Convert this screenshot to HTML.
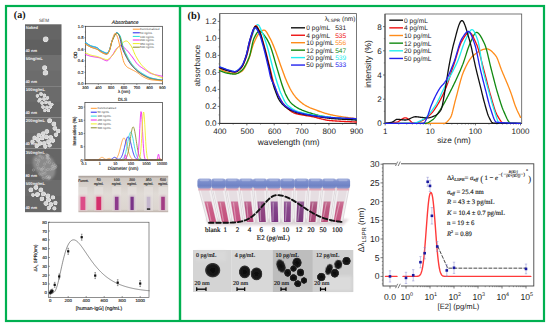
<!DOCTYPE html><html><head><meta charset="utf-8"><style>html,body{margin:0;padding:0;width:550px;height:327px;overflow:hidden;background:#fff}</style></head><body><svg width="550" height="327" viewBox="0 0 550 327" style="position:absolute;left:0;top:0;text-rendering:geometricPrecision">
<defs>
<radialGradient id="np" cx="0.5" cy="0.5" r="0.5"><stop offset="0" stop-color="#a8a8a8"/><stop offset="0.55" stop-color="#c8c8c8"/><stop offset="0.8" stop-color="#ececec"/><stop offset="1" stop-color="#808080" stop-opacity="0"/></radialGradient>
<radialGradient id="np2" cx="0.45" cy="0.45" r="0.55"><stop offset="0" stop-color="#d2d2d2"/><stop offset="0.6" stop-color="#dadada"/><stop offset="0.85" stop-color="#e8e8e8"/><stop offset="1" stop-color="#b0b0b0" stop-opacity="0.25"/></radialGradient>
<radialGradient id="tp" cx="0.5" cy="0.5" r="0.5"><stop offset="0" stop-color="#0a0a0a"/><stop offset="0.7" stop-color="#1a1a1a"/><stop offset="0.88" stop-color="#3a3a3a"/><stop offset="1" stop-color="#606060" stop-opacity="0"/></radialGradient>
<filter id="blur1" x="-50%" y="-50%" width="200%" height="200%"><feGaussianBlur stdDeviation="0.35"/></filter>
<filter id="blur2" x="-50%" y="-50%" width="200%" height="200%"><feGaussianBlur stdDeviation="0.8"/></filter><filter id="blurT" x="-50%" y="-50%" width="200%" height="200%"><feGaussianBlur stdDeviation="0.55"/></filter>
<filter id="blur3" x="-50%" y="-50%" width="200%" height="200%"><feGaussianBlur stdDeviation="1.5"/></filter>
<linearGradient id="cap" x1="0" y1="0" x2="0" y2="1"><stop offset="0" stop-color="#a4b0dc"/><stop offset="0.3" stop-color="#7c8ecc"/><stop offset="0.75" stop-color="#6e82c4"/><stop offset="1" stop-color="#8a9ad0"/></linearGradient>
<linearGradient id="cuv" x1="0" y1="0" x2="0" y2="1"><stop offset="0" stop-color="#a49a94"/><stop offset="0.07" stop-color="#cfc8c2"/><stop offset="0.5" stop-color="#e0dbd6"/><stop offset="0.92" stop-color="#dcd5cf"/><stop offset="1" stop-color="#bcb2aa"/></linearGradient>
</defs>
<rect x="0" y="0" width="550" height="327" fill="#ffffff" stroke="none" stroke-width="1" />
<text x="13.8" y="18.1" font-family="Liberation Serif" font-size="10" fill="#111" text-anchor="start" font-weight="bold" font-style="normal" >(a)</text>
<text x="44" y="22.2" font-family="Liberation Sans" font-size="4.6" fill="#444" text-anchor="middle" font-weight="normal" font-style="normal" >SEM</text>
<rect x="25" y="24.3" width="36.5" height="30.7" fill="#606060" stroke="none" stroke-width="1" />
<rect x="25" y="24.3" width="36.5" height="15.35" fill="#ffffff" stroke="none" stroke-width="1" opacity="0.03"/>
<text x="25.8" y="29.3" font-family="Liberation Sans" font-size="4.1" fill="#f4f4f4" text-anchor="start" font-weight="bold" font-style="normal" >Naked</text>
<text x="25.4" y="51.6" font-family="Liberation Sans" font-size="4.0" fill="#f4f4f4" text-anchor="start" font-weight="bold" font-style="normal" >40 nm</text>
<rect x="25" y="55" width="36.5" height="31.2" fill="#6c6c6c" stroke="none" stroke-width="1" />
<rect x="25" y="55" width="36.5" height="15.6" fill="#ffffff" stroke="none" stroke-width="1" opacity="0.03"/>
<text x="25.8" y="60" font-family="Liberation Sans" font-size="4.1" fill="#f4f4f4" text-anchor="start" font-weight="bold" font-style="normal" >50ng/mL</text>
<text x="25.4" y="82.8" font-family="Liberation Sans" font-size="4.0" fill="#f4f4f4" text-anchor="start" font-weight="bold" font-style="normal" >40 nm</text>
<rect x="25" y="86.2" width="36.5" height="31.2" fill="#676767" stroke="none" stroke-width="1" />
<rect x="25" y="86.2" width="36.5" height="15.6" fill="#ffffff" stroke="none" stroke-width="1" opacity="0.03"/>
<text x="25.8" y="91.2" font-family="Liberation Sans" font-size="4.1" fill="#f4f4f4" text-anchor="start" font-weight="bold" font-style="normal" >100ng/mL</text>
<text x="25.4" y="114" font-family="Liberation Sans" font-size="4.0" fill="#f4f4f4" text-anchor="start" font-weight="bold" font-style="normal" >40 nm</text>
<rect x="25" y="117.4" width="36.5" height="31.2" fill="#6a6a6a" stroke="none" stroke-width="1" />
<rect x="25" y="117.4" width="36.5" height="15.6" fill="#ffffff" stroke="none" stroke-width="1" opacity="0.03"/>
<text x="25.8" y="122.4" font-family="Liberation Sans" font-size="4.1" fill="#f4f4f4" text-anchor="start" font-weight="bold" font-style="normal" >200ng/mL</text>
<text x="25.4" y="145.2" font-family="Liberation Sans" font-size="4.0" fill="#f4f4f4" text-anchor="start" font-weight="bold" font-style="normal" >40 nm</text>
<rect x="25" y="148.6" width="36.5" height="31.4" fill="#626262" stroke="none" stroke-width="1" />
<rect x="25" y="148.6" width="36.5" height="15.7" fill="#ffffff" stroke="none" stroke-width="1" opacity="0.03"/>
<text x="25.8" y="153.6" font-family="Liberation Sans" font-size="4.1" fill="#f4f4f4" text-anchor="start" font-weight="bold" font-style="normal" >350ng/mL</text>
<text x="25.4" y="176.6" font-family="Liberation Sans" font-size="4.0" fill="#f4f4f4" text-anchor="start" font-weight="bold" font-style="normal" >80 nm</text>
<rect x="25" y="180" width="36.5" height="32.2" fill="#686868" stroke="none" stroke-width="1" />
<rect x="25" y="180" width="36.5" height="16.1" fill="#ffffff" stroke="none" stroke-width="1" opacity="0.03"/>
<text x="25.8" y="185" font-family="Liberation Sans" font-size="4.1" fill="#f4f4f4" text-anchor="start" font-weight="bold" font-style="normal" >500ng/mL</text>
<text x="25.4" y="208.8" font-family="Liberation Sans" font-size="4.0" fill="#f4f4f4" text-anchor="start" font-weight="bold" font-style="normal" >40 nm</text>
<path d="M33,158 Q38,152 46,155 Q54,157 55,166 Q57,176 50,180 Q43,181 39,174 Q31,167 33,158 Z" fill="#8a8a8a" filter="url(#blur2)"/>
<circle cx="38.47" cy="168.15" r="1.1" fill="none" stroke="#c0c0c0" stroke-width="0.45" opacity="0.8"/>
<circle cx="41.51" cy="169.7" r="1.1" fill="none" stroke="#c0c0c0" stroke-width="0.45" opacity="0.8"/>
<circle cx="47.39" cy="155.7" r="1.1" fill="none" stroke="#c0c0c0" stroke-width="0.45" opacity="0.8"/>
<circle cx="38.97" cy="160.09" r="1.1" fill="none" stroke="#c0c0c0" stroke-width="0.45" opacity="0.8"/>
<circle cx="55.9" cy="166.23" r="1.1" fill="none" stroke="#c0c0c0" stroke-width="0.45" opacity="0.8"/>
<circle cx="52.24" cy="166.39" r="1.1" fill="none" stroke="#c0c0c0" stroke-width="0.45" opacity="0.8"/>
<circle cx="47.7" cy="157.92" r="1.1" fill="none" stroke="#c0c0c0" stroke-width="0.45" opacity="0.8"/>
<circle cx="47.6" cy="176.57" r="1.1" fill="none" stroke="#c0c0c0" stroke-width="0.45" opacity="0.8"/>
<circle cx="45.03" cy="173.27" r="1.1" fill="none" stroke="#c0c0c0" stroke-width="0.45" opacity="0.8"/>
<circle cx="48.44" cy="155.66" r="1.1" fill="none" stroke="#c0c0c0" stroke-width="0.45" opacity="0.8"/>
<circle cx="50.44" cy="169.37" r="1.1" fill="none" stroke="#c0c0c0" stroke-width="0.45" opacity="0.8"/>
<circle cx="52.91" cy="166.29" r="1.1" fill="none" stroke="#c0c0c0" stroke-width="0.45" opacity="0.8"/>
<circle cx="49.53" cy="176.85" r="1.1" fill="none" stroke="#c0c0c0" stroke-width="0.45" opacity="0.8"/>
<circle cx="49.42" cy="177.95" r="1.1" fill="none" stroke="#c0c0c0" stroke-width="0.45" opacity="0.8"/>
<circle cx="42.08" cy="174.82" r="1.1" fill="none" stroke="#c0c0c0" stroke-width="0.45" opacity="0.8"/>
<circle cx="43.23" cy="178.33" r="1.1" fill="none" stroke="#c0c0c0" stroke-width="0.45" opacity="0.8"/>
<circle cx="36.13" cy="159.64" r="1.1" fill="none" stroke="#c0c0c0" stroke-width="0.45" opacity="0.8"/>
<circle cx="55.21" cy="165.34" r="1.1" fill="none" stroke="#c0c0c0" stroke-width="0.45" opacity="0.8"/>
<circle cx="47.41" cy="161.83" r="1.1" fill="none" stroke="#c0c0c0" stroke-width="0.45" opacity="0.8"/>
<circle cx="44.67" cy="164.03" r="1.1" fill="none" stroke="#c0c0c0" stroke-width="0.45" opacity="0.8"/>
<circle cx="41.07" cy="169.21" r="1.1" fill="none" stroke="#c0c0c0" stroke-width="0.45" opacity="0.8"/>
<circle cx="46.44" cy="177.51" r="1.1" fill="none" stroke="#c0c0c0" stroke-width="0.45" opacity="0.8"/>
<circle cx="48.69" cy="178.15" r="1.1" fill="none" stroke="#c0c0c0" stroke-width="0.45" opacity="0.8"/>
<circle cx="48.44" cy="158.24" r="1.1" fill="none" stroke="#c0c0c0" stroke-width="0.45" opacity="0.8"/>
<circle cx="53.81" cy="168.8" r="1.1" fill="none" stroke="#c0c0c0" stroke-width="0.45" opacity="0.8"/>
<circle cx="49.42" cy="159.49" r="1.1" fill="none" stroke="#c0c0c0" stroke-width="0.45" opacity="0.8"/>
<circle cx="52.13" cy="168.91" r="1.1" fill="none" stroke="#c0c0c0" stroke-width="0.45" opacity="0.8"/>
<circle cx="42.44" cy="157.92" r="1.1" fill="none" stroke="#c0c0c0" stroke-width="0.45" opacity="0.8"/>
<circle cx="39.76" cy="173.99" r="1.1" fill="none" stroke="#c0c0c0" stroke-width="0.45" opacity="0.8"/>
<circle cx="47.13" cy="155.17" r="1.1" fill="none" stroke="#c0c0c0" stroke-width="0.45" opacity="0.8"/>
<circle cx="49.52" cy="162.6" r="1.1" fill="none" stroke="#c0c0c0" stroke-width="0.45" opacity="0.8"/>
<circle cx="40.12" cy="156" r="1.1" fill="none" stroke="#c0c0c0" stroke-width="0.45" opacity="0.8"/>
<circle cx="46.79" cy="154.82" r="1.1" fill="none" stroke="#c0c0c0" stroke-width="0.45" opacity="0.8"/>
<circle cx="37.54" cy="164.61" r="1.1" fill="none" stroke="#c0c0c0" stroke-width="0.45" opacity="0.8"/>
<circle cx="47.04" cy="158.06" r="1.1" fill="none" stroke="#c0c0c0" stroke-width="0.45" opacity="0.8"/>
<circle cx="53.62" cy="163.82" r="1.1" fill="none" stroke="#c0c0c0" stroke-width="0.45" opacity="0.8"/>
<circle cx="43.59" cy="167.52" r="1.1" fill="none" stroke="#c0c0c0" stroke-width="0.45" opacity="0.8"/>
<circle cx="47.81" cy="169.49" r="1.1" fill="none" stroke="#c0c0c0" stroke-width="0.45" opacity="0.8"/>
<circle cx="45.86" cy="170.12" r="1.1" fill="none" stroke="#c0c0c0" stroke-width="0.45" opacity="0.8"/>
<circle cx="54.63" cy="167.18" r="1.1" fill="none" stroke="#c0c0c0" stroke-width="0.45" opacity="0.8"/>
<circle cx="42.92" cy="172.73" r="1.1" fill="none" stroke="#c0c0c0" stroke-width="0.45" opacity="0.8"/>
<circle cx="38.47" cy="161.83" r="1.1" fill="none" stroke="#c0c0c0" stroke-width="0.45" opacity="0.8"/>
<circle cx="55.49" cy="167.55" r="1.1" fill="none" stroke="#c0c0c0" stroke-width="0.45" opacity="0.8"/>
<circle cx="42.55" cy="169.08" r="1.1" fill="none" stroke="#c0c0c0" stroke-width="0.45" opacity="0.8"/>
<circle cx="33.46" cy="170.01" r="1.1" fill="none" stroke="#c0c0c0" stroke-width="0.45" opacity="0.8"/>
<circle cx="47.54" cy="155.56" r="1.1" fill="none" stroke="#c0c0c0" stroke-width="0.45" opacity="0.8"/>
<circle cx="45.8" cy="39.4" r="3" fill="url(#np2)" filter="url(#blur1)"/>
<circle cx="44.7" cy="67.9" r="2.6" fill="url(#np2)" filter="url(#blur1)"/>
<circle cx="45.6" cy="72.9" r="2.9" fill="url(#np2)" filter="url(#blur1)"/>
<circle cx="37.5" cy="96" r="1.9" fill="url(#np2)" filter="url(#blur1)"/>
<circle cx="41" cy="94" r="2" fill="url(#np2)" filter="url(#blur1)"/>
<circle cx="44.5" cy="95.5" r="2" fill="url(#np2)" filter="url(#blur1)"/>
<circle cx="40" cy="99.5" r="2" fill="url(#np2)" filter="url(#blur1)"/>
<circle cx="44" cy="99" r="2" fill="url(#np2)" filter="url(#blur1)"/>
<circle cx="47.5" cy="98" r="2" fill="url(#np2)" filter="url(#blur1)"/>
<circle cx="42" cy="103" r="2" fill="url(#np2)" filter="url(#blur1)"/>
<circle cx="46" cy="102.5" r="2" fill="url(#np2)" filter="url(#blur1)"/>
<circle cx="49.5" cy="103" r="2" fill="url(#np2)" filter="url(#blur1)"/>
<circle cx="43" cy="107" r="2" fill="url(#np2)" filter="url(#blur1)"/>
<circle cx="47" cy="107.5" r="2" fill="url(#np2)" filter="url(#blur1)"/>
<circle cx="50.5" cy="107" r="1.9" fill="url(#np2)" filter="url(#blur1)"/>
<circle cx="45" cy="110.5" r="1.9" fill="url(#np2)" filter="url(#blur1)"/>
<circle cx="48.5" cy="110.5" r="1.9" fill="url(#np2)" filter="url(#blur1)"/>
<circle cx="39" cy="101" r="1.8" fill="url(#np2)" filter="url(#blur1)"/>
<circle cx="52" cy="104.5" r="1.8" fill="url(#np2)" filter="url(#blur1)"/>
<circle cx="49.7" cy="120.9" r="2.6" fill="url(#np2)" filter="url(#blur1)"/>
<circle cx="54" cy="124.1" r="2.5" fill="url(#np2)" filter="url(#blur1)"/>
<circle cx="55" cy="128.4" r="2.5" fill="url(#np2)" filter="url(#blur1)"/>
<circle cx="58.3" cy="131.1" r="2.4" fill="url(#np2)" filter="url(#blur1)"/>
<circle cx="56.1" cy="134.8" r="2.4" fill="url(#np2)" filter="url(#blur1)"/>
<circle cx="47" cy="131.6" r="2.5" fill="url(#np2)" filter="url(#blur1)"/>
<circle cx="43.3" cy="133.7" r="2.5" fill="url(#np2)" filter="url(#blur1)"/>
<circle cx="39" cy="135.3" r="2.4" fill="url(#np2)" filter="url(#blur1)"/>
<circle cx="34.7" cy="138" r="2.4" fill="url(#np2)" filter="url(#blur1)"/>
<circle cx="37.9" cy="139.6" r="2.5" fill="url(#np2)" filter="url(#blur1)"/>
<circle cx="42.2" cy="138" r="2.5" fill="url(#np2)" filter="url(#blur1)"/>
<circle cx="46.5" cy="137" r="2.5" fill="url(#np2)" filter="url(#blur1)"/>
<circle cx="50.8" cy="137.5" r="2.5" fill="url(#np2)" filter="url(#blur1)"/>
<circle cx="48.6" cy="141.8" r="2.5" fill="url(#np2)" filter="url(#blur1)"/>
<circle cx="44.3" cy="143.4" r="2.5" fill="url(#np2)" filter="url(#blur1)"/>
<circle cx="40" cy="143.4" r="2.5" fill="url(#np2)" filter="url(#blur1)"/>
<circle cx="32.6" cy="141.8" r="2.3" fill="url(#np2)" filter="url(#blur1)"/>
<circle cx="36.8" cy="146" r="2.3" fill="url(#np2)" filter="url(#blur1)"/>
<circle cx="45.4" cy="146.6" r="2.3" fill="url(#np2)" filter="url(#blur1)"/>
<circle cx="49.7" cy="145.5" r="2.3" fill="url(#np2)" filter="url(#blur1)"/>
<circle cx="52.9" cy="140.7" r="2.4" fill="url(#np2)" filter="url(#blur1)"/>
<circle cx="31" cy="190" r="2.5" fill="url(#np2)" filter="url(#blur1)"/>
<circle cx="36" cy="187.5" r="2.5" fill="url(#np2)" filter="url(#blur1)"/>
<circle cx="41" cy="190" r="2.5" fill="url(#np2)" filter="url(#blur1)"/>
<circle cx="37.5" cy="194.5" r="2.6" fill="url(#np2)" filter="url(#blur1)"/>
<circle cx="43.5" cy="194" r="2.6" fill="url(#np2)" filter="url(#blur1)"/>
<circle cx="48" cy="196" r="2.5" fill="url(#np2)" filter="url(#blur1)"/>
<circle cx="42" cy="199" r="2.4" fill="url(#np2)" filter="url(#blur1)"/>
<circle cx="48.5" cy="200" r="2.6" fill="url(#np2)" filter="url(#blur1)"/>
<circle cx="53" cy="197.5" r="2.3" fill="url(#np2)" filter="url(#blur1)"/>
<circle cx="46" cy="203.5" r="2.5" fill="url(#np2)" filter="url(#blur1)"/>
<circle cx="51" cy="204.5" r="2.5" fill="url(#np2)" filter="url(#blur1)"/>
<circle cx="55.5" cy="203" r="2.3" fill="url(#np2)" filter="url(#blur1)"/>
<circle cx="49" cy="208" r="2.3" fill="url(#np2)" filter="url(#blur1)"/>
<circle cx="54.5" cy="208.5" r="2.2" fill="url(#np2)" filter="url(#blur1)"/>
<circle cx="33" cy="195" r="2" fill="url(#np2)" filter="url(#blur1)"/>
<text x="125.2" y="24.2" font-family="Liberation Sans" font-size="5.0" fill="#222" text-anchor="middle" font-weight="normal" font-style="italic"  stroke="#222" stroke-width="0.14">Absorbance</text>
<rect x="85.5" y="26.3" width="77" height="57.5" fill="none" stroke="#333" stroke-width="0.7" />
<line x1="84.3" y1="83.8" x2="85.5" y2="83.8" stroke="#333" stroke-width="0.5" />
<text x="83.5" y="85.3" font-family="Liberation Sans" font-size="4.1" fill="#222" text-anchor="end" font-weight="normal" font-style="normal"  stroke="#222" stroke-width="0.14">0.0</text>
<line x1="84.3" y1="72.3" x2="85.5" y2="72.3" stroke="#333" stroke-width="0.5" />
<text x="83.5" y="73.8" font-family="Liberation Sans" font-size="4.1" fill="#222" text-anchor="end" font-weight="normal" font-style="normal"  stroke="#222" stroke-width="0.14">0.2</text>
<line x1="84.3" y1="60.8" x2="85.5" y2="60.8" stroke="#333" stroke-width="0.5" />
<text x="83.5" y="62.3" font-family="Liberation Sans" font-size="4.1" fill="#222" text-anchor="end" font-weight="normal" font-style="normal"  stroke="#222" stroke-width="0.14">0.4</text>
<line x1="84.3" y1="49.3" x2="85.5" y2="49.3" stroke="#333" stroke-width="0.5" />
<text x="83.5" y="50.8" font-family="Liberation Sans" font-size="4.1" fill="#222" text-anchor="end" font-weight="normal" font-style="normal"  stroke="#222" stroke-width="0.14">0.6</text>
<line x1="84.3" y1="37.8" x2="85.5" y2="37.8" stroke="#333" stroke-width="0.5" />
<text x="83.5" y="39.3" font-family="Liberation Sans" font-size="4.1" fill="#222" text-anchor="end" font-weight="normal" font-style="normal"  stroke="#222" stroke-width="0.14">0.8</text>
<line x1="84.3" y1="26.3" x2="85.5" y2="26.3" stroke="#333" stroke-width="0.5" />
<text x="83.5" y="27.8" font-family="Liberation Sans" font-size="4.1" fill="#222" text-anchor="end" font-weight="normal" font-style="normal"  stroke="#222" stroke-width="0.14">1.0</text>
<line x1="84.8" y1="78.05" x2="85.5" y2="78.05" stroke="#333" stroke-width="0.4" />
<line x1="84.8" y1="66.55" x2="85.5" y2="66.55" stroke="#333" stroke-width="0.4" />
<line x1="84.8" y1="55.05" x2="85.5" y2="55.05" stroke="#333" stroke-width="0.4" />
<line x1="84.8" y1="43.55" x2="85.5" y2="43.55" stroke="#333" stroke-width="0.4" />
<line x1="84.8" y1="32.05" x2="85.5" y2="32.05" stroke="#333" stroke-width="0.4" />
<line x1="85.5" y1="83.8" x2="85.5" y2="85" stroke="#333" stroke-width="0.5" />
<text x="85.5" y="89" font-family="Liberation Sans" font-size="3.8" fill="#222" text-anchor="middle" font-weight="normal" font-style="normal"  stroke="#222" stroke-width="0.14">300</text>
<line x1="98.33" y1="83.8" x2="98.33" y2="85" stroke="#333" stroke-width="0.5" />
<text x="98.33" y="89" font-family="Liberation Sans" font-size="3.8" fill="#222" text-anchor="middle" font-weight="normal" font-style="normal"  stroke="#222" stroke-width="0.14">400</text>
<line x1="111.17" y1="83.8" x2="111.17" y2="85" stroke="#333" stroke-width="0.5" />
<text x="111.17" y="89" font-family="Liberation Sans" font-size="3.8" fill="#222" text-anchor="middle" font-weight="normal" font-style="normal"  stroke="#222" stroke-width="0.14">500</text>
<line x1="124" y1="83.8" x2="124" y2="85" stroke="#333" stroke-width="0.5" />
<text x="124" y="89" font-family="Liberation Sans" font-size="3.8" fill="#222" text-anchor="middle" font-weight="normal" font-style="normal"  stroke="#222" stroke-width="0.14">600</text>
<line x1="136.83" y1="83.8" x2="136.83" y2="85" stroke="#333" stroke-width="0.5" />
<text x="136.83" y="89" font-family="Liberation Sans" font-size="3.8" fill="#222" text-anchor="middle" font-weight="normal" font-style="normal"  stroke="#222" stroke-width="0.14">700</text>
<line x1="149.67" y1="83.8" x2="149.67" y2="85" stroke="#333" stroke-width="0.5" />
<text x="149.67" y="89" font-family="Liberation Sans" font-size="3.8" fill="#222" text-anchor="middle" font-weight="normal" font-style="normal"  stroke="#222" stroke-width="0.14">800</text>
<line x1="162.5" y1="83.8" x2="162.5" y2="85" stroke="#333" stroke-width="0.5" />
<text x="162.5" y="89" font-family="Liberation Sans" font-size="3.8" fill="#222" text-anchor="middle" font-weight="normal" font-style="normal"  stroke="#222" stroke-width="0.14">900</text>
<text x="124" y="92.7" font-family="Liberation Sans" font-size="4.3" fill="#222" text-anchor="middle" font-weight="normal" font-style="normal"  stroke="#222" stroke-width="0.14">λ (nm)</text>
<text x="76.5" y="55" font-family="Liberation Sans" font-size="4.6" fill="#222" text-anchor="middle" font-weight="normal" font-style="normal" transform="rotate(-90 76.5 55)" stroke="#222" stroke-width="0.14">OD</text>
<path d="M85.5,54.47 L86.14,54.7 L86.78,54.93 L87.42,55.17 L88.07,55.4 L88.71,55.63 L89.35,55.84 L89.99,56.03 L90.63,56.2 L91.28,56.34 L91.92,56.48 L92.56,56.6 L93.2,56.71 L93.84,56.81 L94.48,56.92 L95.12,57.02 L95.77,57.12 L96.41,57.23 L97.05,57.35 L97.69,57.46 L98.33,57.57 L98.97,57.69 L99.62,57.83 L100.26,58 L100.9,58.26 L101.54,58.59 L102.18,58.94 L102.83,59.29 L103.47,59.6 L104.11,59.88 L104.75,60.18 L105.39,60.47 L106.03,60.69 L106.67,60.8 L107.32,60.72 L107.96,60.41 L108.6,59.91 L109.24,59.25 L109.88,58.48 L110.53,57.63 L111.17,56.75 L111.81,55.88 L112.45,55.05 L113.09,54.16 L113.73,53.11 L114.38,51.99 L115.02,50.86 L115.66,49.79 L116.3,48.86 L116.94,48.15 L117.58,47.56 L118.22,46.97 L118.87,46.45 L119.51,46.02 L120.15,45.73 L120.79,45.62 L121.43,45.72 L122.08,45.98 L122.72,46.38 L123.36,46.89 L124,47.47 L124.64,48.08 L125.28,48.7 L125.92,49.3 L126.57,49.91 L127.21,50.58 L127.85,51.31 L128.49,52.08 L129.13,52.89 L129.78,53.71 L130.42,54.55 L131.06,55.38 L131.7,56.2 L132.34,57.04 L132.98,57.94 L133.62,58.88 L134.27,59.83 L134.91,60.78 L135.55,61.7 L136.19,62.59 L136.83,63.42 L137.47,64.17 L138.12,64.82 L138.76,65.4 L139.4,65.93 L140.04,66.43 L140.68,66.9 L141.32,67.34 L141.97,67.76 L142.61,68.18 L143.25,68.59 L143.89,69 L144.53,69.42 L145.18,69.86 L145.82,70.32 L146.46,70.78 L147.1,71.23 L147.74,71.68 L148.38,72.1 L149.03,72.5 L149.67,72.86 L150.31,73.18 L150.95,73.45 L151.59,73.68 L152.23,73.89 L152.88,74.09 L153.52,74.28 L154.16,74.45 L154.8,74.62 L155.44,74.77 L156.08,74.92 L156.72,75.06 L157.37,75.2 L158.01,75.34 L158.65,75.47 L159.29,75.61 L159.93,75.74 L160.57,75.88 L161.22,76.02 L161.86,76.17 L162.5,76.33" fill="none" stroke="#ee22ee" stroke-width="1.0" stroke-linejoin="round" stroke-linecap="round" />
<path d="M85.5,52.75 L86.14,53.05 L86.78,53.36 L87.42,53.68 L88.07,53.99 L88.71,54.3 L89.35,54.58 L89.99,54.83 L90.63,55.05 L91.28,55.23 L91.92,55.39 L92.56,55.54 L93.2,55.67 L93.84,55.79 L94.48,55.92 L95.12,56.04 L95.77,56.18 L96.41,56.32 L97.05,56.49 L97.69,56.68 L98.33,56.88 L98.97,57.11 L99.62,57.35 L100.26,57.59 L100.9,57.84 L101.54,58.08 L102.18,58.32 L102.83,58.54 L103.47,58.75 L104.11,58.96 L104.75,59.18 L105.39,59.4 L106.03,59.57 L106.67,59.65 L107.32,59.59 L107.96,59.34 L108.6,58.96 L109.24,58.47 L109.88,57.92 L110.53,57.34 L111.17,56.77 L111.81,56.17 L112.45,55.45 L113.09,54.64 L113.73,53.76 L114.38,52.83 L115.02,51.87 L115.66,50.89 L116.3,49.92 L116.94,48.97 L117.58,48.08 L118.22,47.24 L118.87,46.49 L119.51,45.85 L120.15,45.25 L120.79,44.63 L121.43,44.01 L122.08,43.4 L122.72,42.82 L123.36,42.3 L124,41.84 L124.64,41.47 L125.28,41.2 L125.92,41.05 L126.57,41.04 L127.21,41.28 L127.85,41.75 L128.49,42.39 L129.13,43.17 L129.78,44.03 L130.42,44.94 L131.06,45.85 L131.7,46.9 L132.34,48.22 L132.98,49.72 L133.62,51.3 L134.27,52.87 L134.91,54.34 L135.55,55.62 L136.19,56.78 L136.83,57.9 L137.47,59 L138.12,60.07 L138.76,61.09 L139.4,62.06 L140.04,62.99 L140.68,63.86 L141.32,64.66 L141.97,65.4 L142.61,66.09 L143.25,66.75 L143.89,67.39 L144.53,68.01 L145.18,68.6 L145.82,69.16 L146.46,69.7 L147.1,70.22 L147.74,70.72 L148.38,71.19 L149.03,71.65 L149.67,72.08 L150.31,72.49 L150.95,72.88 L151.59,73.24 L152.23,73.59 L152.88,73.93 L153.52,74.25 L154.16,74.55 L154.8,74.84 L155.44,75.13 L156.08,75.4 L156.72,75.67 L157.37,75.93 L158.01,76.19 L158.65,76.45 L159.29,76.7 L159.93,76.96 L160.57,77.23 L161.22,77.49 L161.86,77.77 L162.5,78.05" fill="none" stroke="#eeee22" stroke-width="1.0" stroke-linejoin="round" stroke-linecap="round" />
<path d="M85.5,42.52 L86.14,42.95 L86.78,43.4 L87.42,43.87 L88.07,44.33 L88.71,44.77 L89.35,45.18 L89.99,45.55 L90.63,45.85 L91.28,46.1 L91.92,46.3 L92.56,46.48 L93.2,46.64 L93.84,46.79 L94.48,46.94 L95.12,47.11 L95.77,47.3 L96.41,47.53 L97.05,47.8 L97.69,48.21 L98.33,48.76 L98.97,49.37 L99.62,49.94 L100.26,50.39 L100.9,50.79 L101.54,51.16 L102.18,51.5 L102.83,51.82 L103.47,52.12 L104.11,52.41 L104.75,52.72 L105.39,53 L106.03,53.22 L106.67,53.32 L107.32,53.14 L107.96,52.5 L108.6,51.54 L109.24,50.45 L109.88,48.8 L110.53,46.39 L111.17,43.75 L111.81,41.4 L112.45,39.73 L113.09,38.23 L113.73,36.76 L114.38,35.4 L115.02,34.23 L115.66,33.33 L116.3,32.77 L116.94,32.64 L117.58,33 L118.22,33.78 L118.87,34.81 L119.51,36.09 L120.15,38.49 L120.79,41.64 L121.43,44.87 L122.08,47.52 L122.72,49.33 L123.36,50.91 L124,52.32 L124.64,53.62 L125.28,54.84 L125.92,56.05 L126.57,57.27 L127.21,58.49 L127.85,59.68 L128.49,60.82 L129.13,61.89 L129.78,62.86 L130.42,63.73 L131.06,64.56 L131.7,65.37 L132.34,66.13 L132.98,66.87 L133.62,67.58 L134.27,68.25 L134.91,68.89 L135.55,69.5 L136.19,70.08 L136.83,70.63 L137.47,71.15 L138.12,71.64 L138.76,72.11 L139.4,72.55 L140.04,72.97 L140.68,73.37 L141.32,73.76 L141.97,74.13 L142.61,74.49 L143.25,74.84 L143.89,75.17 L144.53,75.51 L145.18,75.85 L145.82,76.18 L146.46,76.5 L147.1,76.81 L147.74,77.1 L148.38,77.38 L149.03,77.63 L149.67,77.86 L150.31,78.05 L150.95,78.22 L151.59,78.38 L152.23,78.53 L152.88,78.68 L153.52,78.81 L154.16,78.94 L154.8,79.06 L155.44,79.17 L156.08,79.28 L156.72,79.39 L157.37,79.49 L158.01,79.6 L158.65,79.7 L159.29,79.8 L159.93,79.9 L160.57,80.01 L161.22,80.12 L161.86,80.23 L162.5,80.35" fill="none" stroke="#2222ee" stroke-width="1.0" stroke-linejoin="round" stroke-linecap="round" />
<path d="M85.5,42.4 L86.14,42.81 L86.78,43.24 L87.42,43.67 L88.07,44.11 L88.71,44.52 L89.35,44.91 L89.99,45.26 L90.63,45.56 L91.28,45.81 L91.92,46.02 L92.56,46.2 L93.2,46.37 L93.84,46.53 L94.48,46.69 L95.12,46.87 L95.77,47.06 L96.41,47.3 L97.05,47.57 L97.69,47.97 L98.33,48.49 L98.97,49.06 L99.62,49.6 L100.26,50.04 L100.9,50.45 L101.54,50.83 L102.18,51.19 L102.83,51.53 L103.47,51.83 L104.11,52.12 L104.75,52.43 L105.39,52.72 L106.03,52.93 L106.67,53.03 L107.32,52.86 L107.96,52.21 L108.6,51.25 L109.24,50.16 L109.88,48.54 L110.53,46.2 L111.17,43.64 L111.81,41.36 L112.45,39.76 L113.09,38.32 L113.73,36.92 L114.38,35.61 L115.02,34.47 L115.66,33.55 L116.3,32.91 L116.94,32.63 L117.58,32.76 L118.22,33.24 L118.87,34 L119.51,34.91 L120.15,35.98 L120.79,37.76 L121.43,40.14 L122.08,42.78 L122.72,45.36 L123.36,47.56 L124,49.27 L124.64,50.85 L125.28,52.33 L125.92,53.71 L126.57,55.02 L127.21,56.28 L127.85,57.5 L128.49,58.69 L129.13,59.83 L129.78,60.91 L130.42,61.93 L131.06,62.86 L131.7,63.72 L132.34,64.55 L132.98,65.34 L133.62,66.09 L134.27,66.82 L134.91,67.51 L135.55,68.17 L136.19,68.8 L136.83,69.4 L137.47,69.96 L138.12,70.5 L138.76,71.01 L139.4,71.49 L140.04,71.95 L140.68,72.39 L141.32,72.81 L141.97,73.22 L142.61,73.62 L143.25,74 L143.89,74.38 L144.53,74.75 L145.18,75.12 L145.82,75.49 L146.46,75.86 L147.1,76.21 L147.74,76.55 L148.38,76.88 L149.03,77.18 L149.67,77.45 L150.31,77.69 L150.95,77.9 L151.59,78.09 L152.23,78.26 L152.88,78.43 L153.52,78.59 L154.16,78.73 L154.8,78.87 L155.44,79 L156.08,79.13 L156.72,79.25 L157.37,79.37 L158.01,79.49 L158.65,79.61 L159.29,79.72 L159.93,79.84 L160.57,79.96 L161.22,80.09 L161.86,80.22 L162.5,80.35" fill="none" stroke="#22dddd" stroke-width="1.0" stroke-linejoin="round" stroke-linecap="round" />
<path d="M85.5,44.12 L86.14,44.49 L86.78,44.87 L87.42,45.26 L88.07,45.64 L88.71,46.01 L89.35,46.37 L89.99,46.7 L90.63,47 L91.28,47.27 L91.92,47.51 L92.56,47.73 L93.2,47.93 L93.84,48.14 L94.48,48.34 L95.12,48.55 L95.77,48.78 L96.41,49.02 L97.05,49.3 L97.69,49.62 L98.33,49.99 L98.97,50.38 L99.62,50.79 L100.26,51.19 L100.9,51.63 L101.54,52.1 L102.18,52.55 L102.83,52.95 L103.47,53.27 L104.11,53.52 L104.75,53.76 L105.39,53.96 L106.03,54.12 L106.67,54.19 L107.32,54.01 L107.96,53.36 L108.6,52.41 L109.24,51.31 L109.88,49.67 L110.53,47.29 L111.17,44.67 L111.81,42.32 L112.45,40.65 L113.09,39.12 L113.73,37.62 L114.38,36.23 L115.02,35.02 L115.66,34.06 L116.3,33.43 L116.94,33.2 L117.58,33.42 L118.22,34.01 L118.87,34.86 L119.51,35.87 L120.15,37.3 L120.79,39.65 L121.43,42.48 L122.08,45.34 L122.72,47.76 L123.36,49.58 L124,51.25 L124.64,52.79 L125.28,54.23 L125.92,55.57 L126.57,56.85 L127.21,58.08 L127.85,59.25 L128.49,60.37 L129.13,61.42 L129.78,62.41 L130.42,63.33 L131.06,64.18 L131.7,65 L132.34,65.78 L132.98,66.54 L133.62,67.26 L134.27,67.96 L134.91,68.62 L135.55,69.27 L136.19,69.88 L136.83,70.47 L137.47,71.04 L138.12,71.59 L138.76,72.12 L139.4,72.63 L140.04,73.13 L140.68,73.6 L141.32,74.06 L141.97,74.5 L142.61,74.91 L143.25,75.31 L143.89,75.68 L144.53,76.03 L145.18,76.38 L145.82,76.72 L146.46,77.05 L147.1,77.36 L147.74,77.66 L148.38,77.93 L149.03,78.18 L149.67,78.4 L150.31,78.59 L150.95,78.75 L151.59,78.9 L152.23,79.04 L152.88,79.17 L153.52,79.29 L154.16,79.4 L154.8,79.51 L155.44,79.61 L156.08,79.71 L156.72,79.8 L157.37,79.89 L158.01,79.98 L158.65,80.07 L159.29,80.16 L159.93,80.25 L160.57,80.34 L161.22,80.43 L161.86,80.53 L162.5,80.64" fill="none" stroke="#8a8a2a" stroke-width="1.0" stroke-linejoin="round" stroke-linecap="round" />
<path d="M85.5,44.12 L86.14,44.49 L86.78,44.87 L87.42,45.26 L88.07,45.64 L88.71,46.01 L89.35,46.37 L89.99,46.7 L90.63,47 L91.28,47.26 L91.92,47.5 L92.56,47.7 L93.2,47.9 L93.84,48.09 L94.48,48.29 L95.12,48.5 L95.77,48.73 L96.41,48.99 L97.05,49.3 L97.69,49.72 L98.33,50.25 L98.97,50.82 L99.62,51.34 L100.26,51.75 L100.9,52.1 L101.54,52.43 L102.18,52.72 L102.83,53 L103.47,53.27 L104.11,53.55 L104.75,53.86 L105.39,54.15 L106.03,54.37 L106.67,54.47 L107.32,54.25 L107.96,53.47 L108.6,52.32 L109.24,51.02 L109.88,49.21 L110.53,46.68 L111.17,43.9 L111.81,41.33 L112.45,39.36 L113.09,37.42 L113.73,35.57 L114.38,34.1 L115.02,33.28 L115.66,33.38 L116.3,34.34 L116.94,35.75 L117.58,37.3 L118.22,39.42 L118.87,42.04 L119.51,44.92 L120.15,47.8 L120.79,50.45 L121.43,53.02 L122.08,55.72 L122.72,58.34 L123.36,60.68 L124,62.54 L124.64,63.82 L125.28,64.9 L125.92,65.8 L126.57,66.55 L127.21,67.12 L127.85,67.57 L128.49,67.93 L129.13,68.23 L129.78,68.53 L130.42,68.85 L131.06,69.19 L131.7,69.52 L132.34,69.85 L132.98,70.18 L133.62,70.51 L134.27,70.85 L134.91,71.19 L135.55,71.55 L136.19,71.92 L136.83,72.3 L137.47,72.72 L138.12,73.18 L138.76,73.66 L139.4,74.17 L140.04,74.68 L140.68,75.18 L141.32,75.67 L141.97,76.12 L142.61,76.54 L143.25,76.9 L143.89,77.23 L144.53,77.55 L145.18,77.87 L145.82,78.17 L146.46,78.46 L147.1,78.72 L147.74,78.96 L148.38,79.17 L149.03,79.35 L149.67,79.49 L150.31,79.6 L150.95,79.71 L151.59,79.81 L152.23,79.9 L152.88,79.98 L153.52,80.06 L154.16,80.13 L154.8,80.2 L155.44,80.27 L156.08,80.33 L156.72,80.39 L157.37,80.44 L158.01,80.5 L158.65,80.55 L159.29,80.61 L159.93,80.67 L160.57,80.73 L161.22,80.79 L161.86,80.86 L162.5,80.92" fill="none" stroke="#ff9933" stroke-width="1.0" stroke-linejoin="round" stroke-linecap="round" />
<line x1="132.8" y1="29.2" x2="139.8" y2="29.2" stroke="#ff9933" stroke-width="1.0" />
<text x="140" y="30.3" font-family="Liberation Sans" font-size="3.0" fill="#444" text-anchor="start" font-weight="normal" font-style="normal" >Functionalized</text>
<line x1="132.8" y1="32.8" x2="139.8" y2="32.8" stroke="#2222ee" stroke-width="1.0" />
<text x="140" y="33.9" font-family="Liberation Sans" font-size="3.0" fill="#444" text-anchor="start" font-weight="normal" font-style="normal" >50 ng/mL</text>
<line x1="132.8" y1="36.4" x2="139.8" y2="36.4" stroke="#22dddd" stroke-width="1.0" />
<text x="140" y="37.5" font-family="Liberation Sans" font-size="3.0" fill="#444" text-anchor="start" font-weight="normal" font-style="normal" >100 ng/mL</text>
<line x1="132.8" y1="40" x2="139.8" y2="40" stroke="#ee22ee" stroke-width="1.0" />
<text x="140" y="41.1" font-family="Liberation Sans" font-size="3.0" fill="#444" text-anchor="start" font-weight="normal" font-style="normal" >200 ng/mL</text>
<line x1="132.8" y1="43.6" x2="139.8" y2="43.6" stroke="#eeee22" stroke-width="1.0" />
<text x="140" y="44.7" font-family="Liberation Sans" font-size="3.0" fill="#444" text-anchor="start" font-weight="normal" font-style="normal" >350 ng/mL</text>
<line x1="132.8" y1="47.2" x2="139.8" y2="47.2" stroke="#8a8a2a" stroke-width="1.0" />
<text x="140" y="48.3" font-family="Liberation Sans" font-size="3.0" fill="#444" text-anchor="start" font-weight="normal" font-style="normal" >500 ng/mL</text>
<text x="122.5" y="100.8" font-family="Liberation Sans" font-size="4.7" fill="#222" text-anchor="middle" font-weight="normal" font-style="normal"  stroke="#222" stroke-width="0.14">DLS</text>
<rect x="84.9" y="102.4" width="77.5" height="57.6" fill="none" stroke="#333" stroke-width="0.7" />
<line x1="83.7" y1="160" x2="84.9" y2="160" stroke="#333" stroke-width="0.5" />
<text x="82.9" y="161.5" font-family="Liberation Sans" font-size="4.1" fill="#222" text-anchor="end" font-weight="normal" font-style="normal"  stroke="#222" stroke-width="0.14">0</text>
<line x1="83.7" y1="146.75" x2="84.9" y2="146.75" stroke="#333" stroke-width="0.5" />
<text x="82.9" y="148.25" font-family="Liberation Sans" font-size="4.1" fill="#222" text-anchor="end" font-weight="normal" font-style="normal"  stroke="#222" stroke-width="0.14">5</text>
<line x1="83.7" y1="133.5" x2="84.9" y2="133.5" stroke="#333" stroke-width="0.5" />
<text x="82.9" y="135" font-family="Liberation Sans" font-size="4.1" fill="#222" text-anchor="end" font-weight="normal" font-style="normal"  stroke="#222" stroke-width="0.14">10</text>
<line x1="83.7" y1="120.25" x2="84.9" y2="120.25" stroke="#333" stroke-width="0.5" />
<text x="82.9" y="121.75" font-family="Liberation Sans" font-size="4.1" fill="#222" text-anchor="end" font-weight="normal" font-style="normal"  stroke="#222" stroke-width="0.14">15</text>
<line x1="83.7" y1="107" x2="84.9" y2="107" stroke="#333" stroke-width="0.5" />
<text x="82.9" y="108.5" font-family="Liberation Sans" font-size="4.1" fill="#222" text-anchor="end" font-weight="normal" font-style="normal"  stroke="#222" stroke-width="0.14">20</text>
<line x1="84.2" y1="160" x2="84.2" y2="161.2" stroke="#333" stroke-width="0.5" />
<text x="84.2" y="165" font-family="Liberation Sans" font-size="3.8" fill="#222" text-anchor="middle" font-weight="normal" font-style="normal"  stroke="#222" stroke-width="0.14">0.1</text>
<line x1="99.75" y1="160" x2="99.75" y2="161.2" stroke="#333" stroke-width="0.5" />
<text x="99.75" y="165" font-family="Liberation Sans" font-size="3.8" fill="#222" text-anchor="middle" font-weight="normal" font-style="normal"  stroke="#222" stroke-width="0.14">1</text>
<line x1="115.3" y1="160" x2="115.3" y2="161.2" stroke="#333" stroke-width="0.5" />
<text x="115.3" y="165" font-family="Liberation Sans" font-size="3.8" fill="#222" text-anchor="middle" font-weight="normal" font-style="normal"  stroke="#222" stroke-width="0.14">10</text>
<line x1="130.85" y1="160" x2="130.85" y2="161.2" stroke="#333" stroke-width="0.5" />
<text x="130.85" y="165" font-family="Liberation Sans" font-size="3.8" fill="#222" text-anchor="middle" font-weight="normal" font-style="normal"  stroke="#222" stroke-width="0.14">100</text>
<line x1="146.4" y1="160" x2="146.4" y2="161.2" stroke="#333" stroke-width="0.5" />
<text x="146.4" y="165" font-family="Liberation Sans" font-size="3.8" fill="#222" text-anchor="middle" font-weight="normal" font-style="normal"  stroke="#222" stroke-width="0.14">1000</text>
<line x1="161.95" y1="160" x2="161.95" y2="161.2" stroke="#333" stroke-width="0.5" />
<text x="161.95" y="165" font-family="Liberation Sans" font-size="3.8" fill="#222" text-anchor="middle" font-weight="normal" font-style="normal"  stroke="#222" stroke-width="0.14">10000</text>
<text x="123" y="169.5" font-family="Liberation Sans" font-size="4.8" fill="#222" text-anchor="middle" font-weight="normal" font-style="normal"  stroke="#222" stroke-width="0.14">Diameter (nm)</text>
<text x="75.5" y="131" font-family="Liberation Sans" font-size="4.6" fill="#222" text-anchor="middle" font-weight="normal" font-style="normal" transform="rotate(-90 75.5 131)" stroke="#222" stroke-width="0.14">Intensities (%)</text>
<path d="M84.2,160 L84.51,160 L84.82,160 L85.14,160 L85.45,160 L85.76,160 L86.07,160 L86.39,160 L86.7,160 L87.01,160 L87.32,160 L87.63,160 L87.95,160 L88.26,160 L88.57,160 L88.88,160 L89.2,160 L89.51,160 L89.82,160 L90.13,160 L90.44,160 L90.76,160 L91.07,160 L91.38,160 L91.69,160 L92.01,160 L92.32,160 L92.63,160 L92.94,160 L93.26,160 L93.57,160 L93.88,160 L94.19,160 L94.5,160 L94.82,160 L95.13,159.99 L95.44,159.99 L95.75,159.98 L96.07,159.97 L96.38,159.95 L96.69,159.93 L97,159.89 L97.31,159.84 L97.63,159.77 L97.94,159.68 L98.25,159.57 L98.56,159.42 L98.88,159.25 L99.19,159.05 L99.5,158.82 L99.81,158.58 L100.12,158.33 L100.44,158.08 L100.75,157.85 L101.06,157.64 L101.37,157.49 L101.69,157.39 L102,157.35 L102.31,157.38 L102.62,157.47 L102.93,157.62 L103.25,157.81 L103.56,158.03 L103.87,158.28 L104.18,158.52 L104.5,158.75 L104.81,158.96 L105.12,159.14 L105.43,159.27 L105.75,159.35 L106.06,159.38 L106.37,159.36 L106.68,159.3 L106.99,159.19 L107.31,159.05 L107.62,158.9 L107.93,158.74 L108.24,158.6 L108.56,158.49 L108.87,158.42 L109.18,158.41 L109.49,158.45 L109.8,158.54 L110.12,158.68 L110.43,158.84 L110.74,159.02 L111.05,159.19 L111.37,159.36 L111.68,159.5 L111.99,159.62 L112.3,159.71 L112.61,159.77 L112.93,159.81 L113.24,159.82 L113.55,159.8 L113.86,159.77 L114.18,159.71 L114.49,159.63 L114.8,159.53 L115.11,159.39 L115.42,159.22 L115.74,159.01 L116.05,158.75 L116.36,158.44 L116.67,158.07 L116.99,157.63 L117.3,157.12 L117.61,156.53 L117.92,155.86 L118.24,155.1 L118.55,154.25 L118.86,153.31 L119.17,152.3 L119.48,151.21 L119.8,150.05 L120.11,148.84 L120.42,147.59 L120.73,146.33 L121.05,145.08 L121.36,143.85 L121.67,142.68 L121.98,141.59 L122.29,140.61 L122.61,139.76 L122.92,139.05 L123.23,138.52 L123.54,138.17 L123.86,138.01 L124.17,138.05 L124.48,138.29 L124.79,138.71 L125.1,139.31 L125.42,140.07 L125.73,140.98 L126.04,142.01 L126.35,143.13 L126.67,144.33 L126.98,145.57 L127.29,146.83 L127.6,148.08 L127.91,149.32 L128.23,150.51 L128.54,151.64 L128.85,152.71 L129.16,153.69 L129.48,154.59 L129.79,155.41 L130.1,156.13 L130.41,156.77 L130.73,157.33 L131.04,157.81 L131.35,158.22 L131.66,158.57 L131.97,158.86 L132.29,159.1 L132.6,159.29 L132.91,159.45 L133.22,159.58 L133.54,159.68 L133.85,159.76 L134.16,159.82 L134.47,159.86 L134.78,159.9 L135.1,159.93 L135.41,159.95 L135.72,159.96 L136.03,159.97 L136.35,159.98 L136.66,159.99 L136.97,159.99 L137.28,159.99 L137.59,160 L137.91,160 L138.22,160 L138.53,160 L138.84,160 L139.16,160 L139.47,160 L139.78,160 L140.09,160 L140.4,160 L140.72,160 L141.03,160 L141.34,160 L141.65,160 L141.97,160 L142.28,160 L142.59,160 L142.9,160 L143.22,160 L143.53,160 L143.84,160 L144.15,160 L144.46,160 L144.78,160 L145.09,160 L145.4,160 L145.71,160 L146.03,160 L146.34,160 L146.65,160 L146.96,160 L147.27,160 L147.59,160 L147.9,160 L148.21,160 L148.52,160 L148.84,160 L149.15,160 L149.46,160 L149.77,160 L150.08,160 L150.4,160 L150.71,160 L151.02,160 L151.33,160 L151.65,160 L151.96,160 L152.27,160 L152.58,160 L152.89,160 L153.21,160 L153.52,160 L153.83,160 L154.14,160 L154.46,160 L154.77,160 L155.08,159.99 L155.39,159.99 L155.71,159.98 L156.02,159.96 L156.33,159.92 L156.64,159.86 L156.95,159.77 L157.27,159.64 L157.58,159.47 L157.89,159.27 L158.2,159.05 L158.52,158.82 L158.83,158.63 L159.14,158.48 L159.45,158.41 L159.76,158.43 L160.08,158.54 L160.39,158.71 L160.7,158.92 L161.01,159.15 L161.33,159.36 L161.64,159.55 L161.95,159.7" fill="none" stroke="#ff9933" stroke-width="0.85" stroke-linejoin="round" stroke-linecap="round" />
<path d="M84.2,160 L84.51,160 L84.82,160 L85.14,160 L85.45,160 L85.76,160 L86.07,160 L86.39,160 L86.7,160 L87.01,160 L87.32,160 L87.63,160 L87.95,160 L88.26,160 L88.57,160 L88.88,160 L89.2,160 L89.51,160 L89.82,160 L90.13,160 L90.44,160 L90.76,160 L91.07,160 L91.38,160 L91.69,160 L92.01,160 L92.32,160 L92.63,160 L92.94,160 L93.26,160 L93.57,160 L93.88,160 L94.19,160 L94.5,160 L94.82,160 L95.13,160 L95.44,160 L95.75,160 L96.07,160 L96.38,160 L96.69,160 L97,160 L97.31,160 L97.63,160 L97.94,160 L98.25,160 L98.56,160 L98.88,160 L99.19,160 L99.5,160 L99.81,160 L100.12,160 L100.44,160 L100.75,160 L101.06,160 L101.37,160 L101.69,160 L102,160 L102.31,160 L102.62,160 L102.93,160 L103.25,160 L103.56,160 L103.87,160 L104.18,160 L104.5,160 L104.81,160 L105.12,160 L105.43,160 L105.75,160 L106.06,160 L106.37,160 L106.68,160 L106.99,160 L107.31,160 L107.62,159.99 L107.93,159.99 L108.24,159.98 L108.56,159.97 L108.87,159.96 L109.18,159.94 L109.49,159.9 L109.8,159.86 L110.12,159.79 L110.43,159.71 L110.74,159.6 L111.05,159.46 L111.37,159.3 L111.68,159.1 L111.99,158.88 L112.3,158.64 L112.61,158.39 L112.93,158.14 L113.24,157.9 L113.55,157.69 L113.86,157.52 L114.18,157.4 L114.49,157.35 L114.8,157.36 L115.11,157.43 L115.42,157.56 L115.74,157.74 L116.05,157.95 L116.36,158.19 L116.67,158.42 L116.99,158.65 L117.3,158.86 L117.61,159.03 L117.92,159.17 L118.24,159.26 L118.55,159.3 L118.86,159.3 L119.17,159.24 L119.48,159.13 L119.8,158.97 L120.11,158.75 L120.42,158.46 L120.73,158.11 L121.05,157.69 L121.36,157.19 L121.67,156.6 L121.98,155.93 L122.29,155.16 L122.61,154.3 L122.92,153.35 L123.23,152.31 L123.54,151.19 L123.86,149.99 L124.17,148.73 L124.48,147.42 L124.79,146.09 L125.1,144.75 L125.42,143.44 L125.73,142.17 L126.04,140.97 L126.35,139.88 L126.67,138.91 L126.98,138.1 L127.29,137.45 L127.6,136.99 L127.91,136.74 L128.23,136.69 L128.54,136.85 L128.85,137.21 L129.16,137.77 L129.48,138.5 L129.79,139.4 L130.1,140.44 L130.41,141.59 L130.73,142.82 L131.04,144.12 L131.35,145.45 L131.66,146.79 L131.97,148.11 L132.29,149.39 L132.6,150.62 L132.91,151.79 L133.22,152.87 L133.54,153.86 L133.85,154.77 L134.16,155.58 L134.47,156.29 L134.78,156.92 L135.1,157.47 L135.41,157.94 L135.72,158.33 L136.03,158.66 L136.35,158.94 L136.66,159.17 L136.97,159.35 L137.28,159.5 L137.59,159.61 L137.91,159.71 L138.22,159.78 L138.53,159.84 L138.84,159.88 L139.16,159.91 L139.47,159.94 L139.78,159.95 L140.09,159.97 L140.4,159.98 L140.72,159.98 L141.03,159.99 L141.34,159.99 L141.65,159.99 L141.97,160 L142.28,160 L142.59,160 L142.9,160 L143.22,160 L143.53,160 L143.84,160 L144.15,160 L144.46,160 L144.78,160 L145.09,160 L145.4,160 L145.71,160 L146.03,160 L146.34,160 L146.65,160 L146.96,160 L147.27,160 L147.59,160 L147.9,160 L148.21,160 L148.52,160 L148.84,160 L149.15,160 L149.46,160 L149.77,160 L150.08,160 L150.4,160 L150.71,160 L151.02,160 L151.33,160 L151.65,160 L151.96,160 L152.27,160 L152.58,160 L152.89,160 L153.21,160 L153.52,160 L153.83,160 L154.14,160 L154.46,160 L154.77,160 L155.08,160 L155.39,160 L155.71,160 L156.02,160 L156.33,160 L156.64,160 L156.95,160 L157.27,160 L157.58,160 L157.89,160 L158.2,160 L158.52,160 L158.83,160 L159.14,160 L159.45,160 L159.76,160 L160.08,160 L160.39,160 L160.7,160 L161.01,160 L161.33,160 L161.64,160 L161.95,160" fill="none" stroke="#2222ee" stroke-width="0.85" stroke-linejoin="round" stroke-linecap="round" />
<path d="M84.2,160 L84.51,160 L84.82,160 L85.14,160 L85.45,160 L85.76,160 L86.07,160 L86.39,160 L86.7,160 L87.01,160 L87.32,160 L87.63,160 L87.95,160 L88.26,160 L88.57,160 L88.88,160 L89.2,160 L89.51,160 L89.82,160 L90.13,160 L90.44,160 L90.76,160 L91.07,160 L91.38,160 L91.69,160 L92.01,160 L92.32,160 L92.63,160 L92.94,160 L93.26,160 L93.57,160 L93.88,160 L94.19,160 L94.5,160 L94.82,160 L95.13,160 L95.44,160 L95.75,160 L96.07,160 L96.38,160 L96.69,160 L97,160 L97.31,160 L97.63,160 L97.94,160 L98.25,160 L98.56,160 L98.88,160 L99.19,160 L99.5,160 L99.81,160 L100.12,160 L100.44,160 L100.75,160 L101.06,160 L101.37,160 L101.69,160 L102,160 L102.31,160 L102.62,160 L102.93,160 L103.25,160 L103.56,160 L103.87,160 L104.18,160 L104.5,160 L104.81,160 L105.12,160 L105.43,160 L105.75,160 L106.06,160 L106.37,160 L106.68,160 L106.99,160 L107.31,160 L107.62,160 L107.93,160 L108.24,160 L108.56,160 L108.87,160 L109.18,160 L109.49,160 L109.8,160 L110.12,160 L110.43,160 L110.74,160 L111.05,160 L111.37,160 L111.68,160 L111.99,160 L112.3,160 L112.61,160 L112.93,160 L113.24,160 L113.55,160 L113.86,160 L114.18,160 L114.49,160 L114.8,160 L115.11,160 L115.42,160 L115.74,160 L116.05,160 L116.36,160 L116.67,160 L116.99,160 L117.3,160 L117.61,160 L117.92,160 L118.24,159.99 L118.55,159.99 L118.86,159.98 L119.17,159.98 L119.48,159.96 L119.8,159.95 L120.11,159.93 L120.42,159.9 L120.73,159.85 L121.05,159.8 L121.36,159.73 L121.67,159.63 L121.98,159.5 L122.29,159.34 L122.61,159.13 L122.92,158.87 L123.23,158.55 L123.54,158.15 L123.86,157.67 L124.17,157.1 L124.48,156.42 L124.79,155.62 L125.1,154.71 L125.42,153.67 L125.73,152.5 L126.04,151.2 L126.35,149.79 L126.67,148.28 L126.98,146.67 L127.29,145 L127.6,143.3 L127.91,141.59 L128.23,139.92 L128.54,138.32 L128.85,136.83 L129.16,135.49 L129.48,134.33 L129.79,133.4 L130.1,132.72 L130.41,132.31 L130.73,132.18 L131.04,132.33 L131.35,132.76 L131.66,133.46 L131.97,134.41 L132.29,135.58 L132.6,136.93 L132.91,138.43 L133.22,140.04 L133.54,141.72 L133.85,143.43 L134.16,145.13 L134.47,146.79 L134.78,148.39 L135.1,149.9 L135.41,151.3 L135.72,152.59 L136.03,153.75 L136.35,154.78 L136.66,155.69 L136.97,156.47 L137.28,157.14 L137.59,157.71 L137.91,158.18 L138.22,158.57 L138.53,158.89 L138.84,159.15 L139.16,159.35 L139.47,159.51 L139.78,159.64 L140.09,159.73 L140.4,159.8 L140.72,159.86 L141.03,159.9 L141.34,159.93 L141.65,159.95 L141.97,159.97 L142.28,159.98 L142.59,159.98 L142.9,159.99 L143.22,159.99 L143.53,160 L143.84,160 L144.15,160 L144.46,160 L144.78,160 L145.09,160 L145.4,160 L145.71,160 L146.03,160 L146.34,160 L146.65,160 L146.96,160 L147.27,160 L147.59,160 L147.9,160 L148.21,160 L148.52,160 L148.84,160 L149.15,160 L149.46,160 L149.77,160 L150.08,160 L150.4,160 L150.71,160 L151.02,160 L151.33,160 L151.65,160 L151.96,160 L152.27,160 L152.58,160 L152.89,160 L153.21,160 L153.52,160 L153.83,160 L154.14,160 L154.46,160 L154.77,160 L155.08,160 L155.39,160 L155.71,160 L156.02,160 L156.33,160 L156.64,160 L156.95,160 L157.27,160 L157.58,160 L157.89,160 L158.2,160 L158.52,160 L158.83,160 L159.14,160 L159.45,160 L159.76,160 L160.08,160 L160.39,160 L160.7,160 L161.01,160 L161.33,160 L161.64,160 L161.95,160" fill="none" stroke="#22dddd" stroke-width="0.85" stroke-linejoin="round" stroke-linecap="round" />
<path d="M84.2,160 L84.51,160 L84.82,160 L85.14,160 L85.45,160 L85.76,160 L86.07,160 L86.39,160 L86.7,160 L87.01,160 L87.32,160 L87.63,160 L87.95,160 L88.26,160 L88.57,160 L88.88,160 L89.2,160 L89.51,160 L89.82,160 L90.13,160 L90.44,160 L90.76,160 L91.07,160 L91.38,160 L91.69,160 L92.01,160 L92.32,160 L92.63,160 L92.94,160 L93.26,160 L93.57,160 L93.88,160 L94.19,160 L94.5,160 L94.82,160 L95.13,160 L95.44,160 L95.75,160 L96.07,160 L96.38,160 L96.69,160 L97,160 L97.31,160 L97.63,160 L97.94,160 L98.25,160 L98.56,160 L98.88,160 L99.19,160 L99.5,160 L99.81,160 L100.12,160 L100.44,160 L100.75,160 L101.06,160 L101.37,160 L101.69,160 L102,160 L102.31,160 L102.62,160 L102.93,160 L103.25,160 L103.56,160 L103.87,160 L104.18,160 L104.5,160 L104.81,160 L105.12,160 L105.43,160 L105.75,160 L106.06,160 L106.37,160 L106.68,160 L106.99,160 L107.31,160 L107.62,160 L107.93,160 L108.24,160 L108.56,160 L108.87,160 L109.18,160 L109.49,160 L109.8,160 L110.12,160 L110.43,160 L110.74,160 L111.05,160 L111.37,160 L111.68,160 L111.99,160 L112.3,160 L112.61,160 L112.93,160 L113.24,160 L113.55,160 L113.86,160 L114.18,160 L114.49,160 L114.8,160 L115.11,160 L115.42,160 L115.74,160 L116.05,160 L116.36,160 L116.67,160 L116.99,160 L117.3,160 L117.61,160 L117.92,160 L118.24,160 L118.55,160 L118.86,160 L119.17,160 L119.48,160 L119.8,160 L120.11,160 L120.42,160 L120.73,159.99 L121.05,159.99 L121.36,159.99 L121.67,159.98 L121.98,159.97 L122.29,159.96 L122.61,159.94 L122.92,159.91 L123.23,159.88 L123.54,159.83 L123.86,159.76 L124.17,159.67 L124.48,159.54 L124.79,159.38 L125.1,159.17 L125.42,158.91 L125.73,158.57 L126.04,158.15 L126.35,157.63 L126.67,157 L126.98,156.24 L127.29,155.34 L127.6,154.29 L127.91,153.09 L128.23,151.72 L128.54,150.19 L128.85,148.5 L129.16,146.67 L129.48,144.73 L129.79,142.69 L130.1,140.59 L130.41,138.48 L130.73,136.4 L131.04,134.41 L131.35,132.55 L131.66,130.89 L131.97,129.46 L132.29,128.31 L132.6,127.48 L132.91,127 L133.22,126.88 L133.54,127.12 L133.85,127.73 L134.16,128.66 L134.47,129.91 L134.78,131.43 L135.1,133.16 L135.41,135.07 L135.72,137.1 L136.03,139.19 L136.35,141.3 L136.66,143.38 L136.97,145.4 L137.28,147.31 L137.59,149.09 L137.91,150.72 L138.22,152.2 L138.53,153.51 L138.84,154.66 L139.16,155.66 L139.47,156.51 L139.78,157.22 L140.09,157.81 L140.4,158.3 L140.72,158.69 L141.03,159 L141.34,159.25 L141.65,159.44 L141.97,159.59 L142.28,159.7 L142.59,159.78 L142.9,159.85 L143.22,159.89 L143.53,159.92 L143.84,159.95 L144.15,159.96 L144.46,159.98 L144.78,159.98 L145.09,159.99 L145.4,159.99 L145.71,160 L146.03,160 L146.34,160 L146.65,160 L146.96,160 L147.27,160 L147.59,160 L147.9,160 L148.21,160 L148.52,160 L148.84,160 L149.15,160 L149.46,160 L149.77,160 L150.08,160 L150.4,160 L150.71,160 L151.02,160 L151.33,160 L151.65,160 L151.96,160 L152.27,160 L152.58,160 L152.89,160 L153.21,160 L153.52,160 L153.83,160 L154.14,160 L154.46,160 L154.77,160 L155.08,160 L155.39,160 L155.71,160 L156.02,160 L156.33,160 L156.64,160 L156.95,160 L157.27,160 L157.58,160 L157.89,160 L158.2,160 L158.52,160 L158.83,160 L159.14,160 L159.45,160 L159.76,160 L160.08,160 L160.39,160 L160.7,160 L161.01,160 L161.33,160 L161.64,160 L161.95,160" fill="none" stroke="#8a8a2a" stroke-width="0.85" stroke-linejoin="round" stroke-linecap="round" />
<path d="M84.2,160 L84.51,160 L84.82,160 L85.14,160 L85.45,160 L85.76,160 L86.07,160 L86.39,160 L86.7,160 L87.01,160 L87.32,160 L87.63,160 L87.95,160 L88.26,160 L88.57,160 L88.88,160 L89.2,160 L89.51,160 L89.82,160 L90.13,160 L90.44,160 L90.76,160 L91.07,160 L91.38,160 L91.69,160 L92.01,160 L92.32,160 L92.63,160 L92.94,160 L93.26,160 L93.57,160 L93.88,160 L94.19,160 L94.5,160 L94.82,160 L95.13,160 L95.44,160 L95.75,160 L96.07,160 L96.38,160 L96.69,160 L97,160 L97.31,160 L97.63,160 L97.94,160 L98.25,160 L98.56,160 L98.88,160 L99.19,160 L99.5,160 L99.81,160 L100.12,160 L100.44,160 L100.75,160 L101.06,160 L101.37,160 L101.69,160 L102,160 L102.31,160 L102.62,160 L102.93,160 L103.25,160 L103.56,160 L103.87,160 L104.18,160 L104.5,160 L104.81,160 L105.12,160 L105.43,160 L105.75,160 L106.06,160 L106.37,160 L106.68,160 L106.99,160 L107.31,160 L107.62,160 L107.93,160 L108.24,160 L108.56,160 L108.87,160 L109.18,160 L109.49,160 L109.8,160 L110.12,160 L110.43,160 L110.74,160 L111.05,160 L111.37,160 L111.68,160 L111.99,160 L112.3,160 L112.61,160 L112.93,160 L113.24,160 L113.55,160 L113.86,160 L114.18,160 L114.49,160 L114.8,160 L115.11,160 L115.42,160 L115.74,160 L116.05,160 L116.36,160 L116.67,160 L116.99,160 L117.3,160 L117.61,160 L117.92,160 L118.24,160 L118.55,160 L118.86,160 L119.17,160 L119.48,160 L119.8,160 L120.11,160 L120.42,160 L120.73,160 L121.05,160 L121.36,160 L121.67,160 L121.98,160 L122.29,160 L122.61,160 L122.92,160 L123.23,159.98 L123.54,159.92 L123.86,159.72 L124.17,159.22 L124.48,158.23 L124.79,156.81 L125.1,155.41 L125.42,154.71 L125.73,155.13 L126.04,156.42 L126.35,157.89 L126.67,159.01 L126.98,159.63 L127.29,159.89 L127.6,159.97 L127.91,159.99 L128.23,160 L128.54,160 L128.85,160 L129.16,160 L129.48,160 L129.79,160 L130.1,160 L130.41,160 L130.73,160 L131.04,160 L131.35,160 L131.66,160 L131.97,160 L132.29,160 L132.6,160 L132.91,160 L133.22,160 L133.54,160 L133.85,160 L134.16,160 L134.47,160 L134.78,160 L135.1,159.99 L135.41,159.98 L135.72,159.96 L136.03,159.91 L136.35,159.81 L136.66,159.62 L136.97,159.27 L137.28,158.66 L137.59,157.65 L137.91,156.07 L138.22,153.74 L138.53,150.49 L138.84,146.23 L139.16,140.98 L139.47,134.96 L139.78,128.57 L140.09,122.39 L140.4,117.09 L140.72,113.32 L141.03,111.59 L141.34,112.13 L141.65,114.87 L141.97,119.44 L142.28,125.24 L142.59,131.6 L142.9,137.88 L143.22,143.57 L143.53,148.37 L143.84,152.15 L144.15,154.95 L144.46,156.9 L144.78,158.19 L145.09,158.99 L145.4,159.46 L145.71,159.73 L146.03,159.87 L146.34,159.94 L146.65,159.97 L146.96,159.99 L147.27,160 L147.59,160 L147.9,160 L148.21,160 L148.52,160 L148.84,160 L149.15,160 L149.46,160 L149.77,160 L150.08,160 L150.4,160 L150.71,160 L151.02,160 L151.33,160 L151.65,160 L151.96,160 L152.27,160 L152.58,160 L152.89,160 L153.21,160 L153.52,160 L153.83,160 L154.14,160 L154.46,160 L154.77,160 L155.08,160 L155.39,160 L155.71,160 L156.02,160 L156.33,159.97 L156.64,159.89 L156.95,159.63 L157.27,158.99 L157.58,157.8 L157.89,156.2 L158.2,154.73 L158.52,154.17 L158.83,154.84 L159.14,156.36 L159.45,157.94 L159.76,159.07 L160.08,159.66 L160.39,159.9 L160.7,159.98 L161.01,160 L161.33,160 L161.64,160 L161.95,160" fill="none" stroke="#ee22ee" stroke-width="0.85" stroke-linejoin="round" stroke-linecap="round" />
<path d="M84.2,160 L84.51,160 L84.82,160 L85.14,160 L85.45,160 L85.76,160 L86.07,160 L86.39,160 L86.7,160 L87.01,160 L87.32,160 L87.63,160 L87.95,160 L88.26,160 L88.57,160 L88.88,160 L89.2,160 L89.51,160 L89.82,160 L90.13,160 L90.44,160 L90.76,160 L91.07,160 L91.38,160 L91.69,160 L92.01,160 L92.32,160 L92.63,160 L92.94,160 L93.26,160 L93.57,160 L93.88,160 L94.19,160 L94.5,160 L94.82,160 L95.13,160 L95.44,160 L95.75,160 L96.07,160 L96.38,160 L96.69,160 L97,160 L97.31,160 L97.63,160 L97.94,160 L98.25,160 L98.56,160 L98.88,160 L99.19,160 L99.5,160 L99.81,160 L100.12,160 L100.44,160 L100.75,160 L101.06,160 L101.37,160 L101.69,160 L102,160 L102.31,160 L102.62,160 L102.93,160 L103.25,160 L103.56,160 L103.87,160 L104.18,160 L104.5,160 L104.81,160 L105.12,160 L105.43,160 L105.75,160 L106.06,160 L106.37,160 L106.68,160 L106.99,160 L107.31,160 L107.62,160 L107.93,160 L108.24,160 L108.56,160 L108.87,160 L109.18,160 L109.49,160 L109.8,160 L110.12,160 L110.43,160 L110.74,160 L111.05,160 L111.37,160 L111.68,160 L111.99,160 L112.3,160 L112.61,160 L112.93,160 L113.24,160 L113.55,160 L113.86,160 L114.18,160 L114.49,160 L114.8,160 L115.11,160 L115.42,160 L115.74,160 L116.05,160 L116.36,160 L116.67,160 L116.99,160 L117.3,160 L117.61,160 L117.92,160 L118.24,160 L118.55,160 L118.86,160 L119.17,160 L119.48,160 L119.8,160 L120.11,160 L120.42,160 L120.73,160 L121.05,160 L121.36,160 L121.67,160 L121.98,160 L122.29,160 L122.61,160 L122.92,160 L123.23,160 L123.54,160 L123.86,160 L124.17,160 L124.48,160 L124.79,160 L125.1,160 L125.42,160 L125.73,160 L126.04,160 L126.35,160 L126.67,160 L126.98,160 L127.29,160 L127.6,160 L127.91,160 L128.23,160 L128.54,160 L128.85,160 L129.16,160 L129.48,160 L129.79,160 L130.1,160 L130.41,160 L130.73,160 L131.04,160 L131.35,160 L131.66,160 L131.97,160 L132.29,160 L132.6,160 L132.91,160 L133.22,160 L133.54,160 L133.85,160 L134.16,160 L134.47,160 L134.78,160 L135.1,160 L135.41,160 L135.72,160 L136.03,160 L136.35,160 L136.66,160 L136.97,160 L137.28,159.99 L137.59,159.98 L137.91,159.95 L138.22,159.89 L138.53,159.79 L138.84,159.59 L139.16,159.25 L139.47,158.68 L139.78,157.77 L140.09,156.39 L140.4,154.39 L140.72,151.63 L141.03,148.03 L141.34,143.55 L141.65,138.32 L141.97,132.58 L142.28,126.71 L142.59,121.21 L142.9,116.63 L143.22,113.47 L143.53,112.08 L143.84,112.64 L144.15,115.08 L144.46,119.12 L144.78,124.29 L145.09,130.06 L145.4,135.92 L145.71,141.4 L146.03,146.22 L146.34,150.2 L146.65,153.31 L146.96,155.62 L147.27,157.25 L147.59,158.34 L147.9,159.04 L148.21,159.47 L148.52,159.72 L148.84,159.85 L149.15,159.93 L149.46,159.97 L149.77,159.98 L150.08,159.99 L150.4,160 L150.71,160 L151.02,160 L151.33,160 L151.65,160 L151.96,160 L152.27,160 L152.58,160 L152.89,160 L153.21,160 L153.52,160 L153.83,160 L154.14,160 L154.46,160 L154.77,160 L155.08,160 L155.39,160 L155.71,160 L156.02,160 L156.33,160 L156.64,160 L156.95,160 L157.27,160 L157.58,160 L157.89,160 L158.2,160 L158.52,160 L158.83,160 L159.14,160 L159.45,160 L159.76,160 L160.08,160 L160.39,160 L160.7,160 L161.01,160 L161.33,160 L161.64,160 L161.95,160" fill="none" stroke="#eeee22" stroke-width="0.85" stroke-linejoin="round" stroke-linecap="round" />
<line x1="84.9" y1="160" x2="162.4" y2="160" stroke="#222" stroke-width="0.8" />
<line x1="90.8" y1="108.3" x2="96.8" y2="108.3" stroke="#ff9933" stroke-width="1.0" />
<text x="97.4" y="109.4" font-family="Liberation Sans" font-size="2.9" fill="#444" text-anchor="start" font-weight="normal" font-style="normal" >Functionalized</text>
<line x1="90.8" y1="112.2" x2="96.8" y2="112.2" stroke="#2222ee" stroke-width="1.0" />
<text x="97.4" y="113.3" font-family="Liberation Sans" font-size="2.9" fill="#444" text-anchor="start" font-weight="normal" font-style="normal" >50 ng/mL</text>
<line x1="90.8" y1="116.1" x2="96.8" y2="116.1" stroke="#22dddd" stroke-width="1.0" />
<text x="97.4" y="117.2" font-family="Liberation Sans" font-size="2.9" fill="#444" text-anchor="start" font-weight="normal" font-style="normal" >100 ng/mL</text>
<line x1="90.8" y1="120" x2="96.8" y2="120" stroke="#ee22ee" stroke-width="1.0" />
<text x="97.4" y="121.1" font-family="Liberation Sans" font-size="2.9" fill="#444" text-anchor="start" font-weight="normal" font-style="normal" >200 ng/mL</text>
<line x1="90.8" y1="123.9" x2="96.8" y2="123.9" stroke="#eeee22" stroke-width="1.0" />
<text x="97.4" y="125" font-family="Liberation Sans" font-size="2.9" fill="#444" text-anchor="start" font-weight="normal" font-style="normal" >350 ng/mL</text>
<line x1="90.8" y1="127.8" x2="96.8" y2="127.8" stroke="#8a8a2a" stroke-width="1.0" />
<text x="97.4" y="128.9" font-family="Liberation Sans" font-size="2.9" fill="#444" text-anchor="start" font-weight="normal" font-style="normal" >500 ng/mL</text>
<rect x="78.4" y="175.8" width="89.8" height="36.4" fill="url(#cuv)" stroke="none" stroke-width="1" />
<rect x="78.4" y="187" width="9" height="24" fill="#ebe7e4" stroke="none" stroke-width="1" opacity="0.45"/>
<rect x="79.3" y="195.5" width="7.2" height="15" fill="#dc4c88" stroke="none" stroke-width="1" opacity="0.25" filter="url(#blur2)"/>
<rect x="80.5" y="196.8" width="4.8" height="13.2" fill="#dc4c88" stroke="none" stroke-width="1" />
<text x="83.4" y="181.6" font-family="Liberation Sans" font-size="3.5" fill="#222" text-anchor="middle" font-weight="normal" font-style="normal"  stroke="#222" stroke-width="0.14">Functi.</text>
<rect x="94.25" y="187" width="9" height="24" fill="#ebe7e4" stroke="none" stroke-width="1" opacity="0.45"/>
<rect x="95.15" y="195.5" width="7.2" height="15" fill="#d4306c" stroke="none" stroke-width="1" opacity="0.25" filter="url(#blur2)"/>
<rect x="96.35" y="196.8" width="4.8" height="13.2" fill="#d4306c" stroke="none" stroke-width="1" />
<text x="98.75" y="181.3" font-family="Liberation Sans" font-size="3.5" fill="#222" text-anchor="middle" font-weight="normal" font-style="normal"  stroke="#222" stroke-width="0.14">50</text>
<text x="98.75" y="185" font-family="Liberation Sans" font-size="3.5" fill="#222" text-anchor="middle" font-weight="normal" font-style="normal"  stroke="#222" stroke-width="0.14">ng/mL</text>
<rect x="112.2" y="187" width="9" height="24" fill="#ebe7e4" stroke="none" stroke-width="1" opacity="0.45"/>
<rect x="113.7" y="195.5" width="6" height="15" fill="#8c3a8c" stroke="none" stroke-width="1" opacity="0.25" filter="url(#blur2)"/>
<rect x="114.9" y="196.8" width="3.6" height="13.2" fill="#8c3a8c" stroke="none" stroke-width="1" />
<text x="116.7" y="181.3" font-family="Liberation Sans" font-size="3.5" fill="#222" text-anchor="middle" font-weight="normal" font-style="normal"  stroke="#222" stroke-width="0.14">100</text>
<text x="116.7" y="185" font-family="Liberation Sans" font-size="3.5" fill="#222" text-anchor="middle" font-weight="normal" font-style="normal"  stroke="#222" stroke-width="0.14">ng/mL</text>
<rect x="127.6" y="187" width="9" height="24" fill="#ebe7e4" stroke="none" stroke-width="1" opacity="0.45"/>
<rect x="129.3" y="195.5" width="5.6" height="15" fill="#7a3488" stroke="none" stroke-width="1" opacity="0.25" filter="url(#blur2)"/>
<rect x="130.5" y="196.8" width="3.2" height="13.2" fill="#7a3488" stroke="none" stroke-width="1" />
<text x="132.1" y="181.3" font-family="Liberation Sans" font-size="3.5" fill="#222" text-anchor="middle" font-weight="normal" font-style="normal"  stroke="#222" stroke-width="0.14">200</text>
<text x="132.1" y="185" font-family="Liberation Sans" font-size="3.5" fill="#222" text-anchor="middle" font-weight="normal" font-style="normal"  stroke="#222" stroke-width="0.14">ng/mL</text>
<rect x="144.05" y="187" width="9" height="24" fill="#ebe7e4" stroke="none" stroke-width="1" opacity="0.45"/>
<rect x="145.55" y="195.5" width="6" height="15" fill="#c4b6cc" stroke="none" stroke-width="1" opacity="0.25" filter="url(#blur2)"/>
<rect x="146.75" y="196.8" width="3.6" height="13.2" fill="#c4b6cc" stroke="none" stroke-width="1" />
<text x="148.55" y="181.3" font-family="Liberation Sans" font-size="3.5" fill="#222" text-anchor="middle" font-weight="normal" font-style="normal"  stroke="#222" stroke-width="0.14">350</text>
<text x="148.55" y="185" font-family="Liberation Sans" font-size="3.5" fill="#222" text-anchor="middle" font-weight="normal" font-style="normal"  stroke="#222" stroke-width="0.14">ng/mL</text>
<rect x="158.5" y="187" width="9" height="24" fill="#ebe7e4" stroke="none" stroke-width="1" opacity="0.45"/>
<rect x="160" y="195.5" width="6" height="15" fill="#a23c84" stroke="none" stroke-width="1" opacity="0.25" filter="url(#blur2)"/>
<rect x="161.2" y="196.8" width="3.6" height="13.2" fill="#a23c84" stroke="none" stroke-width="1" />
<text x="163" y="181.3" font-family="Liberation Sans" font-size="3.5" fill="#222" text-anchor="middle" font-weight="normal" font-style="normal"  stroke="#222" stroke-width="0.14">500</text>
<text x="163" y="185" font-family="Liberation Sans" font-size="3.5" fill="#222" text-anchor="middle" font-weight="normal" font-style="normal"  stroke="#222" stroke-width="0.14">ng/mL</text>
<rect x="146.9" y="208.2" width="3.3" height="1.8" fill="#3a3a3a" stroke="none" stroke-width="1" />
<rect x="48.5" y="222.2" width="100.5" height="75.3" fill="none" stroke="#444" stroke-width="0.6" />
<line x1="48.5" y1="292.8" x2="50" y2="292.8" stroke="#333" stroke-width="0.5" />
<text x="47" y="294.3" font-family="Liberation Sans" font-size="4.3" fill="#222" text-anchor="end" font-weight="normal" font-style="normal"  stroke="#222" stroke-width="0.14">0</text>
<line x1="48.5" y1="283.98" x2="50" y2="283.98" stroke="#333" stroke-width="0.5" />
<text x="47" y="285.48" font-family="Liberation Sans" font-size="4.3" fill="#222" text-anchor="end" font-weight="normal" font-style="normal"  stroke="#222" stroke-width="0.14">10</text>
<line x1="48.5" y1="275.15" x2="50" y2="275.15" stroke="#333" stroke-width="0.5" />
<text x="47" y="276.65" font-family="Liberation Sans" font-size="4.3" fill="#222" text-anchor="end" font-weight="normal" font-style="normal"  stroke="#222" stroke-width="0.14">20</text>
<line x1="48.5" y1="266.32" x2="50" y2="266.32" stroke="#333" stroke-width="0.5" />
<text x="47" y="267.82" font-family="Liberation Sans" font-size="4.3" fill="#222" text-anchor="end" font-weight="normal" font-style="normal"  stroke="#222" stroke-width="0.14">30</text>
<line x1="48.5" y1="257.5" x2="50" y2="257.5" stroke="#333" stroke-width="0.5" />
<text x="47" y="259" font-family="Liberation Sans" font-size="4.3" fill="#222" text-anchor="end" font-weight="normal" font-style="normal"  stroke="#222" stroke-width="0.14">40</text>
<line x1="48.5" y1="248.68" x2="50" y2="248.68" stroke="#333" stroke-width="0.5" />
<text x="47" y="250.18" font-family="Liberation Sans" font-size="4.3" fill="#222" text-anchor="end" font-weight="normal" font-style="normal"  stroke="#222" stroke-width="0.14">50</text>
<line x1="48.5" y1="239.85" x2="50" y2="239.85" stroke="#333" stroke-width="0.5" />
<text x="47" y="241.35" font-family="Liberation Sans" font-size="4.3" fill="#222" text-anchor="end" font-weight="normal" font-style="normal"  stroke="#222" stroke-width="0.14">60</text>
<line x1="48.5" y1="231.03" x2="50" y2="231.03" stroke="#333" stroke-width="0.5" />
<text x="47" y="232.53" font-family="Liberation Sans" font-size="4.3" fill="#222" text-anchor="end" font-weight="normal" font-style="normal"  stroke="#222" stroke-width="0.14">70</text>
<line x1="48.5" y1="222.2" x2="50" y2="222.2" stroke="#333" stroke-width="0.5" />
<text x="47" y="223.7" font-family="Liberation Sans" font-size="4.3" fill="#222" text-anchor="end" font-weight="normal" font-style="normal"  stroke="#222" stroke-width="0.14">80</text>
<line x1="50.2" y1="297.5" x2="50.2" y2="296" stroke="#333" stroke-width="0.5" />
<text x="50.2" y="302.3" font-family="Liberation Sans" font-size="4.3" fill="#222" text-anchor="middle" font-weight="normal" font-style="normal"  stroke="#222" stroke-width="0.14">0</text>
<line x1="68.2" y1="297.5" x2="68.2" y2="296" stroke="#333" stroke-width="0.5" />
<text x="68.2" y="302.3" font-family="Liberation Sans" font-size="4.3" fill="#222" text-anchor="middle" font-weight="normal" font-style="normal"  stroke="#222" stroke-width="0.14">200</text>
<line x1="86.2" y1="297.5" x2="86.2" y2="296" stroke="#333" stroke-width="0.5" />
<text x="86.2" y="302.3" font-family="Liberation Sans" font-size="4.3" fill="#222" text-anchor="middle" font-weight="normal" font-style="normal"  stroke="#222" stroke-width="0.14">400</text>
<line x1="104.2" y1="297.5" x2="104.2" y2="296" stroke="#333" stroke-width="0.5" />
<text x="104.2" y="302.3" font-family="Liberation Sans" font-size="4.3" fill="#222" text-anchor="middle" font-weight="normal" font-style="normal"  stroke="#222" stroke-width="0.14">600</text>
<line x1="122.2" y1="297.5" x2="122.2" y2="296" stroke="#333" stroke-width="0.5" />
<text x="122.2" y="302.3" font-family="Liberation Sans" font-size="4.3" fill="#222" text-anchor="middle" font-weight="normal" font-style="normal"  stroke="#222" stroke-width="0.14">800</text>
<line x1="140.2" y1="297.5" x2="140.2" y2="296" stroke="#333" stroke-width="0.5" />
<text x="140.2" y="302.3" font-family="Liberation Sans" font-size="4.3" fill="#222" text-anchor="middle" font-weight="normal" font-style="normal"  stroke="#222" stroke-width="0.14">1000</text>
<text x="99" y="310.2" font-family="Liberation Sans" font-size="5.0" fill="#111" text-anchor="middle" font-weight="normal" font-style="normal"  stroke="#111" stroke-width="0.14">[human-IgG] (ng/mL)</text>
<text x="37" y="258" font-family="Liberation Sans" font-size="4.6" fill="#222" text-anchor="middle" font-weight="normal" font-style="normal" transform="rotate(-90 37.0 258)" stroke="#222" stroke-width="0.14">Δλ<tspan font-size="3" dy="1">L</tspan><tspan dy="-1"> SPR(nm)</tspan></text>
<path d="M50.2,292.8 L50.7,292.8 L51.19,292.8 L51.69,292.8 L52.19,292.79 L52.69,292.75 L53.18,292.65 L53.68,292.45 L54.18,292.11 L54.68,291.6 L55.17,290.88 L55.67,289.95 L56.17,288.8 L56.67,287.43 L57.16,285.86 L57.66,284.12 L58.16,282.21 L58.66,280.17 L59.15,278.03 L59.65,275.82 L60.15,273.56 L60.65,271.27 L61.14,268.99 L61.64,266.73 L62.14,264.5 L62.64,262.34 L63.13,260.25 L63.63,258.23 L64.13,256.31 L64.63,254.49 L65.12,252.78 L65.62,251.17 L66.12,249.68 L66.62,248.3 L67.11,247.03 L67.61,245.88 L68.11,244.84 L68.61,243.91 L69.1,243.08 L69.6,242.36 L70.1,241.74 L70.6,241.21 L71.09,240.78 L71.59,240.44 L72.09,240.18 L72.59,239.99 L73.08,239.89 L73.58,239.85 L74.08,239.88 L74.58,239.99 L75.07,240.16 L75.57,240.39 L76.07,240.68 L76.57,241.02 L77.06,241.4 L77.56,241.84 L78.06,242.31 L78.56,242.82 L79.05,243.36 L79.55,243.93 L80.05,244.53 L80.55,245.16 L81.04,245.8 L81.54,246.46 L82.04,247.14 L82.54,247.84 L83.03,248.54 L83.53,249.26 L84.03,249.98 L84.53,250.71 L85.02,251.44 L85.52,252.17 L86.02,252.91 L86.52,253.65 L87.01,254.38 L87.51,255.12 L88.01,255.85 L88.51,256.57 L89,257.3 L89.5,258.01 L90,258.72 L90.5,259.43 L90.99,260.12 L91.49,260.81 L91.99,261.49 L92.49,262.16 L92.98,262.82 L93.48,263.48 L93.98,264.12 L94.48,264.75 L94.97,265.38 L95.47,265.99 L95.97,266.59 L96.47,267.18 L96.96,267.76 L97.46,268.34 L97.96,268.9 L98.46,269.45 L98.95,269.98 L99.45,270.51 L99.95,271.03 L100.45,271.54 L100.94,272.04 L101.44,272.52 L101.94,273 L102.44,273.47 L102.93,273.93 L103.43,274.37 L103.93,274.81 L104.43,275.24 L104.92,275.66 L105.42,276.07 L105.92,276.47 L106.42,276.86 L106.91,277.24 L107.41,277.61 L107.91,277.98 L108.41,278.33 L108.9,278.68 L109.4,279.02 L109.9,279.35 L110.4,279.68 L110.89,279.99 L111.39,280.3 L111.89,280.6 L112.39,280.9 L112.88,281.19 L113.38,281.47 L113.88,281.74 L114.38,282.01 L114.87,282.27 L115.37,282.52 L115.87,282.77 L116.37,283.01 L116.86,283.25 L117.36,283.48 L117.86,283.7 L118.36,283.92 L118.85,284.14 L119.35,284.34 L119.85,284.55 L120.35,284.75 L120.84,284.94 L121.34,285.13 L121.84,285.31 L122.34,285.49 L122.83,285.67 L123.33,285.84 L123.83,286 L124.33,286.17 L124.82,286.33 L125.32,286.48 L125.82,286.63 L126.32,286.78 L126.81,286.92 L127.31,287.06 L127.81,287.2 L128.31,287.33 L128.8,287.46 L129.3,287.59 L129.8,287.71 L130.3,287.83 L130.79,287.95 L131.29,288.06 L131.79,288.17 L132.29,288.28 L132.78,288.39 L133.28,288.49 L133.78,288.59 L134.28,288.69 L134.77,288.79 L135.27,288.88 L135.77,288.97 L136.27,289.06 L136.76,289.15 L137.26,289.23 L137.76,289.31 L138.26,289.4 L138.75,289.47 L139.25,289.55 L139.75,289.63 L140.25,289.7 L140.74,289.77 L141.24,289.84 L141.74,289.91 L142.24,289.97 L142.73,290.04 L143.23,290.1 L143.73,290.16 L144.23,290.22 L144.72,290.28 L145.22,290.34 L145.72,290.39 L146.22,290.45 L146.71,290.5 L147.21,290.55 L147.71,290.6 L148.21,290.65 L148.7,290.7 L149.2,290.75" fill="none" stroke="#444" stroke-width="0.6" stroke-linejoin="round" stroke-linecap="round" />
<line x1="50.2" y1="290.8" x2="50.2" y2="294.8" stroke="#222" stroke-width="0.4" />
<line x1="49.4" y1="290.8" x2="51" y2="290.8" stroke="#222" stroke-width="0.4" />
<line x1="49.4" y1="294.8" x2="51" y2="294.8" stroke="#222" stroke-width="0.4" />
<rect x="49.1" y="291.7" width="2.2" height="2.2" fill="#111" stroke="none" stroke-width="1" />
<line x1="50.92" y1="289.92" x2="50.92" y2="293.92" stroke="#222" stroke-width="0.4" />
<line x1="50.12" y1="289.92" x2="51.72" y2="289.92" stroke="#222" stroke-width="0.4" />
<line x1="50.12" y1="293.92" x2="51.72" y2="293.92" stroke="#222" stroke-width="0.4" />
<rect x="49.82" y="290.82" width="2.2" height="2.2" fill="#111" stroke="none" stroke-width="1" />
<line x1="51.55" y1="289.48" x2="51.55" y2="293.48" stroke="#222" stroke-width="0.4" />
<line x1="50.75" y1="289.48" x2="52.35" y2="289.48" stroke="#222" stroke-width="0.4" />
<line x1="50.75" y1="293.48" x2="52.35" y2="293.48" stroke="#222" stroke-width="0.4" />
<rect x="50.45" y="290.38" width="2.2" height="2.2" fill="#111" stroke="none" stroke-width="1" />
<line x1="52.45" y1="289.04" x2="52.45" y2="293.04" stroke="#222" stroke-width="0.4" />
<line x1="51.65" y1="289.04" x2="53.25" y2="289.04" stroke="#222" stroke-width="0.4" />
<line x1="51.65" y1="293.04" x2="53.25" y2="293.04" stroke="#222" stroke-width="0.4" />
<rect x="51.35" y="289.94" width="2.2" height="2.2" fill="#111" stroke="none" stroke-width="1" />
<line x1="54.7" y1="282.36" x2="54.7" y2="287.36" stroke="#222" stroke-width="0.4" />
<line x1="53.9" y1="282.36" x2="55.5" y2="282.36" stroke="#222" stroke-width="0.4" />
<line x1="53.9" y1="287.36" x2="55.5" y2="287.36" stroke="#222" stroke-width="0.4" />
<rect x="53.6" y="283.76" width="2.2" height="2.2" fill="#111" stroke="none" stroke-width="1" />
<line x1="59.2" y1="273.97" x2="59.2" y2="278.97" stroke="#222" stroke-width="0.4" />
<line x1="58.4" y1="273.97" x2="60" y2="273.97" stroke="#222" stroke-width="0.4" />
<line x1="58.4" y1="278.97" x2="60" y2="278.97" stroke="#222" stroke-width="0.4" />
<rect x="58.1" y="275.37" width="2.2" height="2.2" fill="#111" stroke="none" stroke-width="1" />
<line x1="68.2" y1="248.32" x2="68.2" y2="254.32" stroke="#222" stroke-width="0.4" />
<line x1="67.4" y1="248.32" x2="69" y2="248.32" stroke="#222" stroke-width="0.4" />
<line x1="67.4" y1="254.32" x2="69" y2="254.32" stroke="#222" stroke-width="0.4" />
<rect x="67.1" y="250.22" width="2.2" height="2.2" fill="#111" stroke="none" stroke-width="1" />
<line x1="81.7" y1="234.2" x2="81.7" y2="240.2" stroke="#222" stroke-width="0.4" />
<line x1="80.9" y1="234.2" x2="82.5" y2="234.2" stroke="#222" stroke-width="0.4" />
<line x1="80.9" y1="240.2" x2="82.5" y2="240.2" stroke="#222" stroke-width="0.4" />
<rect x="80.6" y="236.1" width="2.2" height="2.2" fill="#111" stroke="none" stroke-width="1" />
<line x1="95.2" y1="272.59" x2="95.2" y2="278.59" stroke="#222" stroke-width="0.4" />
<line x1="94.4" y1="272.59" x2="96" y2="272.59" stroke="#222" stroke-width="0.4" />
<line x1="94.4" y1="278.59" x2="96" y2="278.59" stroke="#222" stroke-width="0.4" />
<rect x="94.1" y="274.49" width="2.2" height="2.2" fill="#111" stroke="none" stroke-width="1" />
<line x1="117.7" y1="279.65" x2="117.7" y2="285.65" stroke="#222" stroke-width="0.4" />
<line x1="116.9" y1="279.65" x2="118.5" y2="279.65" stroke="#222" stroke-width="0.4" />
<line x1="116.9" y1="285.65" x2="118.5" y2="285.65" stroke="#222" stroke-width="0.4" />
<rect x="116.6" y="281.55" width="2.2" height="2.2" fill="#111" stroke="none" stroke-width="1" />
<line x1="140.2" y1="280.53" x2="140.2" y2="286.53" stroke="#222" stroke-width="0.4" />
<line x1="139.4" y1="280.53" x2="141" y2="280.53" stroke="#222" stroke-width="0.4" />
<line x1="139.4" y1="286.53" x2="141" y2="286.53" stroke="#222" stroke-width="0.4" />
<rect x="139.1" y="282.43" width="2.2" height="2.2" fill="#111" stroke="none" stroke-width="1" />
<text x="187.4" y="18.7" font-family="Liberation Serif" font-size="10.5" fill="#111" text-anchor="start" font-weight="bold" font-style="normal" >(b)</text>
<rect x="219.7" y="13.6" width="136.9" height="109.8" fill="none" stroke="#555" stroke-width="0.8" />
<line x1="219.7" y1="13.6" x2="219.7" y2="123.4" stroke="#666" stroke-width="1.2" />
<line x1="219.7" y1="123.4" x2="356.6" y2="123.4" stroke="#222" stroke-width="0.9" />
<line x1="217.7" y1="123.4" x2="219.7" y2="123.4" stroke="#444" stroke-width="0.7" />
<text x="216.4" y="126.3" font-family="Liberation Sans" font-size="8.1" fill="#222" text-anchor="end" font-weight="normal" font-style="normal" >0.0</text>
<line x1="217.7" y1="106.4" x2="219.7" y2="106.4" stroke="#444" stroke-width="0.7" />
<text x="216.4" y="109.3" font-family="Liberation Sans" font-size="8.1" fill="#222" text-anchor="end" font-weight="normal" font-style="normal" >0.2</text>
<line x1="217.7" y1="89.4" x2="219.7" y2="89.4" stroke="#444" stroke-width="0.7" />
<text x="216.4" y="92.3" font-family="Liberation Sans" font-size="8.1" fill="#222" text-anchor="end" font-weight="normal" font-style="normal" >0.4</text>
<line x1="217.7" y1="72.4" x2="219.7" y2="72.4" stroke="#444" stroke-width="0.7" />
<text x="216.4" y="75.3" font-family="Liberation Sans" font-size="8.1" fill="#222" text-anchor="end" font-weight="normal" font-style="normal" >0.6</text>
<line x1="217.7" y1="55.4" x2="219.7" y2="55.4" stroke="#444" stroke-width="0.7" />
<text x="216.4" y="58.3" font-family="Liberation Sans" font-size="8.1" fill="#222" text-anchor="end" font-weight="normal" font-style="normal" >0.8</text>
<line x1="217.7" y1="38.4" x2="219.7" y2="38.4" stroke="#444" stroke-width="0.7" />
<text x="216.4" y="41.3" font-family="Liberation Sans" font-size="8.1" fill="#222" text-anchor="end" font-weight="normal" font-style="normal" >1.0</text>
<line x1="217.7" y1="21.4" x2="219.7" y2="21.4" stroke="#444" stroke-width="0.7" />
<text x="216.4" y="24.3" font-family="Liberation Sans" font-size="8.1" fill="#222" text-anchor="end" font-weight="normal" font-style="normal" >1.2</text>
<line x1="218.5" y1="114.9" x2="219.7" y2="114.9" stroke="#444" stroke-width="0.5" />
<line x1="218.5" y1="97.9" x2="219.7" y2="97.9" stroke="#444" stroke-width="0.5" />
<line x1="218.5" y1="80.9" x2="219.7" y2="80.9" stroke="#444" stroke-width="0.5" />
<line x1="218.5" y1="63.9" x2="219.7" y2="63.9" stroke="#444" stroke-width="0.5" />
<line x1="218.5" y1="46.9" x2="219.7" y2="46.9" stroke="#444" stroke-width="0.5" />
<line x1="218.5" y1="29.9" x2="219.7" y2="29.9" stroke="#444" stroke-width="0.5" />
<line x1="219.5" y1="123.4" x2="219.5" y2="125.4" stroke="#333" stroke-width="0.7" />
<text x="219.9" y="133.6" font-family="Liberation Sans" font-size="8.0" fill="#222" text-anchor="middle" font-weight="normal" font-style="normal" >400</text>
<line x1="246.85" y1="123.4" x2="246.85" y2="125.4" stroke="#333" stroke-width="0.7" />
<text x="247.25" y="133.6" font-family="Liberation Sans" font-size="8.0" fill="#222" text-anchor="middle" font-weight="normal" font-style="normal" >500</text>
<line x1="274.2" y1="123.4" x2="274.2" y2="125.4" stroke="#333" stroke-width="0.7" />
<text x="274.6" y="133.6" font-family="Liberation Sans" font-size="8.0" fill="#222" text-anchor="middle" font-weight="normal" font-style="normal" >600</text>
<line x1="301.55" y1="123.4" x2="301.55" y2="125.4" stroke="#333" stroke-width="0.7" />
<text x="301.95" y="133.6" font-family="Liberation Sans" font-size="8.0" fill="#222" text-anchor="middle" font-weight="normal" font-style="normal" >700</text>
<line x1="328.9" y1="123.4" x2="328.9" y2="125.4" stroke="#333" stroke-width="0.7" />
<text x="329.3" y="133.6" font-family="Liberation Sans" font-size="8.0" fill="#222" text-anchor="middle" font-weight="normal" font-style="normal" >800</text>
<line x1="356.25" y1="123.4" x2="356.25" y2="125.4" stroke="#333" stroke-width="0.7" />
<text x="356.65" y="133.6" font-family="Liberation Sans" font-size="8.0" fill="#222" text-anchor="middle" font-weight="normal" font-style="normal" >900</text>
<line x1="233.18" y1="123.4" x2="233.18" y2="124.6" stroke="#333" stroke-width="0.5" />
<line x1="260.52" y1="123.4" x2="260.52" y2="124.6" stroke="#333" stroke-width="0.5" />
<line x1="287.88" y1="123.4" x2="287.88" y2="124.6" stroke="#333" stroke-width="0.5" />
<line x1="315.23" y1="123.4" x2="315.23" y2="124.6" stroke="#333" stroke-width="0.5" />
<line x1="342.57" y1="123.4" x2="342.57" y2="124.6" stroke="#333" stroke-width="0.5" />
<text x="288.7" y="144.6" font-family="Liberation Sans" font-size="8.4" fill="#222" text-anchor="middle" font-weight="normal" font-style="normal" >wavelength (nm)</text>
<text x="199.8" y="65.6" font-family="Liberation Sans" font-size="8.0" fill="#222" text-anchor="middle" font-weight="normal" font-style="normal" transform="rotate(-90 199.8 65.6)">absorbance</text>
<path d="M219.5,69 L220.19,69.29 L220.87,69.6 L221.56,69.92 L222.25,70.24 L222.94,70.56 L223.62,70.88 L224.31,71.19 L225,71.48 L225.68,71.75 L226.37,72 L227.06,72.22 L227.75,72.41 L228.43,72.58 L229.12,72.76 L229.81,72.93 L230.49,73.09 L231.18,73.24 L231.87,73.38 L232.56,73.49 L233.24,73.58 L233.93,73.64 L234.62,73.67 L235.31,73.66 L235.99,73.59 L236.68,73.46 L237.37,73.29 L238.05,73.07 L238.74,72.81 L239.43,72.52 L240.12,72.2 L240.8,71.85 L241.49,71.49 L242.18,70.98 L242.86,70.27 L243.55,69.38 L244.24,68.35 L244.93,67.18 L245.61,65.91 L246.3,64.55 L246.99,63.13 L247.67,61.67 L248.36,60.18 L249.05,58.4 L249.74,56.3 L250.42,53.98 L251.11,51.56 L251.8,49.15 L252.48,46.87 L253.17,44.82 L253.86,43.1 L254.55,41.51 L255.23,39.96 L255.92,38.48 L256.61,37.1 L257.3,35.85 L257.98,34.75 L258.67,33.83 L259.36,33.11 L260.04,32.45 L260.73,31.82 L261.42,31.25 L262.11,30.76 L262.79,30.38 L263.48,30.14 L264.17,30.07 L264.85,30.3 L265.54,30.84 L266.23,31.64 L266.92,32.64 L267.6,33.8 L268.29,35.05 L268.98,36.35 L269.66,37.63 L270.35,38.85 L271.04,40.19 L271.73,41.65 L272.41,43.23 L273.1,44.88 L273.79,46.6 L274.47,48.35 L275.16,50.11 L275.85,51.87 L276.54,53.7 L277.22,55.61 L277.91,57.56 L278.6,59.53 L279.29,61.52 L279.97,63.48 L280.66,65.41 L281.35,67.29 L282.03,69.18 L282.72,71.08 L283.41,72.98 L284.1,74.84 L284.78,76.66 L285.47,78.41 L286.16,80.08 L286.84,81.67 L287.53,83.22 L288.22,84.74 L288.91,86.22 L289.59,87.64 L290.28,88.99 L290.97,90.26 L291.65,91.43 L292.34,92.51 L293.03,93.54 L293.72,94.53 L294.4,95.46 L295.09,96.35 L295.78,97.2 L296.46,97.99 L297.15,98.74 L297.84,99.45 L298.53,100.11 L299.21,100.75 L299.9,101.37 L300.59,101.96 L301.28,102.53 L301.96,103.07 L302.65,103.59 L303.34,104.08 L304.02,104.55 L304.71,104.99 L305.4,105.4 L306.09,105.79 L306.77,106.17 L307.46,106.52 L308.15,106.86 L308.83,107.19 L309.52,107.5 L310.21,107.81 L310.9,108.1 L311.58,108.38 L312.27,108.66 L312.96,108.93 L313.64,109.2 L314.33,109.46 L315.02,109.72 L315.71,109.98 L316.39,110.24 L317.08,110.49 L317.77,110.75 L318.45,111 L319.14,111.25 L319.83,111.49 L320.52,111.73 L321.2,111.97 L321.89,112.21 L322.58,112.43 L323.27,112.66 L323.95,112.88 L324.64,113.09 L325.33,113.3 L326.01,113.5 L326.7,113.7 L327.39,113.89 L328.08,114.07 L328.76,114.24 L329.45,114.41 L330.14,114.57 L330.82,114.73 L331.51,114.88 L332.2,115.02 L332.89,115.17 L333.57,115.31 L334.26,115.44 L334.95,115.57 L335.63,115.7 L336.32,115.83 L337.01,115.95 L337.7,116.07 L338.38,116.19 L339.07,116.3 L339.76,116.42 L340.44,116.53 L341.13,116.64 L341.82,116.74 L342.51,116.85 L343.19,116.95 L343.88,117.06 L344.57,117.16 L345.26,117.26 L345.94,117.35 L346.63,117.44 L347.32,117.53 L348,117.62 L348.69,117.71 L349.38,117.8 L350.07,117.88 L350.75,117.96 L351.44,118.05 L352.13,118.13 L352.81,118.21 L353.5,118.3 L354.19,118.38 L354.88,118.47 L355.56,118.55 L356.25,118.64" fill="none" stroke="#ff8c1a" stroke-width="1.35" stroke-linejoin="round" stroke-linecap="round" />
<path d="M219.5,70.7 L220.19,70.92 L220.87,71.15 L221.56,71.39 L222.25,71.64 L222.94,71.88 L223.62,72.13 L224.31,72.36 L225,72.58 L225.68,72.78 L226.37,72.97 L227.06,73.13 L227.75,73.26 L228.43,73.38 L229.12,73.49 L229.81,73.61 L230.49,73.72 L231.18,73.82 L231.87,73.91 L232.56,73.98 L233.24,74.04 L233.93,74.08 L234.62,74.1 L235.31,74.07 L235.99,73.95 L236.68,73.73 L237.37,73.44 L238.05,73.07 L238.74,72.65 L239.43,72.18 L240.12,71.68 L240.8,71.15 L241.49,70.61 L242.18,69.98 L242.86,69.21 L243.55,68.32 L244.24,67.31 L244.93,66.19 L245.61,64.95 L246.3,63.62 L246.99,62.19 L247.67,60.68 L248.36,59.08 L249.05,57.42 L249.74,55.52 L250.42,52.91 L251.11,49.81 L251.8,46.53 L252.48,43.38 L253.17,40.64 L253.86,38.62 L254.55,37.21 L255.23,35.86 L255.92,34.58 L256.61,33.44 L257.3,32.47 L257.98,31.71 L258.67,31.21 L259.36,31.01 L260.04,31.11 L260.73,31.47 L261.42,32.02 L262.11,32.72 L262.79,33.53 L263.48,34.4 L264.17,35.28 L264.85,36.13 L265.54,37.05 L266.23,38.08 L266.92,39.2 L267.6,40.42 L268.29,41.72 L268.98,43.12 L269.66,44.6 L270.35,46.26 L271.04,48.13 L271.73,50.17 L272.41,52.35 L273.1,54.64 L273.79,57 L274.47,59.41 L275.16,61.84 L275.85,64.25 L276.54,66.6 L277.22,68.88 L277.91,71.15 L278.6,73.47 L279.29,75.81 L279.97,78.14 L280.66,80.42 L281.35,82.62 L282.03,84.7 L282.72,86.69 L283.41,88.66 L284.1,90.55 L284.78,92.33 L285.47,93.93 L286.16,95.33 L286.84,96.64 L287.53,97.89 L288.22,99.07 L288.91,100.17 L289.59,101.18 L290.28,102.08 L290.97,102.87 L291.65,103.55 L292.34,104.17 L293.03,104.76 L293.72,105.31 L294.4,105.84 L295.09,106.34 L295.78,106.81 L296.46,107.26 L297.15,107.68 L297.84,108.07 L298.53,108.45 L299.21,108.8 L299.9,109.13 L300.59,109.45 L301.28,109.74 L301.96,110.03 L302.65,110.3 L303.34,110.57 L304.02,110.83 L304.71,111.09 L305.4,111.35 L306.09,111.6 L306.77,111.84 L307.46,112.09 L308.15,112.33 L308.83,112.56 L309.52,112.79 L310.21,113.01 L310.9,113.23 L311.58,113.45 L312.27,113.66 L312.96,113.87 L313.64,114.07 L314.33,114.27 L315.02,114.46 L315.71,114.65 L316.39,114.83 L317.08,115.01 L317.77,115.18 L318.45,115.35 L319.14,115.52 L319.83,115.67 L320.52,115.83 L321.2,115.98 L321.89,116.12 L322.58,116.27 L323.27,116.4 L323.95,116.53 L324.64,116.66 L325.33,116.78 L326.01,116.89 L326.7,117 L327.39,117.11 L328.08,117.21 L328.76,117.31 L329.45,117.4 L330.14,117.48 L330.82,117.56 L331.51,117.64 L332.2,117.72 L332.89,117.79 L333.57,117.86 L334.26,117.93 L334.95,118 L335.63,118.06 L336.32,118.13 L337.01,118.19 L337.7,118.24 L338.38,118.3 L339.07,118.36 L339.76,118.41 L340.44,118.46 L341.13,118.51 L341.82,118.56 L342.51,118.61 L343.19,118.66 L343.88,118.71 L344.57,118.76 L345.26,118.8 L345.94,118.85 L346.63,118.89 L347.32,118.94 L348,118.99 L348.69,119.03 L349.38,119.08 L350.07,119.12 L350.75,119.17 L351.44,119.22 L352.13,119.27 L352.81,119.31 L353.5,119.36 L354.19,119.42 L354.88,119.47 L355.56,119.52 L356.25,119.58" fill="none" stroke="#128a12" stroke-width="1.35" stroke-linejoin="round" stroke-linecap="round" />
<path d="M219.5,66.88 L220.19,67.13 L220.87,67.39 L221.56,67.65 L222.25,67.92 L222.94,68.18 L223.62,68.45 L224.31,68.71 L225,68.96 L225.68,69.2 L226.37,69.44 L227.06,69.66 L227.75,69.86 L228.43,70.07 L229.12,70.29 L229.81,70.51 L230.49,70.73 L231.18,70.93 L231.87,71.12 L232.56,71.28 L233.24,71.42 L233.93,71.51 L234.62,71.55 L235.31,71.51 L235.99,71.34 L236.68,71.04 L237.37,70.64 L238.05,70.14 L238.74,69.56 L239.43,68.91 L240.12,68.22 L240.8,67.5 L241.49,66.75 L242.18,65.85 L242.86,64.72 L243.55,63.39 L244.24,61.9 L244.93,60.28 L245.61,58.56 L246.3,56.77 L246.99,54.67 L247.67,52.14 L248.36,49.34 L249.05,46.43 L249.74,43.58 L250.42,40.96 L251.11,38.72 L251.8,36.79 L252.48,34.8 L253.17,32.81 L253.86,30.88 L254.55,29.1 L255.23,27.52 L255.92,26.21 L256.61,25.26 L257.3,24.72 L257.98,24.68 L258.67,25.22 L259.36,26.23 L260.04,27.58 L260.73,29.13 L261.42,30.76 L262.11,32.32 L262.79,33.85 L263.48,35.54 L264.17,37.35 L264.85,39.28 L265.54,41.29 L266.23,43.38 L266.92,45.54 L267.6,47.88 L268.29,50.36 L268.98,52.95 L269.66,55.62 L270.35,58.33 L271.04,61.04 L271.73,63.71 L272.41,66.31 L273.1,68.81 L273.79,71.24 L274.47,73.67 L275.16,76.08 L275.85,78.44 L276.54,80.73 L277.22,82.94 L277.91,85.04 L278.6,87.05 L279.29,89.02 L279.97,90.9 L280.66,92.68 L281.35,94.31 L282.03,95.82 L282.72,97.32 L283.41,98.78 L284.1,100.18 L284.78,101.48 L285.47,102.65 L286.16,103.66 L286.84,104.49 L287.53,105.14 L288.22,105.76 L288.91,106.34 L289.59,106.89 L290.28,107.41 L290.97,107.91 L291.65,108.37 L292.34,108.81 L293.03,109.22 L293.72,109.61 L294.4,109.97 L295.09,110.31 L295.78,110.63 L296.46,110.92 L297.15,111.19 L297.84,111.44 L298.53,111.67 L299.21,111.88 L299.9,112.08 L300.59,112.27 L301.28,112.46 L301.96,112.64 L302.65,112.81 L303.34,112.98 L304.02,113.14 L304.71,113.31 L305.4,113.46 L306.09,113.61 L306.77,113.76 L307.46,113.9 L308.15,114.04 L308.83,114.17 L309.52,114.3 L310.21,114.43 L310.9,114.56 L311.58,114.68 L312.27,114.79 L312.96,114.91 L313.64,115.02 L314.33,115.13 L315.02,115.23 L315.71,115.33 L316.39,115.44 L317.08,115.53 L317.77,115.63 L318.45,115.73 L319.14,115.82 L319.83,115.91 L320.52,116 L321.2,116.09 L321.89,116.17 L322.58,116.26 L323.27,116.34 L323.95,116.43 L324.64,116.51 L325.33,116.6 L326.01,116.68 L326.7,116.76 L327.39,116.84 L328.08,116.93 L328.76,117.01 L329.45,117.09 L330.14,117.17 L330.82,117.25 L331.51,117.33 L332.2,117.4 L332.89,117.48 L333.57,117.55 L334.26,117.62 L334.95,117.69 L335.63,117.76 L336.32,117.82 L337.01,117.89 L337.7,117.96 L338.38,118.02 L339.07,118.08 L339.76,118.15 L340.44,118.21 L341.13,118.27 L341.82,118.33 L342.51,118.39 L343.19,118.45 L343.88,118.51 L344.57,118.56 L345.26,118.62 L345.94,118.68 L346.63,118.74 L347.32,118.8 L348,118.85 L348.69,118.91 L349.38,118.97 L350.07,119.03 L350.75,119.09 L351.44,119.15 L352.13,119.21 L352.81,119.26 L353.5,119.33 L354.19,119.39 L354.88,119.45 L355.56,119.51 L356.25,119.58" fill="none" stroke="#22eeee" stroke-width="1.35" stroke-linejoin="round" stroke-linecap="round" />
<path d="M219.5,67.3 L220.19,67.55 L220.87,67.81 L221.56,68.08 L222.25,68.34 L222.94,68.61 L223.62,68.87 L224.31,69.13 L225,69.39 L225.68,69.63 L226.37,69.86 L227.06,70.08 L227.75,70.29 L228.43,70.49 L229.12,70.71 L229.81,70.93 L230.49,71.15 L231.18,71.36 L231.87,71.55 L232.56,71.71 L233.24,71.84 L233.93,71.93 L234.62,71.97 L235.31,71.94 L235.99,71.79 L236.68,71.53 L237.37,71.17 L238.05,70.73 L238.74,70.21 L239.43,69.62 L240.12,68.99 L240.8,68.31 L241.49,67.61 L242.18,66.69 L242.86,65.48 L243.55,64.04 L244.24,62.4 L244.93,60.61 L245.61,58.72 L246.3,56.77 L246.99,54.53 L247.67,51.86 L248.36,48.92 L249.05,45.88 L249.74,42.92 L250.42,40.21 L251.11,37.9 L251.8,35.58 L252.48,33.18 L253.17,30.86 L253.86,28.79 L254.55,27.11 L255.23,26.02 L255.92,25.65 L256.61,25.99 L257.3,26.83 L257.98,28.05 L258.67,29.5 L259.36,31.06 L260.04,32.59 L260.73,34.3 L261.42,36.29 L262.11,38.5 L262.79,40.84 L263.48,43.22 L264.17,45.6 L264.85,48.08 L265.54,50.67 L266.23,53.33 L266.92,56.06 L267.6,58.82 L268.29,61.6 L268.98,64.38 L269.66,67.12 L270.35,69.84 L271.04,72.66 L271.73,75.55 L272.41,78.41 L273.1,81.14 L273.79,83.63 L274.47,85.82 L275.16,87.85 L275.85,89.74 L276.54,91.5 L277.22,93.13 L277.91,94.6 L278.6,95.96 L279.29,97.27 L279.97,98.51 L280.66,99.7 L281.35,100.83 L282.03,101.89 L282.72,102.88 L283.41,103.8 L284.1,104.65 L284.78,105.42 L285.47,106.15 L286.16,106.88 L286.84,107.58 L287.53,108.27 L288.22,108.92 L288.91,109.55 L289.59,110.15 L290.28,110.71 L290.97,111.23 L291.65,111.7 L292.34,112.13 L293.03,112.51 L293.72,112.84 L294.4,113.1 L295.09,113.33 L295.78,113.54 L296.46,113.74 L297.15,113.93 L297.84,114.11 L298.53,114.27 L299.21,114.43 L299.9,114.57 L300.59,114.71 L301.28,114.84 L301.96,114.96 L302.65,115.08 L303.34,115.2 L304.02,115.31 L304.71,115.42 L305.4,115.52 L306.09,115.63 L306.77,115.73 L307.46,115.84 L308.15,115.95 L308.83,116.05 L309.52,116.17 L310.21,116.28 L310.9,116.41 L311.58,116.53 L312.27,116.67 L312.96,116.81 L313.64,116.96 L314.33,117.12 L315.02,117.28 L315.71,117.45 L316.39,117.62 L317.08,117.8 L317.77,117.98 L318.45,118.16 L319.14,118.34 L319.83,118.52 L320.52,118.7 L321.2,118.87 L321.89,119.05 L322.58,119.21 L323.27,119.38 L323.95,119.54 L324.64,119.69 L325.33,119.83 L326.01,119.97 L326.7,120.09 L327.39,120.21 L328.08,120.31 L328.76,120.4 L329.45,120.48 L330.14,120.55 L330.82,120.61 L331.51,120.67 L332.2,120.73 L332.89,120.79 L333.57,120.84 L334.26,120.89 L334.95,120.94 L335.63,120.99 L336.32,121.03 L337.01,121.08 L337.7,121.12 L338.38,121.16 L339.07,121.2 L339.76,121.24 L340.44,121.27 L341.13,121.31 L341.82,121.34 L342.51,121.38 L343.19,121.41 L343.88,121.44 L344.57,121.48 L345.26,121.51 L345.94,121.54 L346.63,121.57 L347.32,121.6 L348,121.63 L348.69,121.66 L349.38,121.69 L350.07,121.73 L350.75,121.76 L351.44,121.79 L352.13,121.82 L352.81,121.86 L353.5,121.89 L354.19,121.93 L354.88,121.96 L355.56,122 L356.25,122.04" fill="none" stroke="#ee1111" stroke-width="1.35" stroke-linejoin="round" stroke-linecap="round" />
<path d="M219.5,67.72 L220.19,67.98 L220.87,68.25 L221.56,68.52 L222.25,68.8 L222.94,69.07 L223.62,69.35 L224.31,69.61 L225,69.87 L225.68,70.11 L226.37,70.33 L227.06,70.53 L227.75,70.71 L228.43,70.88 L229.12,71.05 L229.81,71.22 L230.49,71.38 L231.18,71.53 L231.87,71.67 L232.56,71.79 L233.24,71.88 L233.93,71.94 L234.62,71.97 L235.31,71.94 L235.99,71.77 L236.68,71.49 L237.37,71.09 L238.05,70.6 L238.74,70.03 L239.43,69.38 L240.12,68.69 L240.8,67.95 L241.49,67.17 L242.18,66.15 L242.86,64.82 L243.55,63.23 L244.24,61.45 L244.93,59.52 L245.61,57.52 L246.3,55.31 L246.99,52.6 L247.67,49.59 L248.36,46.46 L249.05,43.42 L249.74,40.65 L250.42,38.35 L251.11,36.26 L251.8,34.11 L252.48,32.01 L253.17,30.1 L253.86,28.48 L254.55,27.27 L255.23,26.6 L255.92,26.55 L256.61,27.01 L257.3,27.83 L257.98,28.91 L258.67,30.16 L259.36,31.46 L260.04,32.96 L260.73,34.91 L261.42,37.17 L262.11,39.64 L262.79,42.17 L263.48,44.64 L264.17,47.12 L264.85,49.68 L265.54,52.32 L266.23,55.03 L266.92,57.79 L267.6,60.61 L268.29,63.48 L268.98,66.38 L269.66,69.33 L270.35,72.51 L271.04,75.8 L271.73,78.9 L272.41,81.57 L273.1,84.02 L273.79,86.3 L274.47,88.42 L275.16,90.39 L275.85,92.29 L276.54,94.12 L277.22,95.85 L277.91,97.43 L278.6,98.84 L279.29,100.03 L279.97,101.09 L280.66,102.04 L281.35,102.92 L282.03,103.72 L282.72,104.45 L283.41,105.12 L284.1,105.76 L284.78,106.36 L285.47,106.94 L286.16,107.48 L286.84,108 L287.53,108.48 L288.22,108.92 L288.91,109.33 L289.59,109.7 L290.28,110.04 L290.97,110.36 L291.65,110.68 L292.34,110.98 L293.03,111.26 L293.72,111.54 L294.4,111.8 L295.09,112.05 L295.78,112.29 L296.46,112.52 L297.15,112.74 L297.84,112.94 L298.53,113.14 L299.21,113.32 L299.9,113.49 L300.59,113.66 L301.28,113.81 L301.96,113.96 L302.65,114.1 L303.34,114.23 L304.02,114.36 L304.71,114.49 L305.4,114.61 L306.09,114.72 L306.77,114.83 L307.46,114.94 L308.15,115.05 L308.83,115.15 L309.52,115.25 L310.21,115.35 L310.9,115.45 L311.58,115.55 L312.27,115.65 L312.96,115.75 L313.64,115.85 L314.33,115.95 L315.02,116.06 L315.71,116.16 L316.39,116.27 L317.08,116.39 L317.77,116.5 L318.45,116.62 L319.14,116.74 L319.83,116.86 L320.52,116.97 L321.2,117.09 L321.89,117.21 L322.58,117.32 L323.27,117.44 L323.95,117.55 L324.64,117.65 L325.33,117.76 L326.01,117.86 L326.7,117.95 L327.39,118.04 L328.08,118.12 L328.76,118.2 L329.45,118.27 L330.14,118.34 L330.82,118.4 L331.51,118.46 L332.2,118.52 L332.89,118.58 L333.57,118.63 L334.26,118.68 L334.95,118.74 L335.63,118.79 L336.32,118.84 L337.01,118.88 L337.7,118.93 L338.38,118.97 L339.07,119.02 L339.76,119.06 L340.44,119.1 L341.13,119.14 L341.82,119.18 L342.51,119.22 L343.19,119.26 L343.88,119.3 L344.57,119.34 L345.26,119.38 L345.94,119.41 L346.63,119.45 L347.32,119.49 L348,119.52 L348.69,119.56 L349.38,119.6 L350.07,119.64 L350.75,119.67 L351.44,119.71 L352.13,119.75 L352.81,119.79 L353.5,119.83 L354.19,119.87 L354.88,119.91 L355.56,119.96 L356.25,120" fill="none" stroke="#111111" stroke-width="1.35" stroke-linejoin="round" stroke-linecap="round" />
<path d="M219.5,66.88 L220.19,67.13 L220.87,67.39 L221.56,67.65 L222.25,67.92 L222.94,68.18 L223.62,68.45 L224.31,68.71 L225,68.96 L225.68,69.2 L226.37,69.44 L227.06,69.66 L227.75,69.86 L228.43,70.07 L229.12,70.29 L229.81,70.51 L230.49,70.73 L231.18,70.93 L231.87,71.12 L232.56,71.28 L233.24,71.42 L233.93,71.51 L234.62,71.55 L235.31,71.51 L235.99,71.32 L236.68,71 L237.37,70.56 L238.05,70.01 L238.74,69.38 L239.43,68.68 L240.12,67.92 L240.8,67.13 L241.49,66.32 L242.18,65.31 L242.86,64.04 L243.55,62.55 L244.24,60.88 L244.93,59.08 L245.61,57.17 L246.3,55.01 L246.99,52.32 L247.67,49.3 L248.36,46.17 L249.05,43.12 L249.74,40.36 L250.42,38.1 L251.11,35.97 L251.8,33.79 L252.48,31.73 L253.17,29.94 L253.86,28.58 L254.55,27.81 L255.23,27.74 L255.92,28.14 L256.61,28.89 L257.3,29.9 L257.98,31.09 L258.67,32.38 L259.36,33.7 L260.04,35.38 L260.73,37.44 L261.42,39.76 L262.11,42.2 L262.79,44.63 L263.48,47.12 L264.17,49.73 L264.85,52.46 L265.54,55.28 L266.23,58.16 L266.92,61.09 L267.6,64.03 L268.29,66.96 L268.98,69.92 L269.66,73.21 L270.35,76.35 L271.04,78.68 L271.73,80.32 L272.41,81.64 L273.1,82.84 L273.79,84.11 L274.47,85.62 L275.16,87.39 L275.85,89.29 L276.54,91.2 L277.22,93.01 L277.91,94.6 L278.6,95.97 L279.29,97.32 L279.97,98.63 L280.66,99.88 L281.35,101.06 L282.03,102.15 L282.72,103.15 L283.41,104.02 L284.1,104.76 L284.78,105.36 L285.47,105.9 L286.16,106.42 L286.84,106.92 L287.53,107.4 L288.22,107.85 L288.91,108.29 L289.59,108.7 L290.28,109.1 L290.97,109.48 L291.65,109.84 L292.34,110.18 L293.03,110.51 L293.72,110.82 L294.4,111.11 L295.09,111.39 L295.78,111.65 L296.46,111.9 L297.15,112.14 L297.84,112.36 L298.53,112.56 L299.21,112.76 L299.9,112.94 L300.59,113.11 L301.28,113.28 L301.96,113.44 L302.65,113.6 L303.34,113.75 L304.02,113.9 L304.71,114.05 L305.4,114.19 L306.09,114.33 L306.77,114.47 L307.46,114.61 L308.15,114.74 L308.83,114.87 L309.52,114.99 L310.21,115.12 L310.9,115.24 L311.58,115.35 L312.27,115.47 L312.96,115.58 L313.64,115.68 L314.33,115.79 L315.02,115.89 L315.71,115.99 L316.39,116.09 L317.08,116.18 L317.77,116.27 L318.45,116.36 L319.14,116.45 L319.83,116.53 L320.52,116.61 L321.2,116.69 L321.89,116.76 L322.58,116.84 L323.27,116.91 L323.95,116.97 L324.64,117.04 L325.33,117.1 L326.01,117.16 L326.7,117.22 L327.39,117.28 L328.08,117.33 L328.76,117.38 L329.45,117.43 L330.14,117.48 L330.82,117.52 L331.51,117.57 L332.2,117.61 L332.89,117.65 L333.57,117.69 L334.26,117.73 L334.95,117.76 L335.63,117.8 L336.32,117.83 L337.01,117.87 L337.7,117.9 L338.38,117.93 L339.07,117.96 L339.76,117.99 L340.44,118.02 L341.13,118.05 L341.82,118.08 L342.51,118.1 L343.19,118.13 L343.88,118.16 L344.57,118.18 L345.26,118.21 L345.94,118.24 L346.63,118.26 L347.32,118.29 L348,118.31 L348.69,118.34 L349.38,118.36 L350.07,118.39 L350.75,118.41 L351.44,118.44 L352.13,118.47 L352.81,118.49 L353.5,118.52 L354.19,118.55 L354.88,118.58 L355.56,118.61 L356.25,118.64" fill="none" stroke="#2222ee" stroke-width="1.35" stroke-linejoin="round" stroke-linecap="round" />
<text x="324.8" y="20.5" font-family="Liberation Sans" font-size="6.6" fill="#222" text-anchor="start" font-weight="normal" font-style="normal" >λ<tspan font-size="4.6" dy="1.5">LSPR</tspan><tspan dy="-1.5"> (nm)</tspan></text>
<line x1="291" y1="27.8" x2="305" y2="27.8" stroke="#111111" stroke-width="1.4" />
<text x="306.3" y="30.2" font-family="Liberation Sans" font-size="6.6" fill="#222" text-anchor="start" font-weight="normal" font-style="normal" >0 pg/mL</text>
<text x="335.2" y="30.2" font-family="Liberation Sans" font-size="6.6" fill="#222" text-anchor="start" font-weight="normal" font-style="normal" >531</text>
<line x1="291" y1="35.25" x2="305" y2="35.25" stroke="#ee1111" stroke-width="1.4" />
<text x="306.3" y="37.65" font-family="Liberation Sans" font-size="6.6" fill="#222" text-anchor="start" font-weight="normal" font-style="normal" >4 pg/mL</text>
<text x="335.2" y="37.65" font-family="Liberation Sans" font-size="6.6" fill="#ee1111" text-anchor="start" font-weight="normal" font-style="normal" >535</text>
<line x1="291" y1="42.7" x2="305" y2="42.7" stroke="#ff8c1a" stroke-width="1.4" />
<text x="306.3" y="45.1" font-family="Liberation Sans" font-size="6.6" fill="#222" text-anchor="start" font-weight="normal" font-style="normal" >10 pg/mL</text>
<text x="335.2" y="45.1" font-family="Liberation Sans" font-size="6.6" fill="#ff8c1a" text-anchor="start" font-weight="normal" font-style="normal" >556</text>
<line x1="291" y1="50.15" x2="305" y2="50.15" stroke="#128a12" stroke-width="1.4" />
<text x="306.3" y="52.55" font-family="Liberation Sans" font-size="6.6" fill="#222" text-anchor="start" font-weight="normal" font-style="normal" >12 pg/mL</text>
<text x="335.2" y="52.55" font-family="Liberation Sans" font-size="6.6" fill="#128a12" text-anchor="start" font-weight="normal" font-style="normal" >547</text>
<line x1="291" y1="57.6" x2="305" y2="57.6" stroke="#22eeee" stroke-width="1.4" />
<text x="306.3" y="60" font-family="Liberation Sans" font-size="6.6" fill="#222" text-anchor="start" font-weight="normal" font-style="normal" >20 pg/mL</text>
<text x="335.2" y="60" font-family="Liberation Sans" font-size="6.6" fill="#22eeee" text-anchor="start" font-weight="normal" font-style="normal" >539</text>
<line x1="291" y1="65.05" x2="305" y2="65.05" stroke="#2222ee" stroke-width="1.4" />
<text x="306.3" y="67.45" font-family="Liberation Sans" font-size="6.6" fill="#222" text-anchor="start" font-weight="normal" font-style="normal" >50 pg/mL</text>
<text x="335.2" y="67.45" font-family="Liberation Sans" font-size="6.6" fill="#2222ee" text-anchor="start" font-weight="normal" font-style="normal" >533</text>
<rect x="385" y="14" width="136.7" height="109.4" fill="none" stroke="#555" stroke-width="0.8" />
<line x1="385" y1="14" x2="385" y2="123.4" stroke="#555" stroke-width="1.1" />
<line x1="385" y1="123.4" x2="521.7" y2="123.4" stroke="#222" stroke-width="0.9" />
<line x1="383" y1="123.4" x2="385" y2="123.4" stroke="#444" stroke-width="0.7" />
<text x="381.8" y="126.3" font-family="Liberation Sans" font-size="8.1" fill="#222" text-anchor="end" font-weight="normal" font-style="normal" >0</text>
<line x1="383" y1="99.2" x2="385" y2="99.2" stroke="#444" stroke-width="0.7" />
<text x="381.8" y="102.1" font-family="Liberation Sans" font-size="8.1" fill="#222" text-anchor="end" font-weight="normal" font-style="normal" >2</text>
<line x1="383" y1="75" x2="385" y2="75" stroke="#444" stroke-width="0.7" />
<text x="381.8" y="77.9" font-family="Liberation Sans" font-size="8.1" fill="#222" text-anchor="end" font-weight="normal" font-style="normal" >4</text>
<line x1="383" y1="50.8" x2="385" y2="50.8" stroke="#444" stroke-width="0.7" />
<text x="381.8" y="53.7" font-family="Liberation Sans" font-size="8.1" fill="#222" text-anchor="end" font-weight="normal" font-style="normal" >6</text>
<line x1="383" y1="26.6" x2="385" y2="26.6" stroke="#444" stroke-width="0.7" />
<text x="381.8" y="29.5" font-family="Liberation Sans" font-size="8.1" fill="#222" text-anchor="end" font-weight="normal" font-style="normal" >8</text>
<line x1="383.8" y1="111.3" x2="385" y2="111.3" stroke="#444" stroke-width="0.5" />
<line x1="383.8" y1="87.1" x2="385" y2="87.1" stroke="#444" stroke-width="0.5" />
<line x1="383.8" y1="62.9" x2="385" y2="62.9" stroke="#444" stroke-width="0.5" />
<line x1="383.8" y1="38.7" x2="385" y2="38.7" stroke="#444" stroke-width="0.5" />
<line x1="385.2" y1="123.4" x2="385.2" y2="125.4" stroke="#333" stroke-width="0.7" />
<text x="385.2" y="134" font-family="Liberation Sans" font-size="8.0" fill="#222" text-anchor="middle" font-weight="normal" font-style="normal" >1</text>
<line x1="430.3" y1="123.4" x2="430.3" y2="125.4" stroke="#333" stroke-width="0.7" />
<text x="430.3" y="134" font-family="Liberation Sans" font-size="8.0" fill="#222" text-anchor="middle" font-weight="normal" font-style="normal" >10</text>
<line x1="475.4" y1="123.4" x2="475.4" y2="125.4" stroke="#333" stroke-width="0.7" />
<text x="475.4" y="134" font-family="Liberation Sans" font-size="8.0" fill="#222" text-anchor="middle" font-weight="normal" font-style="normal" >100</text>
<line x1="520.5" y1="123.4" x2="520.5" y2="125.4" stroke="#333" stroke-width="0.7" />
<text x="520.5" y="134" font-family="Liberation Sans" font-size="8.0" fill="#222" text-anchor="middle" font-weight="normal" font-style="normal" >1000</text>
<line x1="398.78" y1="123.4" x2="398.78" y2="124.6" stroke="#333" stroke-width="0.5" />
<line x1="406.72" y1="123.4" x2="406.72" y2="124.6" stroke="#333" stroke-width="0.5" />
<line x1="412.35" y1="123.4" x2="412.35" y2="124.6" stroke="#333" stroke-width="0.5" />
<line x1="416.72" y1="123.4" x2="416.72" y2="124.6" stroke="#333" stroke-width="0.5" />
<line x1="420.29" y1="123.4" x2="420.29" y2="124.6" stroke="#333" stroke-width="0.5" />
<line x1="423.31" y1="123.4" x2="423.31" y2="124.6" stroke="#333" stroke-width="0.5" />
<line x1="425.93" y1="123.4" x2="425.93" y2="124.6" stroke="#333" stroke-width="0.5" />
<line x1="428.24" y1="123.4" x2="428.24" y2="124.6" stroke="#333" stroke-width="0.5" />
<line x1="443.88" y1="123.4" x2="443.88" y2="124.6" stroke="#333" stroke-width="0.5" />
<line x1="451.82" y1="123.4" x2="451.82" y2="124.6" stroke="#333" stroke-width="0.5" />
<line x1="457.45" y1="123.4" x2="457.45" y2="124.6" stroke="#333" stroke-width="0.5" />
<line x1="461.82" y1="123.4" x2="461.82" y2="124.6" stroke="#333" stroke-width="0.5" />
<line x1="465.39" y1="123.4" x2="465.39" y2="124.6" stroke="#333" stroke-width="0.5" />
<line x1="468.41" y1="123.4" x2="468.41" y2="124.6" stroke="#333" stroke-width="0.5" />
<line x1="471.03" y1="123.4" x2="471.03" y2="124.6" stroke="#333" stroke-width="0.5" />
<line x1="473.34" y1="123.4" x2="473.34" y2="124.6" stroke="#333" stroke-width="0.5" />
<line x1="488.98" y1="123.4" x2="488.98" y2="124.6" stroke="#333" stroke-width="0.5" />
<line x1="496.92" y1="123.4" x2="496.92" y2="124.6" stroke="#333" stroke-width="0.5" />
<line x1="502.55" y1="123.4" x2="502.55" y2="124.6" stroke="#333" stroke-width="0.5" />
<line x1="506.92" y1="123.4" x2="506.92" y2="124.6" stroke="#333" stroke-width="0.5" />
<line x1="510.49" y1="123.4" x2="510.49" y2="124.6" stroke="#333" stroke-width="0.5" />
<line x1="513.51" y1="123.4" x2="513.51" y2="124.6" stroke="#333" stroke-width="0.5" />
<line x1="516.13" y1="123.4" x2="516.13" y2="124.6" stroke="#333" stroke-width="0.5" />
<line x1="518.44" y1="123.4" x2="518.44" y2="124.6" stroke="#333" stroke-width="0.5" />
<text x="454" y="142.5" font-family="Liberation Sans" font-size="8.2" fill="#222" text-anchor="middle" font-weight="normal" font-style="normal" >size (nm)</text>
<text x="370.8" y="63.9" font-family="Liberation Sans" font-size="8.7" fill="#222" text-anchor="middle" font-weight="normal" font-style="normal" transform="rotate(-90 370.8 63.9)">intensity (%)</text>
<path d="M385.2,123.4 L385.77,123.4 L386.33,123.4 L386.9,123.4 L387.46,123.4 L388.03,123.4 L388.6,123.4 L389.16,123.4 L389.73,123.4 L390.29,123.4 L390.86,123.4 L391.43,123.4 L391.99,123.4 L392.56,123.4 L393.13,123.4 L393.69,123.4 L394.26,123.4 L394.82,123.4 L395.39,123.4 L395.96,123.4 L396.52,123.4 L397.09,123.4 L397.65,123.4 L398.22,123.4 L398.79,123.4 L399.35,123.4 L399.92,123.4 L400.48,123.4 L401.05,123.4 L401.62,123.4 L402.18,123.4 L402.75,123.4 L403.32,123.4 L403.88,123.4 L404.45,123.4 L405.01,123.4 L405.58,123.4 L406.15,123.4 L406.71,123.4 L407.28,123.4 L407.84,123.4 L408.41,123.4 L408.98,123.4 L409.54,123.4 L410.11,123.4 L410.67,123.4 L411.24,123.4 L411.81,123.4 L412.37,123.4 L412.94,123.4 L413.51,123.4 L414.07,123.4 L414.64,123.4 L415.2,123.4 L415.77,123.4 L416.34,123.4 L416.9,123.4 L417.47,123.4 L418.03,123.4 L418.6,123.4 L419.17,123.4 L419.73,123.4 L420.3,123.4 L420.86,123.4 L421.43,123.4 L422,123.4 L422.56,123.4 L423.13,123.4 L423.7,123.4 L424.26,123.4 L424.83,123.4 L425.39,123.4 L425.96,123.4 L426.53,123.4 L427.09,123.4 L427.66,123.4 L428.22,123.4 L428.79,123.4 L429.36,123.4 L429.92,123.4 L430.49,123.4 L431.05,123.4 L431.62,123.4 L432.19,123.4 L432.75,123.4 L433.32,123.4 L433.89,123.4 L434.45,123.4 L435.02,123.4 L435.58,123.4 L436.15,123.4 L436.72,123.4 L437.28,123.4 L437.85,123.4 L438.41,123.4 L438.98,123.4 L439.55,123.4 L440.11,123.4 L440.68,123.4 L441.24,123.4 L441.81,123.4 L442.38,123.4 L442.94,123.4 L443.51,123.4 L444.08,123.39 L444.64,123.29 L445.21,123.08 L445.77,122.78 L446.34,122.39 L446.91,121.92 L447.47,121.37 L448.04,120.76 L448.6,120.08 L449.17,119.36 L449.74,118.59 L450.3,117.78 L450.87,116.88 L451.43,115.53 L452,113.76 L452.57,111.68 L453.13,109.39 L453.7,106.99 L454.27,104.58 L454.83,102.28 L455.4,100.17 L455.96,98.12 L456.53,96.01 L457.1,93.85 L457.66,91.66 L458.23,89.46 L458.79,87.27 L459.36,85.11 L459.93,82.98 L460.49,80.92 L461.06,78.95 L461.62,77.07 L462.19,75.3 L462.76,73.67 L463.32,72.2 L463.89,70.88 L464.46,69.62 L465.02,68.39 L465.59,67.19 L466.15,66.02 L466.72,64.89 L467.29,63.8 L467.85,62.75 L468.42,61.75 L468.98,60.8 L469.55,59.9 L470.12,59.06 L470.68,58.28 L471.25,57.56 L471.81,56.9 L472.38,56.32 L472.95,55.8 L473.51,55.35 L474.08,54.9 L474.65,54.47 L475.21,54.04 L475.78,53.61 L476.34,53.2 L476.91,52.8 L477.48,52.41 L478.04,52.04 L478.61,51.67 L479.17,51.33 L479.74,51 L480.31,50.69 L480.87,50.4 L481.44,50.14 L482,49.89 L482.57,49.67 L483.14,49.47 L483.7,49.3 L484.27,49.15 L484.84,49.03 L485.4,48.95 L485.97,48.89 L486.53,48.87 L487.1,48.88 L487.67,48.98 L488.23,49.13 L488.8,49.36 L489.36,49.64 L489.93,49.98 L490.5,50.37 L491.06,50.8 L491.63,51.28 L492.19,51.8 L492.76,52.36 L493.33,52.94 L493.89,53.56 L494.46,54.19 L495.03,54.85 L495.59,55.52 L496.16,56.28 L496.72,57.29 L497.29,58.49 L497.86,59.87 L498.42,61.36 L498.99,62.94 L499.55,64.56 L500.12,66.18 L500.69,67.77 L501.25,69.27 L501.82,70.67 L502.38,72.04 L502.95,73.39 L503.52,74.73 L504.08,76.07 L504.65,77.4 L505.22,78.73 L505.78,80.06 L506.35,81.4 L506.91,82.75 L507.48,84.11 L508.05,85.49 L508.61,86.88 L509.18,88.31 L509.74,89.75 L510.31,91.23 L510.88,92.75 L511.44,94.36 L512.01,96.04 L512.57,97.76 L513.14,99.5 L513.71,101.24 L514.27,102.95 L514.84,104.6 L515.41,106.16 L515.97,107.62 L516.54,108.98 L517.1,110.26 L517.67,111.48 L518.24,112.67 L518.8,113.83 L519.37,114.99 L519.93,116.15 L520.5,117.35" fill="none" stroke="#ff8c1a" stroke-width="1.3" stroke-linejoin="round" stroke-linecap="round" />
<path d="M385.2,123.4 L385.77,123.4 L386.33,123.4 L386.9,123.4 L387.46,123.4 L388.03,123.4 L388.6,123.4 L389.16,123.4 L389.73,123.4 L390.29,123.4 L390.86,123.4 L391.43,123.4 L391.99,123.4 L392.56,123.4 L393.13,123.4 L393.69,123.4 L394.26,123.4 L394.82,123.4 L395.39,123.4 L395.96,123.4 L396.52,123.4 L397.09,123.4 L397.65,123.4 L398.22,123.4 L398.79,123.4 L399.35,123.4 L399.92,123.4 L400.48,123.4 L401.05,123.4 L401.62,123.4 L402.18,123.4 L402.75,123.4 L403.32,123.4 L403.88,123.4 L404.45,123.4 L405.01,123.4 L405.58,123.4 L406.15,123.4 L406.71,123.4 L407.28,123.4 L407.84,123.4 L408.41,123.4 L408.98,123.4 L409.54,123.4 L410.11,123.4 L410.67,123.4 L411.24,123.4 L411.81,123.4 L412.37,123.4 L412.94,123.4 L413.51,123.4 L414.07,123.4 L414.64,123.4 L415.2,123.4 L415.77,123.4 L416.34,123.4 L416.9,123.4 L417.47,123.4 L418.03,123.4 L418.6,123.4 L419.17,123.4 L419.73,123.4 L420.3,123.4 L420.86,123.4 L421.43,123.4 L422,123.4 L422.56,123.4 L423.13,123.4 L423.7,123.4 L424.26,123.4 L424.83,123.4 L425.39,123.38 L425.96,123.3 L426.53,123.17 L427.09,122.99 L427.66,122.77 L428.22,122.51 L428.79,122.22 L429.36,121.9 L429.92,121.55 L430.49,121.19 L431.05,120.81 L431.62,120.42 L432.19,120.03 L432.75,119.63 L433.32,119.16 L433.89,118.61 L434.45,117.99 L435.02,117.32 L435.58,116.59 L436.15,115.82 L436.72,115.02 L437.28,114.2 L437.85,113.36 L438.41,112.53 L438.98,111.7 L439.55,110.86 L440.11,110 L440.68,109.12 L441.24,108.21 L441.81,107.28 L442.38,106.33 L442.94,105.36 L443.51,104.38 L444.08,103.37 L444.64,102.35 L445.21,101.32 L445.77,100.27 L446.34,99.21 L446.91,98.13 L447.47,97.05 L448.04,95.96 L448.6,94.86 L449.17,93.76 L449.74,92.64 L450.3,91.53 L450.87,90.41 L451.43,89.29 L452,88.17 L452.57,87.03 L453.13,85.89 L453.7,84.74 L454.27,83.58 L454.83,82.4 L455.4,81.22 L455.96,80.02 L456.53,78.81 L457.1,77.59 L457.66,76.35 L458.23,75.09 L458.79,73.82 L459.36,72.53 L459.93,71.22 L460.49,69.89 L461.06,68.55 L461.62,67.18 L462.19,65.79 L462.76,64.38 L463.32,62.9 L463.89,61.32 L464.46,59.65 L465.02,57.91 L465.59,56.13 L466.15,54.33 L466.72,52.54 L467.29,50.78 L467.85,49.07 L468.42,47.44 L468.98,45.92 L469.55,44.52 L470.12,43.27 L470.68,42.01 L471.25,40.72 L471.81,39.42 L472.38,38.14 L472.95,36.91 L473.51,35.77 L474.08,34.74 L474.65,33.86 L475.21,33.16 L475.78,32.68 L476.34,32.43 L476.91,32.44 L477.48,32.63 L478.04,32.97 L478.61,33.45 L479.17,34.07 L479.74,34.8 L480.31,35.63 L480.87,36.56 L481.44,37.56 L482,38.62 L482.57,39.73 L483.14,40.88 L483.7,42.05 L484.27,43.23 L484.84,44.48 L485.4,46.01 L485.97,47.78 L486.53,49.75 L487.1,51.9 L487.67,54.18 L488.23,56.55 L488.8,58.98 L489.36,61.42 L489.93,63.86 L490.5,66.24 L491.06,68.52 L491.63,70.69 L492.19,72.86 L492.76,75.05 L493.33,77.26 L493.89,79.47 L494.46,81.67 L495.03,83.84 L495.59,85.98 L496.16,88.06 L496.72,90.07 L497.29,91.99 L497.86,93.88 L498.42,95.77 L498.99,97.64 L499.55,99.49 L500.12,101.31 L500.69,103.08 L501.25,104.79 L501.82,106.44 L502.38,108 L502.95,109.48 L503.52,110.86 L504.08,112.12 L504.65,113.37 L505.22,114.65 L505.78,115.94 L506.35,117.21 L506.91,118.42 L507.48,119.56 L508.05,120.58 L508.61,121.46 L509.18,122.18 L509.74,122.7 L510.31,122.99 L510.88,123.06 L511.44,123.1 L512.01,123.13 L512.57,123.16 L513.14,123.19 L513.71,123.21 L514.27,123.23 L514.84,123.25 L515.41,123.26 L515.97,123.28 L516.54,123.29 L517.1,123.31 L517.67,123.32 L518.24,123.33 L518.8,123.35 L519.37,123.36 L519.93,123.38 L520.5,123.4" fill="none" stroke="#128a12" stroke-width="1.3" stroke-linejoin="round" stroke-linecap="round" />
<path d="M385.2,123.4 L385.77,123.34 L386.33,123.29 L386.9,123.23 L387.46,123.18 L388.03,123.13 L388.6,123.09 L389.16,123.04 L389.73,122.99 L390.29,122.94 L390.86,122.9 L391.43,122.84 L391.99,122.79 L392.56,122.73 L393.13,122.67 L393.69,122.6 L394.26,122.53 L394.82,122.45 L395.39,122.37 L395.96,122.28 L396.52,122.18 L397.09,122.04 L397.65,121.83 L398.22,121.56 L398.79,121.25 L399.35,120.9 L399.92,120.53 L400.48,120.15 L401.05,119.76 L401.62,119.39 L402.18,119.03 L402.75,118.69 L403.32,118.4 L403.88,118.16 L404.45,117.98 L405.01,117.87 L405.58,117.84 L406.15,117.92 L406.71,118.13 L407.28,118.43 L407.84,118.82 L408.41,119.26 L408.98,119.76 L409.54,120.28 L410.11,120.8 L410.67,121.32 L411.24,121.81 L411.81,122.24 L412.37,122.62 L412.94,122.91 L413.51,123.09 L414.07,123.16 L414.64,123.14 L415.2,123.08 L415.77,122.98 L416.34,122.85 L416.9,122.7 L417.47,122.52 L418.03,122.32 L418.6,122.1 L419.17,121.88 L419.73,121.64 L420.3,121.4 L420.86,121.16 L421.43,120.92 L422,120.66 L422.56,120.38 L423.13,120.07 L423.7,119.74 L424.26,119.39 L424.83,119.01 L425.39,118.62 L425.96,118.21 L426.53,117.77 L427.09,117.32 L427.66,116.85 L428.22,116.37 L428.79,115.87 L429.36,115.35 L429.92,114.83 L430.49,114.29 L431.05,113.73 L431.62,113.15 L432.19,112.51 L432.75,111.83 L433.32,111.1 L433.89,110.34 L434.45,109.54 L435.02,108.71 L435.58,107.85 L436.15,106.97 L436.72,106.07 L437.28,105.16 L437.85,104.24 L438.41,103.3 L438.98,102.33 L439.55,101.33 L440.11,100.3 L440.68,99.24 L441.24,98.15 L441.81,97.02 L442.38,95.87 L442.94,94.68 L443.51,93.46 L444.08,92.21 L444.64,90.93 L445.21,89.61 L445.77,88.23 L446.34,86.78 L446.91,85.27 L447.47,83.7 L448.04,82.08 L448.6,80.42 L449.17,78.73 L449.74,77.01 L450.3,75.28 L450.87,73.53 L451.43,71.78 L452,70.04 L452.57,68.31 L453.13,66.6 L453.7,64.92 L454.27,63.26 L454.83,61.52 L455.4,59.72 L455.96,57.87 L456.53,55.99 L457.1,54.11 L457.66,52.25 L458.23,50.43 L458.79,48.67 L459.36,46.99 L459.93,45.42 L460.49,43.97 L461.06,42.68 L461.62,41.55 L462.19,40.58 L462.76,39.62 L463.32,38.67 L463.89,37.73 L464.46,36.82 L465.02,35.97 L465.59,35.17 L466.15,34.44 L466.72,33.81 L467.29,33.27 L467.85,32.85 L468.42,32.57 L468.98,32.42 L469.55,32.45 L470.12,32.68 L470.68,33.11 L471.25,33.71 L471.81,34.47 L472.38,35.37 L472.95,36.38 L473.51,37.5 L474.08,38.69 L474.65,39.93 L475.21,41.22 L475.78,42.52 L476.34,43.82 L476.91,45.11 L477.48,46.55 L478.04,48.18 L478.61,49.98 L479.17,51.91 L479.74,53.96 L480.31,56.1 L480.87,58.31 L481.44,60.55 L482,62.8 L482.57,65.05 L483.14,67.25 L483.7,69.39 L484.27,71.48 L484.84,73.62 L485.4,75.79 L485.97,77.99 L486.53,80.21 L487.1,82.43 L487.67,84.63 L488.23,86.81 L488.8,88.95 L489.36,91.04 L489.93,93.07 L490.5,95.01 L491.06,96.93 L491.63,98.89 L492.19,100.86 L492.76,102.82 L493.33,104.75 L493.89,106.63 L494.46,108.43 L495.03,110.13 L495.59,111.7 L496.16,113.13 L496.72,114.38 L497.29,115.44 L497.86,116.41 L498.42,117.37 L498.99,118.31 L499.55,119.22 L500.12,120.09 L500.69,120.88 L501.25,121.6 L501.82,122.21 L502.38,122.72 L502.95,123.1 L503.52,123.33 L504.08,123.4 L504.65,123.4 L505.22,123.4 L505.78,123.4 L506.35,123.4 L506.91,123.4 L507.48,123.4 L508.05,123.4 L508.61,123.4 L509.18,123.4 L509.74,123.4 L510.31,123.4 L510.88,123.4 L511.44,123.4 L512.01,123.4 L512.57,123.4 L513.14,123.4 L513.71,123.4 L514.27,123.4 L514.84,123.4 L515.41,123.4 L515.97,123.4 L516.54,123.4 L517.1,123.4 L517.67,123.4 L518.24,123.4 L518.8,123.4 L519.37,123.4 L519.93,123.4 L520.5,123.4" fill="none" stroke="#ee1111" stroke-width="1.3" stroke-linejoin="round" stroke-linecap="round" />
<path d="M385.2,123.4 L385.77,123.4 L386.33,123.4 L386.9,123.4 L387.46,123.4 L388.03,123.4 L388.6,123.4 L389.16,123.4 L389.73,123.4 L390.29,123.4 L390.86,123.4 L391.43,123.4 L391.99,123.4 L392.56,123.4 L393.13,123.4 L393.69,123.4 L394.26,123.4 L394.82,123.4 L395.39,123.4 L395.96,123.4 L396.52,123.4 L397.09,123.4 L397.65,123.4 L398.22,123.4 L398.79,123.4 L399.35,123.4 L399.92,123.4 L400.48,123.4 L401.05,123.4 L401.62,123.4 L402.18,123.4 L402.75,123.4 L403.32,123.4 L403.88,123.4 L404.45,123.4 L405.01,123.4 L405.58,123.4 L406.15,123.4 L406.71,123.4 L407.28,123.4 L407.84,123.4 L408.41,123.4 L408.98,123.4 L409.54,123.4 L410.11,123.4 L410.67,123.4 L411.24,123.4 L411.81,123.39 L412.37,123.36 L412.94,123.3 L413.51,123.22 L414.07,123.11 L414.64,122.99 L415.2,122.85 L415.77,122.68 L416.34,122.5 L416.9,122.3 L417.47,122.09 L418.03,121.86 L418.6,121.62 L419.17,121.37 L419.73,121.11 L420.3,120.84 L420.86,120.56 L421.43,120.27 L422,119.98 L422.56,119.68 L423.13,119.38 L423.7,119.08 L424.26,118.74 L424.83,118.35 L425.39,117.91 L425.96,117.44 L426.53,116.92 L427.09,116.37 L427.66,115.78 L428.22,115.16 L428.79,114.51 L429.36,113.83 L429.92,113.13 L430.49,112.4 L431.05,111.65 L431.62,110.88 L432.19,110.1 L432.75,109.3 L433.32,108.49 L433.89,107.67 L434.45,106.84 L435.02,106.01 L435.58,105.16 L436.15,104.24 L436.72,103.27 L437.28,102.24 L437.85,101.16 L438.41,100.05 L438.98,98.9 L439.55,97.72 L440.11,96.51 L440.68,95.3 L441.24,94.07 L441.81,92.83 L442.38,91.6 L442.94,90.37 L443.51,89.16 L444.08,87.97 L444.64,86.8 L445.21,85.66 L445.77,84.55 L446.34,83.45 L446.91,82.36 L447.47,81.29 L448.04,80.23 L448.6,79.17 L449.17,78.11 L449.74,77.06 L450.3,76 L450.87,74.95 L451.43,73.88 L452,72.81 L452.57,71.73 L453.13,70.64 L453.7,69.53 L454.27,68.4 L454.83,67.25 L455.4,66.09 L455.96,64.89 L456.53,63.67 L457.1,62.42 L457.66,61.14 L458.23,59.81 L458.79,58.37 L459.36,56.84 L459.93,55.22 L460.49,53.55 L461.06,51.85 L461.62,50.14 L462.19,48.43 L462.76,46.77 L463.32,45.15 L463.89,43.62 L464.46,42.18 L465.02,40.87 L465.59,39.69 L466.15,38.53 L466.72,37.32 L467.29,36.11 L467.85,34.92 L468.42,33.78 L468.98,32.71 L469.55,31.76 L470.12,30.95 L470.68,30.31 L471.25,29.86 L471.81,29.64 L472.38,29.69 L472.95,30.02 L473.51,30.61 L474.08,31.43 L474.65,32.44 L475.21,33.62 L475.78,34.94 L476.34,36.37 L476.91,37.87 L477.48,39.42 L478.04,41.15 L478.61,43.55 L479.17,46.49 L479.74,49.84 L480.31,53.45 L480.87,57.18 L481.44,60.87 L482,64.4 L482.57,67.6 L483.14,70.35 L483.7,72.8 L484.27,75.13 L484.84,77.35 L485.4,79.48 L485.97,81.54 L486.53,83.56 L487.1,85.54 L487.67,87.5 L488.23,89.47 L488.8,91.47 L489.36,93.5 L489.93,95.55 L490.5,97.61 L491.06,99.67 L491.63,101.7 L492.19,103.7 L492.76,105.65 L493.33,107.53 L493.89,109.34 L494.46,111.06 L495.03,112.7 L495.59,114.46 L496.16,116.31 L496.72,118.12 L497.29,119.79 L497.86,121.23 L498.42,122.31 L498.99,122.93 L499.55,123.05 L500.12,123.07 L500.69,123.09 L501.25,123.11 L501.82,123.13 L502.38,123.15 L502.95,123.16 L503.52,123.18 L504.08,123.19 L504.65,123.21 L505.22,123.22 L505.78,123.23 L506.35,123.24 L506.91,123.25 L507.48,123.26 L508.05,123.27 L508.61,123.27 L509.18,123.28 L509.74,123.29 L510.31,123.29 L510.88,123.3 L511.44,123.3 L512.01,123.31 L512.57,123.31 L513.14,123.32 L513.71,123.32 L514.27,123.33 L514.84,123.33 L515.41,123.34 L515.97,123.34 L516.54,123.35 L517.1,123.35 L517.67,123.36 L518.24,123.37 L518.8,123.37 L519.37,123.38 L519.93,123.39 L520.5,123.4" fill="none" stroke="#22eeee" stroke-width="1.3" stroke-linejoin="round" stroke-linecap="round" />
<path d="M385.2,123.4 L385.77,123.3 L386.33,123.21 L386.9,123.13 L387.46,123.04 L388.03,122.96 L388.6,122.87 L389.16,122.78 L389.73,122.68 L390.29,122.58 L390.86,122.46 L391.43,122.33 L391.99,122.18 L392.56,121.96 L393.13,121.65 L393.69,121.27 L394.26,120.86 L394.82,120.44 L395.39,120.05 L395.96,119.71 L396.52,119.45 L397.09,119.31 L397.65,119.29 L398.22,119.31 L398.79,119.34 L399.35,119.39 L399.92,119.45 L400.48,119.52 L401.05,119.6 L401.62,119.67 L402.18,119.75 L402.75,119.82 L403.32,119.88 L403.88,119.94 L404.45,119.98 L405.01,120 L405.58,120.01 L406.15,119.97 L406.71,119.88 L407.28,119.73 L407.84,119.55 L408.41,119.33 L408.98,119.09 L409.54,118.82 L410.11,118.55 L410.67,118.27 L411.24,117.99 L411.81,117.73 L412.37,117.48 L412.94,117.25 L413.51,117.06 L414.07,116.91 L414.64,116.8 L415.2,116.75 L415.77,116.75 L416.34,116.77 L416.9,116.81 L417.47,116.87 L418.03,116.93 L418.6,117 L419.17,117.08 L419.73,117.16 L420.3,117.23 L420.86,117.3 L421.43,117.37 L422,117.43 L422.56,117.51 L423.13,117.58 L423.7,117.66 L424.26,117.73 L424.83,117.8 L425.39,117.86 L425.96,117.91 L426.53,117.94 L427.09,117.95 L427.66,117.94 L428.22,117.89 L428.79,117.81 L429.36,117.7 L429.92,117.56 L430.49,117.41 L431.05,117.23 L431.62,117.03 L432.19,116.83 L432.75,116.61 L433.32,116.38 L433.89,116.15 L434.45,115.91 L435.02,115.63 L435.58,115.33 L436.15,114.99 L436.72,114.6 L437.28,114.17 L437.85,113.68 L438.41,113.14 L438.98,112.53 L439.55,111.86 L440.11,111.11 L440.68,110.29 L441.24,109.32 L441.81,107.65 L442.38,105.28 L442.94,102.4 L443.51,99.17 L444.08,95.79 L444.64,92.43 L445.21,89.25 L445.77,85.98 L446.34,82.49 L446.91,78.89 L447.47,75.26 L448.04,71.71 L448.6,68.34 L449.17,65.22 L449.74,62.21 L450.3,59.24 L450.87,56.33 L451.43,53.52 L452,50.83 L452.57,48.28 L453.13,45.91 L453.7,43.73 L454.27,41.65 L454.83,39.5 L455.4,37.32 L455.96,35.14 L456.53,32.99 L457.1,30.91 L457.66,28.93 L458.23,27.08 L458.79,25.39 L459.36,23.91 L459.93,22.65 L460.49,21.66 L461.06,20.97 L461.62,20.6 L462.19,20.6 L462.76,20.96 L463.32,21.66 L463.89,22.66 L464.46,23.91 L465.02,25.38 L465.59,27.02 L466.15,28.8 L466.72,30.68 L467.29,32.61 L467.85,34.57 L468.42,36.5 L468.98,38.37 L469.55,40.26 L470.12,42.33 L470.68,44.58 L471.25,46.96 L471.81,49.46 L472.38,52.05 L472.95,54.69 L473.51,57.37 L474.08,60.04 L474.65,62.69 L475.21,65.29 L475.78,67.8 L476.34,70.21 L476.91,72.54 L477.48,74.83 L478.04,77.1 L478.61,79.35 L479.17,81.6 L479.74,83.84 L480.31,86.1 L480.87,88.38 L481.44,90.71 L482,93.07 L482.57,95.42 L483.14,97.74 L483.7,99.99 L484.27,102.15 L484.84,104.19 L485.4,106.23 L485.97,108.27 L486.53,110.27 L487.1,112.17 L487.67,113.93 L488.23,115.5 L488.8,116.84 L489.36,117.99 L489.93,119.14 L490.5,120.24 L491.06,121.24 L491.63,122.07 L492.19,122.68 L492.76,123 L493.33,123.05 L493.89,123.07 L494.46,123.08 L495.03,123.1 L495.59,123.12 L496.16,123.13 L496.72,123.15 L497.29,123.16 L497.86,123.17 L498.42,123.18 L498.99,123.19 L499.55,123.2 L500.12,123.21 L500.69,123.22 L501.25,123.23 L501.82,123.24 L502.38,123.25 L502.95,123.26 L503.52,123.26 L504.08,123.27 L504.65,123.27 L505.22,123.28 L505.78,123.28 L506.35,123.29 L506.91,123.29 L507.48,123.3 L508.05,123.3 L508.61,123.31 L509.18,123.31 L509.74,123.31 L510.31,123.32 L510.88,123.32 L511.44,123.32 L512.01,123.33 L512.57,123.33 L513.14,123.33 L513.71,123.34 L514.27,123.34 L514.84,123.35 L515.41,123.35 L515.97,123.35 L516.54,123.36 L517.1,123.36 L517.67,123.37 L518.24,123.37 L518.8,123.38 L519.37,123.39 L519.93,123.39 L520.5,123.4" fill="none" stroke="#111111" stroke-width="1.3" stroke-linejoin="round" stroke-linecap="round" />
<path d="M385.2,123.4 L385.77,123.4 L386.33,123.4 L386.9,123.4 L387.46,123.4 L388.03,123.4 L388.6,123.4 L389.16,123.4 L389.73,123.4 L390.29,123.4 L390.86,123.4 L391.43,123.4 L391.99,123.4 L392.56,123.4 L393.13,123.4 L393.69,123.4 L394.26,123.4 L394.82,123.4 L395.39,123.4 L395.96,123.4 L396.52,123.4 L397.09,123.4 L397.65,123.4 L398.22,123.4 L398.79,123.4 L399.35,123.4 L399.92,123.4 L400.48,123.4 L401.05,123.4 L401.62,123.4 L402.18,123.4 L402.75,123.4 L403.32,123.4 L403.88,123.4 L404.45,123.4 L405.01,123.4 L405.58,123.4 L406.15,123.4 L406.71,123.4 L407.28,123.4 L407.84,123.4 L408.41,123.4 L408.98,123.4 L409.54,123.4 L410.11,123.4 L410.67,123.4 L411.24,123.4 L411.81,123.4 L412.37,123.4 L412.94,123.4 L413.51,123.4 L414.07,123.4 L414.64,123.4 L415.2,123.4 L415.77,123.4 L416.34,123.4 L416.9,123.4 L417.47,123.4 L418.03,123.4 L418.6,123.4 L419.17,123.4 L419.73,123.4 L420.3,123.4 L420.86,123.4 L421.43,123.4 L422,123.4 L422.56,123.4 L423.13,123.4 L423.7,123.3 L424.26,122.83 L424.83,122.05 L425.39,121.04 L425.96,119.88 L426.53,118.66 L427.09,117.45 L427.66,116.15 L428.22,114.57 L428.79,112.81 L429.36,110.96 L429.92,109.13 L430.49,107.4 L431.05,105.88 L431.62,104.52 L432.19,103.19 L432.75,101.88 L433.32,100.6 L433.89,99.36 L434.45,98.14 L435.02,96.96 L435.58,95.81 L436.15,94.69 L436.72,93.61 L437.28,92.56 L437.85,91.55 L438.41,90.58 L438.98,89.65 L439.55,88.76 L440.11,87.91 L440.68,87.13 L441.24,86.44 L441.81,85.79 L442.38,85.18 L442.94,84.58 L443.51,83.96 L444.08,83.29 L444.64,82.55 L445.21,81.72 L445.77,80.8 L446.34,79.81 L446.91,78.75 L447.47,77.63 L448.04,76.46 L448.6,75.23 L449.17,73.96 L449.74,72.64 L450.3,71.29 L450.87,69.92 L451.43,68.51 L452,67.09 L452.57,65.66 L453.13,64.21 L453.7,62.76 L454.27,61.3 L454.83,59.69 L455.4,57.96 L455.96,56.12 L456.53,54.22 L457.1,52.28 L457.66,50.34 L458.23,48.42 L458.79,46.55 L459.36,44.77 L459.93,43.1 L460.49,41.59 L461.06,40.25 L461.62,39.12 L462.19,38.18 L462.76,37.27 L463.32,36.36 L463.89,35.48 L464.46,34.64 L465.02,33.87 L465.59,33.17 L466.15,32.57 L466.72,32.08 L467.29,31.72 L467.85,31.5 L468.42,31.44 L468.98,31.66 L469.55,32.16 L470.12,32.91 L470.68,33.88 L471.25,35.03 L471.81,36.34 L472.38,37.76 L472.95,39.27 L473.51,40.82 L474.08,42.39 L474.65,43.95 L475.21,45.77 L475.78,47.9 L476.34,50.29 L476.91,52.87 L477.48,55.59 L478.04,58.4 L478.61,61.22 L479.17,64.01 L479.74,66.7 L480.31,69.23 L480.87,71.6 L481.44,73.92 L482,76.21 L482.57,78.48 L483.14,80.72 L483.7,82.94 L484.27,85.14 L484.84,87.33 L485.4,89.51 L485.97,91.7 L486.53,93.95 L487.1,96.23 L487.67,98.51 L488.23,100.74 L488.8,102.9 L489.36,104.95 L489.93,106.86 L490.5,108.59 L491.06,110.24 L491.63,111.96 L492.19,113.69 L492.76,115.38 L493.33,117 L493.89,118.48 L494.46,119.78 L495.03,120.85 L495.59,121.64 L496.16,122.1 L496.72,122.22 L497.29,122.29 L497.86,122.35 L498.42,122.41 L498.99,122.46 L499.55,122.51 L500.12,122.56 L500.69,122.61 L501.25,122.65 L501.82,122.69 L502.38,122.73 L502.95,122.76 L503.52,122.8 L504.08,122.83 L504.65,122.86 L505.22,122.88 L505.78,122.91 L506.35,122.93 L506.91,122.96 L507.48,122.98 L508.05,123 L508.61,123.01 L509.18,123.03 L509.74,123.05 L510.31,123.07 L510.88,123.08 L511.44,123.1 L512.01,123.11 L512.57,123.13 L513.14,123.14 L513.71,123.16 L514.27,123.17 L514.84,123.19 L515.41,123.2 L515.97,123.22 L516.54,123.24 L517.1,123.26 L517.67,123.28 L518.24,123.3 L518.8,123.32 L519.37,123.35 L519.93,123.37 L520.5,123.4" fill="none" stroke="#2222ee" stroke-width="1.3" stroke-linejoin="round" stroke-linecap="round" />
<line x1="389.3" y1="20.2" x2="403" y2="20.2" stroke="#111111" stroke-width="1.4" />
<text x="404" y="22.6" font-family="Liberation Sans" font-size="6.6" fill="#222" text-anchor="start" font-weight="normal" font-style="normal" >0 pg/mL</text>
<line x1="389.3" y1="27.85" x2="403" y2="27.85" stroke="#ee1111" stroke-width="1.4" />
<text x="404" y="30.25" font-family="Liberation Sans" font-size="6.6" fill="#222" text-anchor="start" font-weight="normal" font-style="normal" >4 pg/mL</text>
<line x1="389.3" y1="35.5" x2="403" y2="35.5" stroke="#ff8c1a" stroke-width="1.4" />
<text x="404" y="37.9" font-family="Liberation Sans" font-size="6.6" fill="#222" text-anchor="start" font-weight="normal" font-style="normal" >10 pg/mL</text>
<line x1="389.3" y1="43.15" x2="403" y2="43.15" stroke="#128a12" stroke-width="1.4" />
<text x="404" y="45.55" font-family="Liberation Sans" font-size="6.6" fill="#222" text-anchor="start" font-weight="normal" font-style="normal" >12 pg/mL</text>
<line x1="389.3" y1="50.8" x2="403" y2="50.8" stroke="#22eeee" stroke-width="1.4" />
<text x="404" y="53.2" font-family="Liberation Sans" font-size="6.6" fill="#222" text-anchor="start" font-weight="normal" font-style="normal" >20 pg/mL</text>
<line x1="389.3" y1="58.45" x2="403" y2="58.45" stroke="#2222ee" stroke-width="1.4" />
<text x="404" y="60.85" font-family="Liberation Sans" font-size="6.6" fill="#222" text-anchor="start" font-weight="normal" font-style="normal" >50 pg/mL</text>
<path d="M206,219 L349,219 L343,225.5 L209,225.5 Z" fill="#d8ccd2" filter="url(#blur2)" opacity="0.8"/>
<path d="M198.2,187.0 L210.8,187.0 L218.4,222.8 L207.6,222.8 Z" fill="#f2eff1" stroke="#cdc4c9" stroke-width="0.6"/>
<path d="M200.3,189.0 L208.7,189.0 L216.8,222.20000000000002 L209.2,222.20000000000002 Z" fill="#e6dee2"/>
<linearGradient id="lq0" x1="0" y1="0" x2="0" y2="1"><stop offset="0" stop-color="#c85480" stop-opacity="0.75"/><stop offset="0.3" stop-color="#c85480" stop-opacity="0.92"/><stop offset="1" stop-color="#c85480"/></linearGradient>
<path d="M204.34,201.5 L211.34,201.5 L216.2,222.0 L209.6,222.0 Z" fill="url(#lq0)"/>
<path d="M206.34,202.5 L207.54,202.5 L211.6,221.3 L210.4,221.3 Z" fill="#ffffff" opacity="0.35"/>
<rect x="198.4" y="187.5" width="12.2" height="3" fill="#e2aab8"/>
<rect x="197.4" y="178.6" width="14.2" height="9.8" rx="2.4" fill="url(#cap)"/>
<rect x="200" y="179.6" width="9" height="1.6" rx="0.8" fill="#d0daf2" opacity="0.35"/>
<text x="212.8" y="232" font-family="Liberation Serif" font-size="7.0" fill="#111" text-anchor="middle" font-weight="normal" font-style="normal" stroke="#111" stroke-width="0.18">blank</text>
<path d="M212.05,187.0 L224.65,187.0 L230.8,222.8 L220,222.8 Z" fill="#f2eff1" stroke="#cdc4c9" stroke-width="0.6"/>
<path d="M214.15,189.0 L222.55,189.0 L229.2,222.20000000000002 L221.6,222.20000000000002 Z" fill="#e6dee2"/>
<linearGradient id="lq1" x1="0" y1="0" x2="0" y2="1"><stop offset="0" stop-color="#c4507c" stop-opacity="0.75"/><stop offset="0.3" stop-color="#c4507c" stop-opacity="0.92"/><stop offset="1" stop-color="#c4507c"/></linearGradient>
<path d="M217.61,201.5 L224.61,201.5 L228.6,222.0 L222,222.0 Z" fill="url(#lq1)"/>
<path d="M219.61,202.5 L220.81,202.5 L224,221.3 L222.8,221.3 Z" fill="#ffffff" opacity="0.35"/>
<rect x="212.25" y="187.5" width="12.2" height="3" fill="#e2aab8"/>
<rect x="211.25" y="178.6" width="14.2" height="9.8" rx="2.4" fill="url(#cap)"/>
<rect x="213.85" y="179.6" width="9" height="1.6" rx="0.8" fill="#d0daf2" opacity="0.35"/>
<text x="225.2" y="232" font-family="Liberation Serif" font-size="7.0" fill="#111" text-anchor="middle" font-weight="normal" font-style="normal" stroke="#111" stroke-width="0.18">1</text>
<path d="M225.9,187.0 L238.5,187.0 L243.2,222.8 L232.4,222.8 Z" fill="#f2eff1" stroke="#cdc4c9" stroke-width="0.6"/>
<path d="M228,189.0 L236.4,189.0 L241.6,222.20000000000002 L234,222.20000000000002 Z" fill="#e6dee2"/>
<linearGradient id="lq2" x1="0" y1="0" x2="0" y2="1"><stop offset="0" stop-color="#c45282" stop-opacity="0.75"/><stop offset="0.3" stop-color="#c45282" stop-opacity="0.92"/><stop offset="1" stop-color="#c45282"/></linearGradient>
<path d="M230.87,201.5 L237.87,201.5 L241,222.0 L234.4,222.0 Z" fill="url(#lq2)"/>
<path d="M232.87,202.5 L234.07,202.5 L236.4,221.3 L235.2,221.3 Z" fill="#ffffff" opacity="0.35"/>
<rect x="226.1" y="187.5" width="12.2" height="3" fill="#e2aab8"/>
<rect x="225.1" y="178.6" width="14.2" height="9.8" rx="2.4" fill="url(#cap)"/>
<rect x="227.7" y="179.6" width="9" height="1.6" rx="0.8" fill="#d0daf2" opacity="0.35"/>
<text x="237.4" y="232" font-family="Liberation Serif" font-size="7.0" fill="#111" text-anchor="middle" font-weight="normal" font-style="normal" stroke="#111" stroke-width="0.18">2</text>
<path d="M239.75,187.0 L252.35,187.0 L255.6,222.8 L244.8,222.8 Z" fill="#f2eff1" stroke="#cdc4c9" stroke-width="0.6"/>
<path d="M241.85,189.0 L250.25,189.0 L254,222.20000000000002 L246.4,222.20000000000002 Z" fill="#e6dee2"/>
<linearGradient id="lq3" x1="0" y1="0" x2="0" y2="1"><stop offset="0" stop-color="#b44a7c" stop-opacity="0.75"/><stop offset="0.3" stop-color="#b44a7c" stop-opacity="0.92"/><stop offset="1" stop-color="#b44a7c"/></linearGradient>
<path d="M244.13,201.5 L251.13,201.5 L253.4,222.0 L246.8,222.0 Z" fill="url(#lq3)"/>
<path d="M246.13,202.5 L247.33,202.5 L248.8,221.3 L247.6,221.3 Z" fill="#ffffff" opacity="0.35"/>
<rect x="239.95" y="187.5" width="12.2" height="3" fill="#e2aab8"/>
<rect x="238.95" y="178.6" width="14.2" height="9.8" rx="2.4" fill="url(#cap)"/>
<rect x="241.55" y="179.6" width="9" height="1.6" rx="0.8" fill="#d0daf2" opacity="0.35"/>
<text x="249.5" y="232" font-family="Liberation Serif" font-size="7.0" fill="#111" text-anchor="middle" font-weight="normal" font-style="normal" stroke="#111" stroke-width="0.18">4</text>
<path d="M253.6,187.0 L266.2,187.0 L268,222.8 L257.2,222.8 Z" fill="#f2eff1" stroke="#cdc4c9" stroke-width="0.6"/>
<path d="M255.7,189.0 L264.1,189.0 L266.4,222.20000000000002 L258.8,222.20000000000002 Z" fill="#e6dee2"/>
<linearGradient id="lq4" x1="0" y1="0" x2="0" y2="1"><stop offset="0" stop-color="#8a3c7c" stop-opacity="0.75"/><stop offset="0.3" stop-color="#8a3c7c" stop-opacity="0.92"/><stop offset="1" stop-color="#8a3c7c"/></linearGradient>
<path d="M257.39,201.5 L264.39,201.5 L265.8,222.0 L259.2,222.0 Z" fill="url(#lq4)"/>
<path d="M259.39,202.5 L260.59,202.5 L261.2,221.3 L260,221.3 Z" fill="#ffffff" opacity="0.35"/>
<rect x="253.8" y="187.5" width="12.2" height="3" fill="#e2aab8"/>
<rect x="252.8" y="178.6" width="14.2" height="9.8" rx="2.4" fill="url(#cap)"/>
<rect x="255.4" y="179.6" width="9" height="1.6" rx="0.8" fill="#d0daf2" opacity="0.35"/>
<text x="261.2" y="232" font-family="Liberation Serif" font-size="7.0" fill="#111" text-anchor="middle" font-weight="normal" font-style="normal" stroke="#111" stroke-width="0.18">6</text>
<path d="M267.45,187.0 L280.05,187.0 L280.4,222.8 L269.6,222.8 Z" fill="#f2eff1" stroke="#cdc4c9" stroke-width="0.6"/>
<path d="M269.55,189.0 L277.95,189.0 L278.8,222.20000000000002 L271.2,222.20000000000002 Z" fill="#e6dee2"/>
<linearGradient id="lq5" x1="0" y1="0" x2="0" y2="1"><stop offset="0" stop-color="#7a3682" stop-opacity="0.75"/><stop offset="0.3" stop-color="#7a3682" stop-opacity="0.92"/><stop offset="1" stop-color="#7a3682"/></linearGradient>
<path d="M270.66,201.5 L277.66,201.5 L278.2,222.0 L271.6,222.0 Z" fill="url(#lq5)"/>
<path d="M272.66,202.5 L273.86,202.5 L273.6,221.3 L272.4,221.3 Z" fill="#ffffff" opacity="0.35"/>
<rect x="267.65" y="187.5" width="12.2" height="3" fill="#e2aab8"/>
<rect x="266.65" y="178.6" width="14.2" height="9.8" rx="2.4" fill="url(#cap)"/>
<rect x="269.25" y="179.6" width="9" height="1.6" rx="0.8" fill="#d0daf2" opacity="0.35"/>
<text x="273.4" y="232" font-family="Liberation Serif" font-size="7.0" fill="#111" text-anchor="middle" font-weight="normal" font-style="normal" stroke="#111" stroke-width="0.18">8</text>
<path d="M281.3,187.0 L293.9,187.0 L292.8,222.8 L282,222.8 Z" fill="#f2eff1" stroke="#cdc4c9" stroke-width="0.6"/>
<path d="M283.4,189.0 L291.8,189.0 L291.2,222.20000000000002 L283.6,222.20000000000002 Z" fill="#e6dee2"/>
<linearGradient id="lq6" x1="0" y1="0" x2="0" y2="1"><stop offset="0" stop-color="#803a84" stop-opacity="0.75"/><stop offset="0.3" stop-color="#803a84" stop-opacity="0.92"/><stop offset="1" stop-color="#803a84"/></linearGradient>
<path d="M283.92,201.5 L290.92,201.5 L290.6,222.0 L284,222.0 Z" fill="url(#lq6)"/>
<path d="M285.92,202.5 L287.12,202.5 L286,221.3 L284.8,221.3 Z" fill="#ffffff" opacity="0.35"/>
<rect x="281.5" y="187.5" width="12.2" height="3" fill="#e2aab8"/>
<rect x="280.5" y="178.6" width="14.2" height="9.8" rx="2.4" fill="url(#cap)"/>
<rect x="283.1" y="179.6" width="9" height="1.6" rx="0.8" fill="#d0daf2" opacity="0.35"/>
<text x="285.8" y="232" font-family="Liberation Serif" font-size="7.0" fill="#111" text-anchor="middle" font-weight="normal" font-style="normal" stroke="#111" stroke-width="0.18">10</text>
<path d="M295.15,187.0 L307.75,187.0 L305.2,222.8 L294.4,222.8 Z" fill="#f2eff1" stroke="#cdc4c9" stroke-width="0.6"/>
<path d="M297.25,189.0 L305.65,189.0 L303.6,222.20000000000002 L296,222.20000000000002 Z" fill="#e6dee2"/>
<linearGradient id="lq7" x1="0" y1="0" x2="0" y2="1"><stop offset="0" stop-color="#7c3a7e" stop-opacity="0.75"/><stop offset="0.3" stop-color="#7c3a7e" stop-opacity="0.92"/><stop offset="1" stop-color="#7c3a7e"/></linearGradient>
<path d="M297.18,201.5 L304.18,201.5 L303,222.0 L296.4,222.0 Z" fill="url(#lq7)"/>
<path d="M299.18,202.5 L300.38,202.5 L298.4,221.3 L297.2,221.3 Z" fill="#ffffff" opacity="0.35"/>
<rect x="295.35" y="187.5" width="12.2" height="3" fill="#e2aab8"/>
<rect x="294.35" y="178.6" width="14.2" height="9.8" rx="2.4" fill="url(#cap)"/>
<rect x="296.95" y="179.6" width="9" height="1.6" rx="0.8" fill="#d0daf2" opacity="0.35"/>
<text x="298.9" y="232" font-family="Liberation Serif" font-size="7.0" fill="#111" text-anchor="middle" font-weight="normal" font-style="normal" stroke="#111" stroke-width="0.18">12</text>
<path d="M309,187.0 L321.6,187.0 L317.6,222.8 L306.8,222.8 Z" fill="#f2eff1" stroke="#cdc4c9" stroke-width="0.6"/>
<path d="M311.1,189.0 L319.5,189.0 L316,222.20000000000002 L308.4,222.20000000000002 Z" fill="#e6dee2"/>
<linearGradient id="lq8" x1="0" y1="0" x2="0" y2="1"><stop offset="0" stop-color="#a44474" stop-opacity="0.75"/><stop offset="0.3" stop-color="#a44474" stop-opacity="0.92"/><stop offset="1" stop-color="#a44474"/></linearGradient>
<path d="M310.44,201.5 L317.44,201.5 L315.4,222.0 L308.8,222.0 Z" fill="url(#lq8)"/>
<path d="M312.44,202.5 L313.64,202.5 L310.8,221.3 L309.6,221.3 Z" fill="#ffffff" opacity="0.35"/>
<rect x="309.2" y="187.5" width="12.2" height="3" fill="#e2aab8"/>
<rect x="308.2" y="178.6" width="14.2" height="9.8" rx="2.4" fill="url(#cap)"/>
<rect x="310.8" y="179.6" width="9" height="1.6" rx="0.8" fill="#d0daf2" opacity="0.35"/>
<text x="311" y="232" font-family="Liberation Serif" font-size="7.0" fill="#111" text-anchor="middle" font-weight="normal" font-style="normal" stroke="#111" stroke-width="0.18">20</text>
<path d="M322.85,187.0 L335.45,187.0 L330,222.8 L319.2,222.8 Z" fill="#f2eff1" stroke="#cdc4c9" stroke-width="0.6"/>
<path d="M324.95,189.0 L333.35,189.0 L328.4,222.20000000000002 L320.8,222.20000000000002 Z" fill="#e6dee2"/>
<linearGradient id="lq9" x1="0" y1="0" x2="0" y2="1"><stop offset="0" stop-color="#b84c78" stop-opacity="0.75"/><stop offset="0.3" stop-color="#b84c78" stop-opacity="0.92"/><stop offset="1" stop-color="#b84c78"/></linearGradient>
<path d="M323.71,201.5 L330.71,201.5 L327.8,222.0 L321.2,222.0 Z" fill="url(#lq9)"/>
<path d="M325.71,202.5 L326.91,202.5 L323.2,221.3 L322,221.3 Z" fill="#ffffff" opacity="0.35"/>
<rect x="323.05" y="187.5" width="12.2" height="3" fill="#e2aab8"/>
<rect x="322.05" y="178.6" width="14.2" height="9.8" rx="2.4" fill="url(#cap)"/>
<rect x="324.65" y="179.6" width="9" height="1.6" rx="0.8" fill="#d0daf2" opacity="0.35"/>
<text x="323" y="232" font-family="Liberation Serif" font-size="7.0" fill="#111" text-anchor="middle" font-weight="normal" font-style="normal" stroke="#111" stroke-width="0.18">50</text>
<path d="M336.7,187.0 L349.3,187.0 L342.4,222.8 L331.6,222.8 Z" fill="#f2eff1" stroke="#cdc4c9" stroke-width="0.6"/>
<path d="M338.8,189.0 L347.2,189.0 L340.8,222.20000000000002 L333.2,222.20000000000002 Z" fill="#e6dee2"/>
<linearGradient id="lq10" x1="0" y1="0" x2="0" y2="1"><stop offset="0" stop-color="#c45480" stop-opacity="0.75"/><stop offset="0.3" stop-color="#c45480" stop-opacity="0.92"/><stop offset="1" stop-color="#c45480"/></linearGradient>
<path d="M336.97,201.5 L343.97,201.5 L340.2,222.0 L333.6,222.0 Z" fill="url(#lq10)"/>
<path d="M338.97,202.5 L340.17,202.5 L335.6,221.3 L334.4,221.3 Z" fill="#ffffff" opacity="0.35"/>
<rect x="336.9" y="187.5" width="12.2" height="3" fill="#e2aab8"/>
<rect x="335.9" y="178.6" width="14.2" height="9.8" rx="2.4" fill="url(#cap)"/>
<rect x="338.5" y="179.6" width="9" height="1.6" rx="0.8" fill="#d0daf2" opacity="0.35"/>
<text x="337.2" y="232" font-family="Liberation Serif" font-size="7.0" fill="#111" text-anchor="middle" font-weight="normal" font-style="normal" stroke="#111" stroke-width="0.18">100</text>
<text x="273.3" y="240.2" font-family="Liberation Serif" font-size="7.0" fill="#111" text-anchor="middle" font-weight="normal" font-style="normal" stroke="#111" stroke-width="0.18">E2 (pg/mL)</text>
<path d="M209,222.8 L209.84,222.8 L210.67,222.8 L211.51,222.8 L212.35,222.8 L213.18,222.8 L214.02,222.8 L214.86,222.8 L215.69,222.8 L216.53,222.8 L217.36,222.79 L218.2,222.79 L219.04,222.79 L219.87,222.79 L220.71,222.79 L221.55,222.78 L222.38,222.78 L223.22,222.77 L224.06,222.76 L224.89,222.76 L225.73,222.75 L226.57,222.73 L227.4,222.72 L228.24,222.7 L229.08,222.68 L229.91,222.66 L230.75,222.63 L231.58,222.6 L232.42,222.56 L233.26,222.51 L234.09,222.45 L234.93,222.39 L235.77,222.32 L236.6,222.23 L237.44,222.13 L238.28,222.02 L239.11,221.89 L239.95,221.74 L240.79,221.58 L241.62,221.39 L242.46,221.18 L243.3,220.94 L244.13,220.68 L244.97,220.39 L245.81,220.07 L246.64,219.71 L247.48,219.32 L248.31,218.89 L249.15,218.42 L249.99,217.92 L250.82,217.38 L251.66,216.79 L252.5,216.16 L253.33,215.49 L254.17,214.79 L255.01,214.04 L255.84,213.25 L256.68,212.43 L257.52,211.58 L258.35,210.69 L259.19,209.78 L260.03,208.85 L260.86,207.9 L261.7,206.93 L262.53,205.96 L263.37,205 L264.21,204.03 L265.04,203.09 L265.88,202.16 L266.72,201.26 L267.55,200.4 L268.39,199.58 L269.23,198.81 L270.06,198.1 L270.9,197.45 L271.74,196.87 L272.57,196.36 L273.41,195.94 L274.25,195.6 L275.08,195.34 L275.92,195.18 L276.75,195.1 L277.59,195.11 L278.43,195.15 L279.26,195.22 L280.1,195.32 L280.94,195.45 L281.77,195.61 L282.61,195.8 L283.45,196.02 L284.28,196.27 L285.12,196.55 L285.96,196.86 L286.79,197.19 L287.63,197.54 L288.47,197.92 L289.3,198.32 L290.14,198.74 L290.97,199.18 L291.81,199.64 L292.65,200.12 L293.48,200.61 L294.32,201.12 L295.16,201.64 L295.99,202.17 L296.83,202.71 L297.67,203.25 L298.5,203.81 L299.34,204.37 L300.18,204.93 L301.01,205.5 L301.85,206.07 L302.69,206.63 L303.52,207.2 L304.36,207.76 L305.19,208.32 L306.03,208.88 L306.87,209.43 L307.7,209.97 L308.54,210.5 L309.38,211.03 L310.21,211.54 L311.05,212.05 L311.89,212.54 L312.72,213.03 L313.56,213.5 L314.4,213.96 L315.23,214.4 L316.07,214.83 L316.91,215.25 L317.74,215.66 L318.58,216.05 L319.42,216.42 L320.25,216.78 L321.09,217.13 L321.92,217.47 L322.76,217.79 L323.6,218.09 L324.43,218.39 L325.27,218.67 L326.11,218.93 L326.94,219.18 L327.78,219.42 L328.62,219.65 L329.45,219.87 L330.29,220.07 L331.13,220.27 L331.96,220.45 L332.8,220.62 L333.64,220.78 L334.47,220.93 L335.31,221.07 L336.14,221.21 L336.98,221.33 L337.82,221.45 L338.65,221.56 L339.49,221.66 L340.33,221.75 L341.16,221.84 L342,221.92" fill="none" stroke="#111" stroke-width="1.9" stroke-linejoin="round" stroke-linecap="round" stroke-dasharray="4.6,2.6" stroke-linecap="butt"/>
<rect x="193" y="250" width="38.7" height="42" fill="#d4d4d4" stroke="none" stroke-width="1" />
<rect x="231.7" y="250" width="40.8" height="42" fill="#d8d8d8" stroke="none" stroke-width="1" />
<rect x="272.5" y="250" width="40.4" height="42" fill="#bdbdbd" stroke="none" stroke-width="1" />
<rect x="312.9" y="250" width="40.4" height="42" fill="#cfcfcf" stroke="none" stroke-width="1" />
<rect x="322" y="276" width="30" height="15" fill="#dedede" filter="url(#blur3)" opacity="0.8"/>
<rect x="196" y="251" width="30" height="10" fill="#dddddd" filter="url(#blur3)" opacity="0.6"/>
<text x="196" y="257.2" font-family="Liberation Serif" font-size="6.0" fill="#000" text-anchor="start" font-weight="normal" font-style="normal" stroke="#000" stroke-width="0.12">0 pg/mL</text>
<text x="194.4" y="285.4" font-family="Liberation Serif" font-size="6.0" fill="#000" text-anchor="start" font-weight="normal" font-style="normal" stroke="#000" stroke-width="0.12">20 nm</text>
<line x1="196.7" y1="289.2" x2="206" y2="289.2" stroke="#000" stroke-width="1.3" />
<line x1="196.7" y1="287.3" x2="196.7" y2="291.1" stroke="#000" stroke-width="1.2" />
<line x1="206" y1="287.3" x2="206" y2="291.1" stroke="#000" stroke-width="1.2" />
<text x="234.7" y="257.2" font-family="Liberation Serif" font-size="6.0" fill="#000" text-anchor="start" font-weight="normal" font-style="normal" stroke="#000" stroke-width="0.12">4 pg/mL</text>
<text x="233.1" y="285.4" font-family="Liberation Serif" font-size="6.0" fill="#000" text-anchor="start" font-weight="normal" font-style="normal" stroke="#000" stroke-width="0.12">20 nm</text>
<line x1="237" y1="289.2" x2="244.7" y2="289.2" stroke="#000" stroke-width="1.3" />
<line x1="237" y1="287.3" x2="237" y2="291.1" stroke="#000" stroke-width="1.2" />
<line x1="244.7" y1="287.3" x2="244.7" y2="291.1" stroke="#000" stroke-width="1.2" />
<text x="275.5" y="257.2" font-family="Liberation Serif" font-size="6.0" fill="#000" text-anchor="start" font-weight="normal" font-style="normal" stroke="#000" stroke-width="0.12">10 pg/mL</text>
<text x="273.9" y="285.4" font-family="Liberation Serif" font-size="6.0" fill="#000" text-anchor="start" font-weight="normal" font-style="normal" stroke="#000" stroke-width="0.12">20 nm</text>
<line x1="281" y1="289.2" x2="286" y2="289.2" stroke="#000" stroke-width="1.3" />
<line x1="281" y1="287.3" x2="281" y2="291.1" stroke="#000" stroke-width="1.2" />
<line x1="286" y1="287.3" x2="286" y2="291.1" stroke="#000" stroke-width="1.2" />
<text x="315.9" y="257.2" font-family="Liberation Serif" font-size="6.0" fill="#000" text-anchor="start" font-weight="normal" font-style="normal" stroke="#000" stroke-width="0.12">12 pg/mL</text>
<text x="314.3" y="285.4" font-family="Liberation Serif" font-size="6.0" fill="#000" text-anchor="start" font-weight="normal" font-style="normal" stroke="#000" stroke-width="0.12">20 nm</text>
<line x1="320.5" y1="289.2" x2="325.5" y2="289.2" stroke="#000" stroke-width="1.3" />
<line x1="320.5" y1="287.3" x2="320.5" y2="291.1" stroke="#000" stroke-width="1.2" />
<line x1="325.5" y1="287.3" x2="325.5" y2="291.1" stroke="#000" stroke-width="1.2" />
<ellipse cx="212.7" cy="270.2" rx="8.1" ry="7.7" fill="url(#tp)" transform="rotate(0 212.7 270.2)" filter="url(#blurT)"/>
<ellipse cx="244.7" cy="271.9" rx="6.1" ry="6.9" fill="url(#tp)" transform="rotate(0 244.7 271.9)" filter="url(#blurT)"/>
<ellipse cx="256.5" cy="273.9" rx="6.2" ry="6.9" fill="url(#tp)" transform="rotate(0 256.5 273.9)" filter="url(#blurT)"/>
<ellipse cx="281" cy="266" rx="4.7" ry="7.3" fill="url(#tp)" transform="rotate(-20 281 266)" filter="url(#blurT)"/>
<ellipse cx="297" cy="262.7" rx="5" ry="5.5" fill="url(#tp)" transform="rotate(0 297 262.7)" filter="url(#blurT)"/>
<ellipse cx="287.7" cy="272.8" rx="3.8" ry="4.3" fill="url(#tp)" transform="rotate(0 287.7 272.8)" filter="url(#blurT)"/>
<ellipse cx="293.5" cy="268.5" rx="3.5" ry="3.5" fill="url(#tp)" transform="rotate(0 293.5 268.5)" filter="url(#blurT)"/>
<ellipse cx="300.5" cy="272.5" rx="4" ry="4.3" fill="url(#tp)" transform="rotate(0 300.5 272.5)" filter="url(#blurT)"/>
<ellipse cx="293.5" cy="277.8" rx="4.1" ry="3.9" fill="url(#tp)" transform="rotate(0 293.5 277.8)" filter="url(#blurT)"/>
<ellipse cx="297.8" cy="283.7" rx="3.9" ry="3.7" fill="url(#tp)" transform="rotate(0 297.8 283.7)" filter="url(#blurT)"/>
<ellipse cx="304" cy="280.5" rx="3.5" ry="3.5" fill="url(#tp)" transform="rotate(0 304 280.5)" filter="url(#blurT)"/>
<ellipse cx="321.3" cy="277" rx="4.6" ry="4.6" fill="url(#tp)" transform="rotate(0 321.3 277)" filter="url(#blurT)"/>
<ellipse cx="329" cy="269.4" rx="3.8" ry="6.1" fill="url(#tp)" transform="rotate(20 329 269.4)" filter="url(#blurT)"/>
<ellipse cx="334.8" cy="273.2" rx="4.5" ry="4.8" fill="url(#tp)" transform="rotate(0 334.8 273.2)" filter="url(#blurT)"/>
<ellipse cx="338.3" cy="264.5" rx="4.3" ry="5.1" fill="url(#tp)" transform="rotate(10 338.3 264.5)" filter="url(#blurT)"/>
<ellipse cx="346.5" cy="261" rx="4.5" ry="4.5" fill="url(#tp)" transform="rotate(0 346.5 261)" filter="url(#blurT)"/>
<rect x="383" y="163.8" width="150.8" height="122.2" fill="none" stroke="#444" stroke-width="0.9" />
<rect x="396" y="161.8" width="5" height="4" fill="#ffffff" stroke="none" stroke-width="1" />
<line x1="395.5" y1="166" x2="397.7" y2="161.6" stroke="#444" stroke-width="0.7" />
<line x1="398.1" y1="166" x2="400.3" y2="161.6" stroke="#444" stroke-width="0.7" />
<rect x="396" y="284" width="5" height="4" fill="#ffffff" stroke="none" stroke-width="1" />
<line x1="395.5" y1="288.2" x2="397.7" y2="283.8" stroke="#444" stroke-width="0.7" />
<line x1="398.1" y1="288.2" x2="400.3" y2="283.8" stroke="#444" stroke-width="0.7" />
<line x1="380.5" y1="276.4" x2="383" y2="276.4" stroke="#444" stroke-width="0.7" />
<text x="379.5" y="279.4" font-family="Liberation Sans" font-size="8.6" fill="#222" text-anchor="end" font-weight="normal" font-style="normal" >0</text>
<line x1="380.5" y1="257.7" x2="383" y2="257.7" stroke="#444" stroke-width="0.7" />
<text x="379.5" y="260.7" font-family="Liberation Sans" font-size="8.6" fill="#222" text-anchor="end" font-weight="normal" font-style="normal" >5</text>
<line x1="380.5" y1="239" x2="383" y2="239" stroke="#444" stroke-width="0.7" />
<text x="379.5" y="242" font-family="Liberation Sans" font-size="8.6" fill="#222" text-anchor="end" font-weight="normal" font-style="normal" >10</text>
<line x1="380.5" y1="220.3" x2="383" y2="220.3" stroke="#444" stroke-width="0.7" />
<text x="379.5" y="223.3" font-family="Liberation Sans" font-size="8.6" fill="#222" text-anchor="end" font-weight="normal" font-style="normal" >15</text>
<line x1="380.5" y1="201.6" x2="383" y2="201.6" stroke="#444" stroke-width="0.7" />
<text x="379.5" y="204.6" font-family="Liberation Sans" font-size="8.6" fill="#222" text-anchor="end" font-weight="normal" font-style="normal" >20</text>
<line x1="380.5" y1="182.9" x2="383" y2="182.9" stroke="#444" stroke-width="0.7" />
<text x="379.5" y="185.9" font-family="Liberation Sans" font-size="8.6" fill="#222" text-anchor="end" font-weight="normal" font-style="normal" >25</text>
<line x1="380.5" y1="164.2" x2="383" y2="164.2" stroke="#444" stroke-width="0.7" />
<text x="379.5" y="167.2" font-family="Liberation Sans" font-size="8.6" fill="#222" text-anchor="end" font-weight="normal" font-style="normal" >30</text>
<line x1="381.8" y1="283.88" x2="383" y2="283.88" stroke="#444" stroke-width="0.5" />
<line x1="381.8" y1="280.14" x2="383" y2="280.14" stroke="#444" stroke-width="0.5" />
<line x1="381.8" y1="272.66" x2="383" y2="272.66" stroke="#444" stroke-width="0.5" />
<line x1="381.8" y1="268.92" x2="383" y2="268.92" stroke="#444" stroke-width="0.5" />
<line x1="381.8" y1="265.18" x2="383" y2="265.18" stroke="#444" stroke-width="0.5" />
<line x1="381.8" y1="261.44" x2="383" y2="261.44" stroke="#444" stroke-width="0.5" />
<line x1="381.8" y1="253.96" x2="383" y2="253.96" stroke="#444" stroke-width="0.5" />
<line x1="381.8" y1="250.22" x2="383" y2="250.22" stroke="#444" stroke-width="0.5" />
<line x1="381.8" y1="246.48" x2="383" y2="246.48" stroke="#444" stroke-width="0.5" />
<line x1="381.8" y1="242.74" x2="383" y2="242.74" stroke="#444" stroke-width="0.5" />
<line x1="381.8" y1="235.26" x2="383" y2="235.26" stroke="#444" stroke-width="0.5" />
<line x1="381.8" y1="231.52" x2="383" y2="231.52" stroke="#444" stroke-width="0.5" />
<line x1="381.8" y1="227.78" x2="383" y2="227.78" stroke="#444" stroke-width="0.5" />
<line x1="381.8" y1="224.04" x2="383" y2="224.04" stroke="#444" stroke-width="0.5" />
<line x1="381.8" y1="216.56" x2="383" y2="216.56" stroke="#444" stroke-width="0.5" />
<line x1="381.8" y1="212.82" x2="383" y2="212.82" stroke="#444" stroke-width="0.5" />
<line x1="381.8" y1="209.08" x2="383" y2="209.08" stroke="#444" stroke-width="0.5" />
<line x1="381.8" y1="205.34" x2="383" y2="205.34" stroke="#444" stroke-width="0.5" />
<line x1="381.8" y1="197.86" x2="383" y2="197.86" stroke="#444" stroke-width="0.5" />
<line x1="381.8" y1="194.12" x2="383" y2="194.12" stroke="#444" stroke-width="0.5" />
<line x1="381.8" y1="190.38" x2="383" y2="190.38" stroke="#444" stroke-width="0.5" />
<line x1="381.8" y1="186.64" x2="383" y2="186.64" stroke="#444" stroke-width="0.5" />
<line x1="381.8" y1="179.16" x2="383" y2="179.16" stroke="#444" stroke-width="0.5" />
<line x1="381.8" y1="175.42" x2="383" y2="175.42" stroke="#444" stroke-width="0.5" />
<line x1="381.8" y1="171.68" x2="383" y2="171.68" stroke="#444" stroke-width="0.5" />
<line x1="381.8" y1="167.94" x2="383" y2="167.94" stroke="#444" stroke-width="0.5" />
<line x1="390" y1="286" x2="390" y2="288.5" stroke="#444" stroke-width="0.7" />
<text x="390" y="299.5" font-family="Liberation Sans" font-size="8.6" fill="#222" text-anchor="middle" font-weight="normal" font-style="normal" >0.0</text>
<line x1="406" y1="286" x2="406" y2="288.5" stroke="#444" stroke-width="0.7" />
<text x="406.8" y="299.5" font-family="Liberation Sans" font-size="8.6" fill="#222" text-anchor="middle" font-weight="normal" font-style="normal" >10<tspan font-size="5.4" dy="-3.5">0</tspan></text>
<line x1="413.22" y1="286" x2="413.22" y2="287.2" stroke="#444" stroke-width="0.5" />
<line x1="417.45" y1="286" x2="417.45" y2="287.2" stroke="#444" stroke-width="0.5" />
<line x1="420.45" y1="286" x2="420.45" y2="287.2" stroke="#444" stroke-width="0.5" />
<line x1="422.78" y1="286" x2="422.78" y2="287.2" stroke="#444" stroke-width="0.5" />
<line x1="424.68" y1="286" x2="424.68" y2="287.2" stroke="#444" stroke-width="0.5" />
<line x1="426.28" y1="286" x2="426.28" y2="287.2" stroke="#444" stroke-width="0.5" />
<line x1="427.67" y1="286" x2="427.67" y2="287.2" stroke="#444" stroke-width="0.5" />
<line x1="428.9" y1="286" x2="428.9" y2="287.2" stroke="#444" stroke-width="0.5" />
<line x1="430" y1="286" x2="430" y2="288.5" stroke="#444" stroke-width="0.7" />
<text x="430.8" y="299.5" font-family="Liberation Sans" font-size="8.6" fill="#222" text-anchor="middle" font-weight="normal" font-style="normal" >10<tspan font-size="5.4" dy="-3.5">1</tspan></text>
<line x1="437.22" y1="286" x2="437.22" y2="287.2" stroke="#444" stroke-width="0.5" />
<line x1="441.45" y1="286" x2="441.45" y2="287.2" stroke="#444" stroke-width="0.5" />
<line x1="444.45" y1="286" x2="444.45" y2="287.2" stroke="#444" stroke-width="0.5" />
<line x1="446.78" y1="286" x2="446.78" y2="287.2" stroke="#444" stroke-width="0.5" />
<line x1="448.68" y1="286" x2="448.68" y2="287.2" stroke="#444" stroke-width="0.5" />
<line x1="450.28" y1="286" x2="450.28" y2="287.2" stroke="#444" stroke-width="0.5" />
<line x1="451.67" y1="286" x2="451.67" y2="287.2" stroke="#444" stroke-width="0.5" />
<line x1="452.9" y1="286" x2="452.9" y2="287.2" stroke="#444" stroke-width="0.5" />
<line x1="454" y1="286" x2="454" y2="288.5" stroke="#444" stroke-width="0.7" />
<text x="454.8" y="299.5" font-family="Liberation Sans" font-size="8.6" fill="#222" text-anchor="middle" font-weight="normal" font-style="normal" >10<tspan font-size="5.4" dy="-3.5">2</tspan></text>
<line x1="461.22" y1="286" x2="461.22" y2="287.2" stroke="#444" stroke-width="0.5" />
<line x1="465.45" y1="286" x2="465.45" y2="287.2" stroke="#444" stroke-width="0.5" />
<line x1="468.45" y1="286" x2="468.45" y2="287.2" stroke="#444" stroke-width="0.5" />
<line x1="470.78" y1="286" x2="470.78" y2="287.2" stroke="#444" stroke-width="0.5" />
<line x1="472.68" y1="286" x2="472.68" y2="287.2" stroke="#444" stroke-width="0.5" />
<line x1="474.28" y1="286" x2="474.28" y2="287.2" stroke="#444" stroke-width="0.5" />
<line x1="475.67" y1="286" x2="475.67" y2="287.2" stroke="#444" stroke-width="0.5" />
<line x1="476.9" y1="286" x2="476.9" y2="287.2" stroke="#444" stroke-width="0.5" />
<line x1="478" y1="286" x2="478" y2="288.5" stroke="#444" stroke-width="0.7" />
<text x="478.8" y="299.5" font-family="Liberation Sans" font-size="8.6" fill="#222" text-anchor="middle" font-weight="normal" font-style="normal" >10<tspan font-size="5.4" dy="-3.5">3</tspan></text>
<line x1="485.22" y1="286" x2="485.22" y2="287.2" stroke="#444" stroke-width="0.5" />
<line x1="489.45" y1="286" x2="489.45" y2="287.2" stroke="#444" stroke-width="0.5" />
<line x1="492.45" y1="286" x2="492.45" y2="287.2" stroke="#444" stroke-width="0.5" />
<line x1="494.78" y1="286" x2="494.78" y2="287.2" stroke="#444" stroke-width="0.5" />
<line x1="496.68" y1="286" x2="496.68" y2="287.2" stroke="#444" stroke-width="0.5" />
<line x1="498.28" y1="286" x2="498.28" y2="287.2" stroke="#444" stroke-width="0.5" />
<line x1="499.67" y1="286" x2="499.67" y2="287.2" stroke="#444" stroke-width="0.5" />
<line x1="500.9" y1="286" x2="500.9" y2="287.2" stroke="#444" stroke-width="0.5" />
<line x1="502" y1="286" x2="502" y2="288.5" stroke="#444" stroke-width="0.7" />
<text x="502.8" y="299.5" font-family="Liberation Sans" font-size="8.6" fill="#222" text-anchor="middle" font-weight="normal" font-style="normal" >10<tspan font-size="5.4" dy="-3.5">4</tspan></text>
<line x1="509.22" y1="286" x2="509.22" y2="287.2" stroke="#444" stroke-width="0.5" />
<line x1="513.45" y1="286" x2="513.45" y2="287.2" stroke="#444" stroke-width="0.5" />
<line x1="516.45" y1="286" x2="516.45" y2="287.2" stroke="#444" stroke-width="0.5" />
<line x1="518.78" y1="286" x2="518.78" y2="287.2" stroke="#444" stroke-width="0.5" />
<line x1="520.68" y1="286" x2="520.68" y2="287.2" stroke="#444" stroke-width="0.5" />
<line x1="522.28" y1="286" x2="522.28" y2="287.2" stroke="#444" stroke-width="0.5" />
<line x1="523.67" y1="286" x2="523.67" y2="287.2" stroke="#444" stroke-width="0.5" />
<line x1="524.9" y1="286" x2="524.9" y2="287.2" stroke="#444" stroke-width="0.5" />
<line x1="526" y1="286" x2="526" y2="288.5" stroke="#444" stroke-width="0.7" />
<text x="526.8" y="299.5" font-family="Liberation Sans" font-size="8.6" fill="#222" text-anchor="middle" font-weight="normal" font-style="normal" >10<tspan font-size="5.4" dy="-3.5">5</tspan></text>
<text x="458.5" y="309" font-family="Liberation Sans" font-size="7.6" fill="#222" text-anchor="middle" font-weight="normal" font-style="normal" >[E2] (pg/mL)</text>
<text x="363.6" y="230" font-family="Liberation Sans" font-size="8.4" fill="#222" text-anchor="middle" font-weight="normal" font-style="normal" transform="rotate(-90 363.6 230)">Δλ<tspan font-size="5.8" dy="2">LSPR</tspan><tspan dy="-2"> (nm)</tspan></text>
<path d="M403,276.4 L406,276.4 L406.42,276.4 L406.83,276.4 L407.25,276.4 L407.67,276.4 L408.09,276.4 L408.5,276.4 L408.92,276.4 L409.34,276.4 L409.76,276.4 L410.17,276.4 L410.59,276.4 L411.01,276.4 L411.43,276.4 L411.84,276.4 L412.26,276.4 L412.68,276.4 L413.1,276.4 L413.51,276.4 L413.93,276.4 L414.35,276.4 L414.77,276.4 L415.18,276.39 L415.6,276.39 L416.02,276.38 L416.43,276.37 L416.85,276.35 L417.27,276.32 L417.69,276.27 L418.1,276.19 L418.52,276.08 L418.94,275.91 L419.36,275.66 L419.77,275.31 L420.19,274.82 L420.61,274.16 L421.03,273.27 L421.44,272.12 L421.86,270.64 L422.28,268.8 L422.7,266.53 L423.11,263.79 L423.53,260.57 L423.95,256.85 L424.37,252.64 L424.78,247.98 L425.2,242.92 L425.62,237.55 L426.03,231.99 L426.45,226.35 L426.87,220.78 L427.29,215.42 L427.7,210.41 L428.12,205.88 L428.54,201.94 L428.96,198.67 L429.37,196.11 L429.79,194.29 L430.21,193.18 L430.63,192.68 L431.04,192.64 L431.46,193 L431.88,193.94 L432.3,195.58 L432.71,197.95 L433.13,201.04 L433.55,204.81 L433.97,209.2 L434.38,214.1 L434.8,219.39 L435.22,224.92 L435.63,230.55 L436.05,236.15 L436.47,241.58 L436.89,246.72 L437.3,251.49 L437.72,255.82 L438.14,259.67 L438.56,263.02 L438.97,265.87 L439.39,268.26 L439.81,270.21 L440.23,271.78 L440.64,273.01 L441.06,273.95 L441.48,274.67 L441.9,275.2 L442.31,275.58 L442.73,275.85 L443.15,276.04 L443.57,276.17 L443.98,276.25 L444.4,276.31 L444.82,276.34 L445.23,276.37 L445.65,276.38 L446.07,276.39 L446.49,276.39 L446.9,276.4 L447.32,276.4 L447.74,276.4 L448.16,276.4 L448.57,276.4 L448.99,276.4 L449.41,276.4 L449.83,276.4 L450.24,276.4 L450.66,276.4 L451.08,276.4 L451.5,276.4 L451.91,276.4 L452.33,276.4 L452.75,276.4 L453.17,276.4 L453.58,276.4 L454,276.4 L454.42,276.4 L454.83,276.4 L455.25,276.4 L455.67,276.4 L456.09,276.4 L456.5,276.4 L456.92,276.4 L457.34,276.4 L457.76,276.4 L458.17,276.4 L458.59,276.4 L459.01,276.4 L459.43,276.4 L459.84,276.4 L460.26,276.4 L460.68,276.4 L461.1,276.4 L461.51,276.4 L461.93,276.4 L462.35,276.4 L462.77,276.4 L463.18,276.4 L463.6,276.4 L464.02,276.4 L464.43,276.4 L464.85,276.4 L465.27,276.4 L465.69,276.4 L466.1,276.4 L466.52,276.4 L466.94,276.4 L467.36,276.4 L467.77,276.4 L468.19,276.4 L468.61,276.4 L469.03,276.4 L469.44,276.4 L469.86,276.4 L470.28,276.4 L470.7,276.4 L471.11,276.4 L471.53,276.4 L471.95,276.4 L472.37,276.4 L472.78,276.4 L473.2,276.4 L473.62,276.4 L474.03,276.4 L474.45,276.4 L474.87,276.4 L475.29,276.4 L475.7,276.4 L476.12,276.4 L476.54,276.4 L476.96,276.4 L477.37,276.4 L477.79,276.4 L478.21,276.4 L478.63,276.4 L479.04,276.4 L479.46,276.4 L479.88,276.4 L480.3,276.4 L480.71,276.4 L481.13,276.4 L481.55,276.4 L481.97,276.4 L482.38,276.4 L482.8,276.4 L483.22,276.4 L483.63,276.4 L484.05,276.4 L484.47,276.4 L484.89,276.4 L485.3,276.4 L485.72,276.4 L486.14,276.4 L486.56,276.4 L486.97,276.4 L487.39,276.4 L487.81,276.4 L488.23,276.4 L488.64,276.4 L489.06,276.4 L489.48,276.4 L489.9,276.4 L490.31,276.4 L490.73,276.4 L491.15,276.4 L491.57,276.4 L491.98,276.4 L492.4,276.4 L492.82,276.4 L493.23,276.4 L493.65,276.4 L494.07,276.4 L494.49,276.4 L494.9,276.4 L495.32,276.4 L495.74,276.4 L496.16,276.4 L496.57,276.4 L496.99,276.4 L497.41,276.4 L497.83,276.4 L498.24,276.4 L498.66,276.4 L499.08,276.4 L499.5,276.4 L499.91,276.4 L500.33,276.4 L500.75,276.4 L501.17,276.4 L501.58,276.4 L502,276.4 L502.42,276.4 L502.83,276.4 L503.25,276.4 L503.67,276.4 L504.09,276.4 L504.5,276.4 L504.92,276.4 L505.34,276.4 L505.76,276.4 L506.17,276.4 L506.59,276.4 L507.01,276.4 L507.43,276.4 L507.84,276.4 L508.26,276.4 L508.68,276.4 L509.1,276.4 L509.51,276.4 L509.93,276.4 L510.35,276.4 L510.77,276.4 L511.18,276.4 L511.6,276.4 L512.02,276.4 L512.43,276.4 L512.85,276.4 L513.27,276.4 L513.69,276.4 L514.1,276.4 L514.52,276.4 L514.94,276.4 L515.36,276.4 L515.77,276.4 L516.19,276.4 L516.61,276.4 L517.03,276.4 L517.44,276.4 L517.86,276.4 L518.28,276.4 L518.7,276.4 L519.11,276.4 L519.53,276.4 L519.95,276.4 L520.37,276.4 L520.78,276.4 L521.2,276.4 L521.62,276.4 L522.03,276.4 L522.45,276.4 L522.87,276.4 L523.29,276.4 L523.7,276.4 L524.12,276.4 L524.54,276.4 L524.96,276.4 L525.37,276.4 L525.79,276.4 L526.21,276.4 L526.63,276.4 L527.04,276.4 L527.46,276.4 L527.88,276.4 L528.3,276.4 L528.71,276.4 L529.13,276.4 L529.55,276.4 L529.97,276.4 L530.38,276.4 L530.8,276.4" fill="none" stroke="#ff3a3a" stroke-width="1.4" stroke-linejoin="round" stroke-linecap="round" />
<path d="M385.5,276.4 L397,276.4" fill="none" stroke="#ff3a3a" stroke-width="1.4" stroke-linejoin="round" stroke-linecap="round" />
<path d="M437.8,246.48 L447.7,268.17 L454.9,268.17 L526,268.17" fill="none" stroke="#333" stroke-width="0.9" stroke-linejoin="round" stroke-linecap="round" stroke-dasharray="3,2" stroke-linecap="butt"/>
<line x1="390" y1="270.79" x2="390" y2="282.01" stroke="#8888cc" stroke-width="0.5" />
<line x1="388.8" y1="270.79" x2="391.2" y2="270.79" stroke="#8888cc" stroke-width="0.5" />
<line x1="388.8" y1="282.01" x2="391.2" y2="282.01" stroke="#8888cc" stroke-width="0.5" />
<rect x="388.7" y="275.1" width="2.6" height="2.6" fill="#1a1aa0" stroke="none" stroke-width="1" />
<line x1="406" y1="272.29" x2="406" y2="283.51" stroke="#8888cc" stroke-width="0.5" />
<line x1="404.8" y1="272.29" x2="407.2" y2="272.29" stroke="#8888cc" stroke-width="0.5" />
<line x1="404.8" y1="283.51" x2="407.2" y2="283.51" stroke="#8888cc" stroke-width="0.5" />
<rect x="404.7" y="276.6" width="2.6" height="2.6" fill="#1a1aa0" stroke="none" stroke-width="1" />
<line x1="413.22" y1="269.67" x2="413.22" y2="280.89" stroke="#8888cc" stroke-width="0.5" />
<line x1="412.02" y1="269.67" x2="414.42" y2="269.67" stroke="#8888cc" stroke-width="0.5" />
<line x1="412.02" y1="280.89" x2="414.42" y2="280.89" stroke="#8888cc" stroke-width="0.5" />
<rect x="411.92" y="273.98" width="2.6" height="2.6" fill="#1a1aa0" stroke="none" stroke-width="1" />
<line x1="420.45" y1="256.58" x2="420.45" y2="267.8" stroke="#8888cc" stroke-width="0.5" />
<line x1="419.25" y1="256.58" x2="421.65" y2="256.58" stroke="#8888cc" stroke-width="0.5" />
<line x1="419.25" y1="267.8" x2="421.65" y2="267.8" stroke="#8888cc" stroke-width="0.5" />
<rect x="419.15" y="260.89" width="2.6" height="2.6" fill="#1a1aa0" stroke="none" stroke-width="1" />
<line x1="424.68" y1="247.6" x2="424.68" y2="258.82" stroke="#8888cc" stroke-width="0.5" />
<line x1="423.48" y1="247.6" x2="425.88" y2="247.6" stroke="#8888cc" stroke-width="0.5" />
<line x1="423.48" y1="258.82" x2="425.88" y2="258.82" stroke="#8888cc" stroke-width="0.5" />
<rect x="423.38" y="251.91" width="2.6" height="2.6" fill="#1a1aa0" stroke="none" stroke-width="1" />
<line x1="427.67" y1="177.29" x2="427.67" y2="186.27" stroke="#8888cc" stroke-width="0.5" />
<line x1="426.47" y1="177.29" x2="428.87" y2="177.29" stroke="#8888cc" stroke-width="0.5" />
<line x1="426.47" y1="186.27" x2="428.87" y2="186.27" stroke="#8888cc" stroke-width="0.5" />
<rect x="426.37" y="180.48" width="2.6" height="2.6" fill="#1a1aa0" stroke="none" stroke-width="1" />
<line x1="430" y1="180.28" x2="430" y2="191.5" stroke="#8888cc" stroke-width="0.5" />
<line x1="428.8" y1="180.28" x2="431.2" y2="180.28" stroke="#8888cc" stroke-width="0.5" />
<line x1="428.8" y1="191.5" x2="431.2" y2="191.5" stroke="#8888cc" stroke-width="0.5" />
<rect x="428.7" y="184.59" width="2.6" height="2.6" fill="#1a1aa0" stroke="none" stroke-width="1" />
<line x1="431.9" y1="207.58" x2="431.9" y2="224.04" stroke="#8888cc" stroke-width="0.5" />
<line x1="430.7" y1="207.58" x2="433.1" y2="207.58" stroke="#8888cc" stroke-width="0.5" />
<line x1="430.7" y1="224.04" x2="433.1" y2="224.04" stroke="#8888cc" stroke-width="0.5" />
<rect x="430.6" y="214.51" width="2.6" height="2.6" fill="#1a1aa0" stroke="none" stroke-width="1" />
<line x1="437.22" y1="241.62" x2="437.22" y2="251.34" stroke="#8888cc" stroke-width="0.5" />
<line x1="436.02" y1="241.62" x2="438.42" y2="241.62" stroke="#8888cc" stroke-width="0.5" />
<line x1="436.02" y1="251.34" x2="438.42" y2="251.34" stroke="#8888cc" stroke-width="0.5" />
<rect x="435.92" y="245.18" width="2.6" height="2.6" fill="#1a1aa0" stroke="none" stroke-width="1" />
<line x1="446.78" y1="264.81" x2="446.78" y2="276.03" stroke="#8888cc" stroke-width="0.5" />
<line x1="445.58" y1="264.81" x2="447.98" y2="264.81" stroke="#8888cc" stroke-width="0.5" />
<line x1="445.58" y1="276.03" x2="447.98" y2="276.03" stroke="#8888cc" stroke-width="0.5" />
<rect x="445.48" y="269.12" width="2.6" height="2.6" fill="#1a1aa0" stroke="none" stroke-width="1" />
<line x1="454" y1="262.19" x2="454" y2="273.41" stroke="#8888cc" stroke-width="0.5" />
<line x1="452.8" y1="262.19" x2="455.2" y2="262.19" stroke="#8888cc" stroke-width="0.5" />
<line x1="452.8" y1="273.41" x2="455.2" y2="273.41" stroke="#8888cc" stroke-width="0.5" />
<rect x="452.7" y="266.5" width="2.6" height="2.6" fill="#1a1aa0" stroke="none" stroke-width="1" />
<line x1="526" y1="264.06" x2="526" y2="273.78" stroke="#8888cc" stroke-width="0.5" />
<line x1="524.8" y1="264.06" x2="527.2" y2="264.06" stroke="#8888cc" stroke-width="0.5" />
<line x1="524.8" y1="273.78" x2="527.2" y2="273.78" stroke="#8888cc" stroke-width="0.5" />
<rect x="524.7" y="267.62" width="2.6" height="2.6" fill="#1a1aa0" stroke="none" stroke-width="1" />
<text x="446.9" y="179.5" font-family="Liberation Serif" font-size="6.8" fill="#222" text-anchor="start" font-weight="normal" font-style="normal" stroke="#222" stroke-width="0.15">Δ<tspan font-style="italic">λ</tspan><tspan font-size="4.5" dy="1.3" font-style="italic">LSPR</tspan><tspan dy="-1.3">= </tspan><tspan font-style="italic">a</tspan><tspan font-size="4.5" dy="1.3" font-style="italic">eff</tspan></text>
<text x="480.3" y="182" font-family="Liberation Serif" font-size="9.5" fill="#222" text-anchor="start" font-weight="normal" font-style="normal" >(</text>
<text x="484.4" y="180.2" font-family="Liberation Serif" font-size="6.8" fill="#222" text-anchor="start" font-weight="normal" font-style="normal" stroke="#222" stroke-width="0.15">1 − <tspan font-style="italic">e</tspan></text>
<text x="498.3" y="175.8" font-family="Liberation Serif" font-size="5.0" fill="#222" text-anchor="start" font-weight="normal" font-style="normal"  stroke="#222" stroke-width="0.14">−(</text>
<text x="513.3" y="173" font-family="Liberation Serif" font-size="3.6" fill="#222" text-anchor="middle" font-weight="normal" font-style="italic"  stroke="#222" stroke-width="0.14">R[E2]</text>
<line x1="503.6" y1="174.2" x2="523" y2="174.2" stroke="#222" stroke-width="0.35" />
<text x="513.3" y="177.4" font-family="Liberation Serif" font-size="3.6" fill="#222" text-anchor="middle" font-weight="normal" font-style="italic"  stroke="#222" stroke-width="0.14">(K+[E2])</text>
<text x="523.2" y="175.8" font-family="Liberation Serif" font-size="5.0" fill="#222" text-anchor="start" font-weight="normal" font-style="normal"  stroke="#222" stroke-width="0.14">)</text>
<text x="526.2" y="171.3" font-family="Liberation Serif" font-size="3.4" fill="#222" text-anchor="start" font-weight="normal" font-style="italic"  stroke="#222" stroke-width="0.14">n</text>
<text x="528" y="182" font-family="Liberation Serif" font-size="9.5" fill="#222" text-anchor="start" font-weight="normal" font-style="normal" >)</text>
<text x="446.9" y="193.6" font-family="Liberation Serif" font-size="6.7" fill="#222" text-anchor="start" font-weight="normal" font-style="normal" stroke="#222" stroke-width="0.15"><tspan font-style="italic">a</tspan><tspan font-size="4.5" dy="1.3" font-style="italic">eff</tspan><tspan dy="-1.3"> = 25.4 nm</tspan></text>
<text x="446.9" y="203.8" font-family="Liberation Serif" font-size="6.7" fill="#222" text-anchor="start" font-weight="normal" font-style="normal" stroke="#222" stroke-width="0.15"><tspan font-style="italic">R</tspan> = 43 ± 3 pg/mL</text>
<text x="446.9" y="214.9" font-family="Liberation Serif" font-size="6.7" fill="#222" text-anchor="start" font-weight="normal" font-style="normal" stroke="#222" stroke-width="0.15"><tspan font-style="italic">K</tspan> = 10.4 ± 0.7 pg/mL</text>
<text x="446.9" y="225.3" font-family="Liberation Serif" font-size="6.7" fill="#222" text-anchor="start" font-weight="normal" font-style="normal" stroke="#222" stroke-width="0.15">n = 19 ± 6</text>
<text x="446.9" y="235.9" font-family="Liberation Serif" font-size="6.7" fill="#222" text-anchor="start" font-weight="normal" font-style="normal" stroke="#222" stroke-width="0.15"><tspan font-style="italic">R</tspan><tspan font-size="4.2" dy="-2.6">2</tspan><tspan dy="2.6"> = 0.89</tspan></text>
<rect x="6" y="6" width="538" height="315" fill="none" stroke="#00b050" stroke-width="2.2" />
<line x1="180" y1="6" x2="180" y2="321" stroke="#00b050" stroke-width="2.4" />
</svg></body></html>
